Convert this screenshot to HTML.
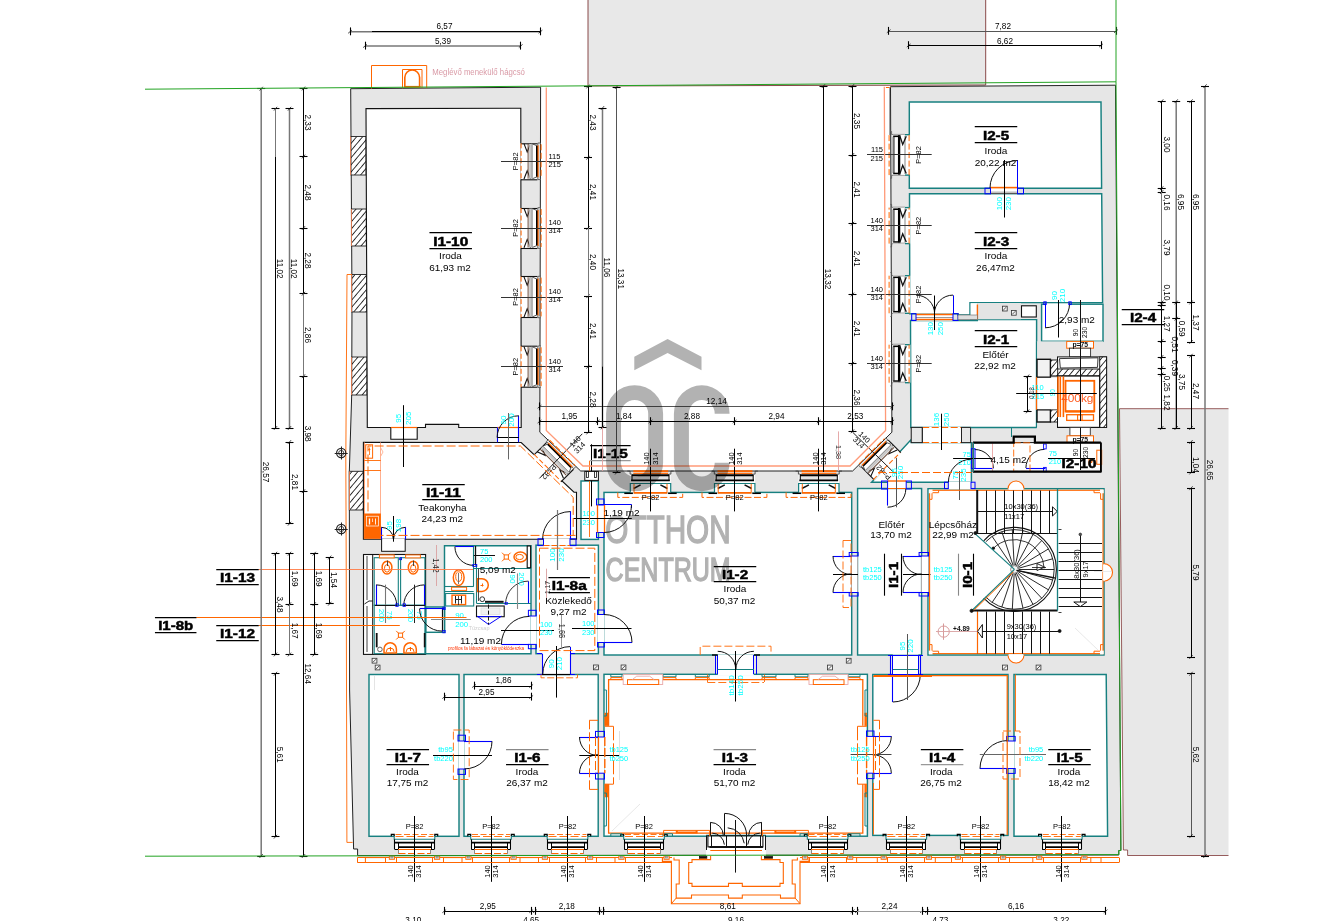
<!DOCTYPE html>
<html lang="hu"><head><meta charset="utf-8"><title>Alaprajz</title>
<style>
html,body{margin:0;padding:0;background:#fff;}
body{width:1337px;height:921px;overflow:hidden;}
svg{display:block;font-family:"Liberation Sans",Arial,sans-serif;}
svg text{white-space:pre;}
</style></head><body>
<svg width="1337" height="921" viewBox="0 0 1337 921">
<defs>
<pattern id="hatch" width="4.6" height="4.6" patternUnits="userSpaceOnUse" patternTransform="rotate(-50)">
<rect width="4.6" height="4.6" fill="#fff"/><line x1="0" y1="2.3" x2="4.6" y2="2.3" stroke="#222" stroke-width="0.9"/>
</pattern>
</defs>
<rect width="1337" height="921" fill="#fff"/>
<polygon points="588,0 985.7,0 985.7,85 588,86" fill="#e8e8e8" stroke="none" stroke-width="0"/>
<polyline points="588,0 588,86 985.7,85 985.7,0" fill="none" stroke="#7d3535" stroke-width="0.9"/>
<polygon points="1119.5,408.7 1228.5,408.7 1228.5,855.5 1127.6,855.5 1127.6,850 1123.4,850" fill="#e8e8e8" stroke="none" stroke-width="0"/>
<polyline points="1228.5,408.7 1119.5,408.7 1123.4,850 1127.6,850 1127.6,855.5 1228.5,855.5" fill="none" stroke="#7d3535" stroke-width="0.8"/>
<polygon points="350.7,88.7 540.6,87.2 539.8,432.2 580.7,471 852.6,471 891.9,432.2 890.5,86.7 1115.5,85.2 1120.9,850.5 1118.8,850.5 1118.8,855 357.6,855.6 357.6,849 353.6,849 349.6,690 349.3,472 351.7,395 352,300" fill="#e6e6e6" stroke="#222" stroke-width="1"/>
<rect x="351" y="136.5" width="15" height="38.5" fill="url(#hatch)" stroke="#222" stroke-width="0.9"/>
<line x1="350.5" y1="136.5" x2="350.5" y2="175" stroke="#ff8855" stroke-width="0.8"/>
<rect x="351.4" y="209" width="14.9" height="37" fill="url(#hatch)" stroke="#222" stroke-width="0.9"/>
<line x1="351.5" y1="209" x2="351.5" y2="246" stroke="#ff8855" stroke-width="0.8"/>
<rect x="351.8" y="274.5" width="15" height="37.5" fill="url(#hatch)" stroke="#222" stroke-width="0.9"/>
<line x1="351.5" y1="274.5" x2="351.5" y2="312" stroke="#ff8855" stroke-width="0.8"/>
<rect x="351.8" y="357" width="15.2" height="38" fill="url(#hatch)" stroke="#222" stroke-width="0.9"/>
<line x1="351.5" y1="357" x2="351.5" y2="395" stroke="#ff8855" stroke-width="0.8"/>
<rect x="349.3" y="471.3" width="14.1" height="38.7" fill="url(#hatch)" stroke="#222" stroke-width="0.9"/>
<line x1="349.5" y1="471.3" x2="349.5" y2="510" stroke="#ff8855" stroke-width="0.8"/>
<polyline points="352,274.5 347,274.5 345.8,460 346.2,560 346.9,842.4 352.6,842.4" fill="none" stroke="#ff6600" stroke-width="0.9"/>
<polygon points="366,108.6 520.8,108.3 521.2,427.5 458.7,427.5 458.7,424.4 425.5,424.4 425.5,427.5 417.2,427.5 417.2,439.3 390.8,439.3 390.8,427.5 367.3,427.5" fill="#fff" stroke="#111" stroke-width="1.1"/>
<polygon points="363.4,442.3 521.2,442.5 574,492.2 576.5,492.2 576.5,539.3 363.4,539.3" fill="#fff" stroke="#111" stroke-width="1.1"/>
<rect x="381.6" y="539.3" width="23.6" height="12" fill="#fff" stroke="#111" stroke-width="1"/>
<line x1="382.2" y1="539.3" x2="404.6" y2="539.3" stroke="#fff" stroke-width="1.4"/>
<rect x="363.5" y="554.5" width="62.1" height="99.9" fill="#fff" stroke="#111" stroke-width="1.1"/>
<polygon points="444.5,545.7 531,545.7 531,653.7 425.6,653.7 425.6,632.3 444.5,632.3" fill="#fff" stroke="#178080" stroke-width="1.45"/>
<rect x="425.9" y="607" width="18.6" height="25.3" fill="#fff" stroke="#178080" stroke-width="1.45"/>
<rect x="536" y="545.2" width="62.4" height="108.5" fill="#fff" stroke="#178080" stroke-width="1.45"/>
<rect x="581" y="481" width="17.4" height="58.4" fill="#fff" stroke="#178080" stroke-width="1.45"/>
<rect x="604" y="492.4" width="247.7" height="162.6" fill="#fff" stroke="#178080" stroke-width="1.45"/>
<rect x="857.6" y="488.5" width="64" height="166.5" fill="#fff" stroke="#178080" stroke-width="1.45"/>
<rect x="928" y="488.7" width="176" height="166.3" fill="#fff" stroke="#178080" stroke-width="1.45"/>
<polygon points="911.2,442.6 971.4,442.6 971.4,482.2 871.6,482.2 911.2,439.6" fill="#fff" stroke="#178080" stroke-width="1.45"/>
<polygon points="909.3,102 1101,102 1101.6,188.2 909.3,188.2" fill="#fff" stroke="#178080" stroke-width="1.45"/>
<polygon points="909.5,193.8 1101.7,193.8 1102.6,302.6 970,302.6 970,315 958,315 958,313.7 909.8,313.7" fill="#fff" stroke="#178080" stroke-width="1.45"/>
<line x1="909.3" y1="191" x2="1101.6" y2="191" stroke="#dedede" stroke-width="4.2"/>
<polygon points="910.5,320.5 977.3,320.5 977.3,319.6 1036.6,319.6 1036.6,427.5 910.8,427.5" fill="#fff" stroke="#178080" stroke-width="1.45"/>
<rect x="970.6" y="303.2" width="6.7" height="16" fill="#fff" stroke="none" stroke-width="0"/>
<line x1="970" y1="319.5" x2="1036.6" y2="319.5" stroke="#178080" stroke-width="1.1"/>
<rect x="977.5" y="303" width="43.5" height="16.3" fill="#e4e4e4" stroke="none" stroke-width="0"/>
<line x1="977.4" y1="304.5" x2="977.4" y2="319.3" stroke="#ff6600" stroke-width="1.4"/>
<rect x="1021.5" y="305.8" width="14.8" height="11.2" fill="#fff" stroke="#111" stroke-width="1.1"/>
<rect x="1041.6" y="304.2" width="61.4" height="37.1" fill="#fff" stroke="#178080" stroke-width="1.45"/>
<rect x="973" y="442.6" width="127.9" height="29" fill="#fff" stroke="#111" stroke-width="1"/>
<rect x="369" y="674.5" width="90" height="161.8" fill="#fff" stroke="#178080" stroke-width="1.45"/>
<rect x="464" y="674.5" width="134.2" height="161.8" fill="#fff" stroke="#178080" stroke-width="1.45"/>
<rect x="604" y="674.3" width="263.4" height="161.9" fill="#fff" stroke="#178080" stroke-width="1.45"/>
<rect x="872.8" y="674.5" width="135.2" height="160.9" fill="#fff" stroke="#178080" stroke-width="1.45"/>
<polygon points="1014,674.5 1106.2,674.5 1107.6,836.2 1014,836.2" fill="#fff" stroke="#178080" stroke-width="1.45"/>
<rect x="394.2" y="834.3" width="40.6" height="15.2" fill="#fff" stroke="none" stroke-width="0"/>
<rect x="398.2" y="849.3" width="32.6" height="4.8" fill="#fff" stroke="none" stroke-width="0"/>
<polyline points="394.2,836.3 394.2,839.3 434.8,839.3 434.8,836.3" fill="none" stroke="#178080" stroke-width="1.1"/>
<line x1="394.9" y1="842.7" x2="434.1" y2="842.7" stroke="#000" stroke-width="1.7"/>
<line x1="398" y1="847.2" x2="431" y2="847.2" stroke="#000" stroke-width="1.7"/>
<line x1="394.5" y1="839.3" x2="394.5" y2="849.5" stroke="#000" stroke-width="1.1"/>
<line x1="398.5" y1="842.7" x2="398.5" y2="849.5" stroke="#000" stroke-width="1"/>
<line x1="394.9" y1="849.5" x2="398" y2="849.5" stroke="#000" stroke-width="1"/>
<line x1="398.5" y1="849.5" x2="398.5" y2="853.9" stroke="#888" stroke-width="1"/>
<polyline points="391.3,836.3 391.3,834.3 394.2,834.3 394.2,836.3" fill="none" stroke="#000" stroke-width="1.2"/>
<line x1="434.5" y1="839.3" x2="434.5" y2="849.5" stroke="#000" stroke-width="1.1"/>
<line x1="431.5" y1="842.7" x2="431.5" y2="849.5" stroke="#000" stroke-width="1"/>
<line x1="434.1" y1="849.5" x2="431" y2="849.5" stroke="#000" stroke-width="1"/>
<line x1="430.5" y1="849.5" x2="430.5" y2="853.9" stroke="#888" stroke-width="1"/>
<polyline points="437.7,836.3 437.7,834.3 434.8,834.3 434.8,836.3" fill="none" stroke="#000" stroke-width="1.2"/>
<line x1="395.5" y1="834.5" x2="433.5" y2="834.5" stroke="#ff6600" stroke-width="0.9" stroke-dasharray="6 2.5"/>
<line x1="395.5" y1="836.5" x2="433.5" y2="836.5" stroke="#ff6600" stroke-width="0.9" stroke-dasharray="8 3"/>
<line x1="398" y1="849.5" x2="431" y2="849.5" stroke="#ff6600" stroke-width="1"/>
<line x1="398.5" y1="853.5" x2="430.5" y2="853.5" stroke="#ff6600" stroke-width="1" stroke-dasharray="7 2.5"/>
<line x1="414.5" y1="816" x2="414.5" y2="881.8" stroke="#000" stroke-width="1"/>
<text transform="translate(414.5 828.7)" font-size="7.5" text-anchor="middle" fill="#000">P=82</text>
<text transform="translate(413.3 871.5) rotate(-90)" font-size="7.5" text-anchor="middle" fill="#000">140</text>
<text transform="translate(421.4 871.5) rotate(-90)" font-size="7.5" text-anchor="middle" fill="#000">314</text>
<rect x="470.7" y="834.3" width="40.6" height="15.2" fill="#fff" stroke="none" stroke-width="0"/>
<rect x="474.7" y="849.3" width="32.6" height="4.8" fill="#fff" stroke="none" stroke-width="0"/>
<polyline points="470.7,836.3 470.7,839.3 511.3,839.3 511.3,836.3" fill="none" stroke="#178080" stroke-width="1.1"/>
<line x1="471.4" y1="842.7" x2="510.6" y2="842.7" stroke="#000" stroke-width="1.7"/>
<line x1="474.5" y1="847.2" x2="507.5" y2="847.2" stroke="#000" stroke-width="1.7"/>
<line x1="471.5" y1="839.3" x2="471.5" y2="849.5" stroke="#000" stroke-width="1.1"/>
<line x1="474.5" y1="842.7" x2="474.5" y2="849.5" stroke="#000" stroke-width="1"/>
<line x1="471.4" y1="849.5" x2="474.5" y2="849.5" stroke="#000" stroke-width="1"/>
<line x1="474.5" y1="849.5" x2="474.5" y2="853.9" stroke="#888" stroke-width="1"/>
<polyline points="467.8,836.3 467.8,834.3 470.7,834.3 470.7,836.3" fill="none" stroke="#000" stroke-width="1.2"/>
<line x1="510.5" y1="839.3" x2="510.5" y2="849.5" stroke="#000" stroke-width="1.1"/>
<line x1="507.5" y1="842.7" x2="507.5" y2="849.5" stroke="#000" stroke-width="1"/>
<line x1="510.6" y1="849.5" x2="507.5" y2="849.5" stroke="#000" stroke-width="1"/>
<line x1="507.5" y1="849.5" x2="507.5" y2="853.9" stroke="#888" stroke-width="1"/>
<polyline points="514.2,836.3 514.2,834.3 511.3,834.3 511.3,836.3" fill="none" stroke="#000" stroke-width="1.2"/>
<line x1="472" y1="834.5" x2="510" y2="834.5" stroke="#ff6600" stroke-width="0.9" stroke-dasharray="6 2.5"/>
<line x1="472" y1="836.5" x2="510" y2="836.5" stroke="#ff6600" stroke-width="0.9" stroke-dasharray="8 3"/>
<line x1="474.5" y1="849.5" x2="507.5" y2="849.5" stroke="#ff6600" stroke-width="1"/>
<line x1="475" y1="853.5" x2="507" y2="853.5" stroke="#ff6600" stroke-width="1" stroke-dasharray="7 2.5"/>
<line x1="491.5" y1="816" x2="491.5" y2="881.8" stroke="#000" stroke-width="1"/>
<text transform="translate(491 828.7)" font-size="7.5" text-anchor="middle" fill="#000">P=82</text>
<text transform="translate(489.8 871.5) rotate(-90)" font-size="7.5" text-anchor="middle" fill="#000">140</text>
<text transform="translate(497.9 871.5) rotate(-90)" font-size="7.5" text-anchor="middle" fill="#000">314</text>
<rect x="547.2" y="834.3" width="40.6" height="15.2" fill="#fff" stroke="none" stroke-width="0"/>
<rect x="551.2" y="849.3" width="32.6" height="4.8" fill="#fff" stroke="none" stroke-width="0"/>
<polyline points="547.2,836.3 547.2,839.3 587.8,839.3 587.8,836.3" fill="none" stroke="#178080" stroke-width="1.1"/>
<line x1="547.9" y1="842.7" x2="587.1" y2="842.7" stroke="#000" stroke-width="1.7"/>
<line x1="551" y1="847.2" x2="584" y2="847.2" stroke="#000" stroke-width="1.7"/>
<line x1="547.5" y1="839.3" x2="547.5" y2="849.5" stroke="#000" stroke-width="1.1"/>
<line x1="551.5" y1="842.7" x2="551.5" y2="849.5" stroke="#000" stroke-width="1"/>
<line x1="547.9" y1="849.5" x2="551" y2="849.5" stroke="#000" stroke-width="1"/>
<line x1="551.5" y1="849.5" x2="551.5" y2="853.9" stroke="#888" stroke-width="1"/>
<polyline points="544.3,836.3 544.3,834.3 547.2,834.3 547.2,836.3" fill="none" stroke="#000" stroke-width="1.2"/>
<line x1="587.5" y1="839.3" x2="587.5" y2="849.5" stroke="#000" stroke-width="1.1"/>
<line x1="584.5" y1="842.7" x2="584.5" y2="849.5" stroke="#000" stroke-width="1"/>
<line x1="587.1" y1="849.5" x2="584" y2="849.5" stroke="#000" stroke-width="1"/>
<line x1="583.5" y1="849.5" x2="583.5" y2="853.9" stroke="#888" stroke-width="1"/>
<polyline points="590.7,836.3 590.7,834.3 587.8,834.3 587.8,836.3" fill="none" stroke="#000" stroke-width="1.2"/>
<line x1="548.5" y1="834.5" x2="586.5" y2="834.5" stroke="#ff6600" stroke-width="0.9" stroke-dasharray="6 2.5"/>
<line x1="548.5" y1="836.5" x2="586.5" y2="836.5" stroke="#ff6600" stroke-width="0.9" stroke-dasharray="8 3"/>
<line x1="551" y1="849.5" x2="584" y2="849.5" stroke="#ff6600" stroke-width="1"/>
<line x1="551.5" y1="853.5" x2="583.5" y2="853.5" stroke="#ff6600" stroke-width="1" stroke-dasharray="7 2.5"/>
<line x1="567.5" y1="816" x2="567.5" y2="881.8" stroke="#000" stroke-width="1"/>
<text transform="translate(567.5 828.7)" font-size="7.5" text-anchor="middle" fill="#000">P=82</text>
<text transform="translate(566.3 871.5) rotate(-90)" font-size="7.5" text-anchor="middle" fill="#000">140</text>
<text transform="translate(574.4 871.5) rotate(-90)" font-size="7.5" text-anchor="middle" fill="#000">314</text>
<rect x="623.7" y="834.3" width="40.6" height="15.2" fill="#fff" stroke="none" stroke-width="0"/>
<rect x="627.7" y="849.3" width="32.6" height="4.8" fill="#fff" stroke="none" stroke-width="0"/>
<polyline points="623.7,836.3 623.7,839.3 664.3,839.3 664.3,836.3" fill="none" stroke="#178080" stroke-width="1.1"/>
<line x1="624.4" y1="842.7" x2="663.6" y2="842.7" stroke="#000" stroke-width="1.7"/>
<line x1="627.5" y1="847.2" x2="660.5" y2="847.2" stroke="#000" stroke-width="1.7"/>
<line x1="624.5" y1="839.3" x2="624.5" y2="849.5" stroke="#000" stroke-width="1.1"/>
<line x1="627.5" y1="842.7" x2="627.5" y2="849.5" stroke="#000" stroke-width="1"/>
<line x1="624.4" y1="849.5" x2="627.5" y2="849.5" stroke="#000" stroke-width="1"/>
<line x1="627.5" y1="849.5" x2="627.5" y2="853.9" stroke="#888" stroke-width="1"/>
<polyline points="620.8,836.3 620.8,834.3 623.7,834.3 623.7,836.3" fill="none" stroke="#000" stroke-width="1.2"/>
<line x1="663.5" y1="839.3" x2="663.5" y2="849.5" stroke="#000" stroke-width="1.1"/>
<line x1="660.5" y1="842.7" x2="660.5" y2="849.5" stroke="#000" stroke-width="1"/>
<line x1="663.6" y1="849.5" x2="660.5" y2="849.5" stroke="#000" stroke-width="1"/>
<line x1="660.5" y1="849.5" x2="660.5" y2="853.9" stroke="#888" stroke-width="1"/>
<polyline points="667.2,836.3 667.2,834.3 664.3,834.3 664.3,836.3" fill="none" stroke="#000" stroke-width="1.2"/>
<line x1="625" y1="834.5" x2="663" y2="834.5" stroke="#ff6600" stroke-width="0.9" stroke-dasharray="6 2.5"/>
<line x1="625" y1="836.5" x2="663" y2="836.5" stroke="#ff6600" stroke-width="0.9" stroke-dasharray="8 3"/>
<line x1="627.5" y1="849.5" x2="660.5" y2="849.5" stroke="#ff6600" stroke-width="1"/>
<line x1="628" y1="853.5" x2="660" y2="853.5" stroke="#ff6600" stroke-width="1" stroke-dasharray="7 2.5"/>
<line x1="644.5" y1="816" x2="644.5" y2="881.8" stroke="#000" stroke-width="1"/>
<text transform="translate(644 828.7)" font-size="7.5" text-anchor="middle" fill="#000">P=82</text>
<text transform="translate(642.8 871.5) rotate(-90)" font-size="7.5" text-anchor="middle" fill="#000">140</text>
<text transform="translate(650.9 871.5) rotate(-90)" font-size="7.5" text-anchor="middle" fill="#000">314</text>
<rect x="807.3" y="834.3" width="40.6" height="15.2" fill="#fff" stroke="none" stroke-width="0"/>
<rect x="811.3" y="849.3" width="32.6" height="4.8" fill="#fff" stroke="none" stroke-width="0"/>
<polyline points="807.3,836.3 807.3,839.3 847.9,839.3 847.9,836.3" fill="none" stroke="#178080" stroke-width="1.1"/>
<line x1="808" y1="842.7" x2="847.2" y2="842.7" stroke="#000" stroke-width="1.7"/>
<line x1="811.1" y1="847.2" x2="844.1" y2="847.2" stroke="#000" stroke-width="1.7"/>
<line x1="808.5" y1="839.3" x2="808.5" y2="849.5" stroke="#000" stroke-width="1.1"/>
<line x1="811.5" y1="842.7" x2="811.5" y2="849.5" stroke="#000" stroke-width="1"/>
<line x1="808" y1="849.5" x2="811.1" y2="849.5" stroke="#000" stroke-width="1"/>
<line x1="811.5" y1="849.5" x2="811.5" y2="853.9" stroke="#888" stroke-width="1"/>
<polyline points="804.4,836.3 804.4,834.3 807.3,834.3 807.3,836.3" fill="none" stroke="#000" stroke-width="1.2"/>
<line x1="847.5" y1="839.3" x2="847.5" y2="849.5" stroke="#000" stroke-width="1.1"/>
<line x1="844.5" y1="842.7" x2="844.5" y2="849.5" stroke="#000" stroke-width="1"/>
<line x1="847.2" y1="849.5" x2="844.1" y2="849.5" stroke="#000" stroke-width="1"/>
<line x1="843.5" y1="849.5" x2="843.5" y2="853.9" stroke="#888" stroke-width="1"/>
<polyline points="850.8,836.3 850.8,834.3 847.9,834.3 847.9,836.3" fill="none" stroke="#000" stroke-width="1.2"/>
<line x1="808.6" y1="834.5" x2="846.6" y2="834.5" stroke="#ff6600" stroke-width="0.9" stroke-dasharray="6 2.5"/>
<line x1="808.6" y1="836.5" x2="846.6" y2="836.5" stroke="#ff6600" stroke-width="0.9" stroke-dasharray="8 3"/>
<line x1="811.1" y1="849.5" x2="844.1" y2="849.5" stroke="#ff6600" stroke-width="1"/>
<line x1="811.6" y1="853.5" x2="843.6" y2="853.5" stroke="#ff6600" stroke-width="1" stroke-dasharray="7 2.5"/>
<line x1="827.5" y1="816" x2="827.5" y2="881.8" stroke="#000" stroke-width="1"/>
<text transform="translate(827.6 828.7)" font-size="7.5" text-anchor="middle" fill="#000">P=82</text>
<text transform="translate(826.4 871.5) rotate(-90)" font-size="7.5" text-anchor="middle" fill="#000">140</text>
<text transform="translate(834.5 871.5) rotate(-90)" font-size="7.5" text-anchor="middle" fill="#000">314</text>
<rect x="886" y="834.3" width="40.6" height="15.2" fill="#fff" stroke="none" stroke-width="0"/>
<rect x="890" y="849.3" width="32.6" height="4.8" fill="#fff" stroke="none" stroke-width="0"/>
<polyline points="886,836.3 886,839.3 926.6,839.3 926.6,836.3" fill="none" stroke="#178080" stroke-width="1.1"/>
<line x1="886.7" y1="842.7" x2="925.9" y2="842.7" stroke="#000" stroke-width="1.7"/>
<line x1="889.8" y1="847.2" x2="922.8" y2="847.2" stroke="#000" stroke-width="1.7"/>
<line x1="886.5" y1="839.3" x2="886.5" y2="849.5" stroke="#000" stroke-width="1.1"/>
<line x1="889.5" y1="842.7" x2="889.5" y2="849.5" stroke="#000" stroke-width="1"/>
<line x1="886.7" y1="849.5" x2="889.8" y2="849.5" stroke="#000" stroke-width="1"/>
<line x1="890.5" y1="849.5" x2="890.5" y2="853.9" stroke="#888" stroke-width="1"/>
<polyline points="883.1,836.3 883.1,834.3 886,834.3 886,836.3" fill="none" stroke="#000" stroke-width="1.2"/>
<line x1="925.5" y1="839.3" x2="925.5" y2="849.5" stroke="#000" stroke-width="1.1"/>
<line x1="922.5" y1="842.7" x2="922.5" y2="849.5" stroke="#000" stroke-width="1"/>
<line x1="925.9" y1="849.5" x2="922.8" y2="849.5" stroke="#000" stroke-width="1"/>
<line x1="922.5" y1="849.5" x2="922.5" y2="853.9" stroke="#888" stroke-width="1"/>
<polyline points="929.5,836.3 929.5,834.3 926.6,834.3 926.6,836.3" fill="none" stroke="#000" stroke-width="1.2"/>
<line x1="887.3" y1="834.5" x2="925.3" y2="834.5" stroke="#ff6600" stroke-width="0.9" stroke-dasharray="6 2.5"/>
<line x1="887.3" y1="836.5" x2="925.3" y2="836.5" stroke="#ff6600" stroke-width="0.9" stroke-dasharray="8 3"/>
<line x1="889.8" y1="849.5" x2="922.8" y2="849.5" stroke="#ff6600" stroke-width="1"/>
<line x1="890.3" y1="853.5" x2="922.3" y2="853.5" stroke="#ff6600" stroke-width="1" stroke-dasharray="7 2.5"/>
<line x1="906.5" y1="816" x2="906.5" y2="881.8" stroke="#000" stroke-width="1"/>
<text transform="translate(906.3 828.7)" font-size="7.5" text-anchor="middle" fill="#000">P=82</text>
<text transform="translate(905.1 871.5) rotate(-90)" font-size="7.5" text-anchor="middle" fill="#000">140</text>
<text transform="translate(913.2 871.5) rotate(-90)" font-size="7.5" text-anchor="middle" fill="#000">314</text>
<rect x="960.2" y="834.3" width="40.6" height="15.2" fill="#fff" stroke="none" stroke-width="0"/>
<rect x="964.2" y="849.3" width="32.6" height="4.8" fill="#fff" stroke="none" stroke-width="0"/>
<polyline points="960.2,836.3 960.2,839.3 1000.8,839.3 1000.8,836.3" fill="none" stroke="#178080" stroke-width="1.1"/>
<line x1="960.9" y1="842.7" x2="1000.1" y2="842.7" stroke="#000" stroke-width="1.7"/>
<line x1="964" y1="847.2" x2="997" y2="847.2" stroke="#000" stroke-width="1.7"/>
<line x1="960.5" y1="839.3" x2="960.5" y2="849.5" stroke="#000" stroke-width="1.1"/>
<line x1="964.5" y1="842.7" x2="964.5" y2="849.5" stroke="#000" stroke-width="1"/>
<line x1="960.9" y1="849.5" x2="964" y2="849.5" stroke="#000" stroke-width="1"/>
<line x1="964.5" y1="849.5" x2="964.5" y2="853.9" stroke="#888" stroke-width="1"/>
<polyline points="957.3,836.3 957.3,834.3 960.2,834.3 960.2,836.3" fill="none" stroke="#000" stroke-width="1.2"/>
<line x1="1000.5" y1="839.3" x2="1000.5" y2="849.5" stroke="#000" stroke-width="1.1"/>
<line x1="997.5" y1="842.7" x2="997.5" y2="849.5" stroke="#000" stroke-width="1"/>
<line x1="1000.1" y1="849.5" x2="997" y2="849.5" stroke="#000" stroke-width="1"/>
<line x1="996.5" y1="849.5" x2="996.5" y2="853.9" stroke="#888" stroke-width="1"/>
<polyline points="1003.7,836.3 1003.7,834.3 1000.8,834.3 1000.8,836.3" fill="none" stroke="#000" stroke-width="1.2"/>
<line x1="961.5" y1="834.5" x2="999.5" y2="834.5" stroke="#ff6600" stroke-width="0.9" stroke-dasharray="6 2.5"/>
<line x1="961.5" y1="836.5" x2="999.5" y2="836.5" stroke="#ff6600" stroke-width="0.9" stroke-dasharray="8 3"/>
<line x1="964" y1="849.5" x2="997" y2="849.5" stroke="#ff6600" stroke-width="1"/>
<line x1="964.5" y1="853.5" x2="996.5" y2="853.5" stroke="#ff6600" stroke-width="1" stroke-dasharray="7 2.5"/>
<line x1="980.5" y1="816" x2="980.5" y2="881.8" stroke="#000" stroke-width="1"/>
<text transform="translate(980.5 828.7)" font-size="7.5" text-anchor="middle" fill="#000">P=82</text>
<text transform="translate(979.3 871.5) rotate(-90)" font-size="7.5" text-anchor="middle" fill="#000">140</text>
<text transform="translate(987.4 871.5) rotate(-90)" font-size="7.5" text-anchor="middle" fill="#000">314</text>
<rect x="1041.5" y="834.3" width="40.6" height="15.2" fill="#fff" stroke="none" stroke-width="0"/>
<rect x="1045.5" y="849.3" width="32.6" height="4.8" fill="#fff" stroke="none" stroke-width="0"/>
<polyline points="1041.5,836.3 1041.5,839.3 1082.1,839.3 1082.1,836.3" fill="none" stroke="#178080" stroke-width="1.1"/>
<line x1="1042.2" y1="842.7" x2="1081.4" y2="842.7" stroke="#000" stroke-width="1.7"/>
<line x1="1045.3" y1="847.2" x2="1078.3" y2="847.2" stroke="#000" stroke-width="1.7"/>
<line x1="1042.5" y1="839.3" x2="1042.5" y2="849.5" stroke="#000" stroke-width="1.1"/>
<line x1="1045.5" y1="842.7" x2="1045.5" y2="849.5" stroke="#000" stroke-width="1"/>
<line x1="1042.2" y1="849.5" x2="1045.3" y2="849.5" stroke="#000" stroke-width="1"/>
<line x1="1045.5" y1="849.5" x2="1045.5" y2="853.9" stroke="#888" stroke-width="1"/>
<polyline points="1038.6,836.3 1038.6,834.3 1041.5,834.3 1041.5,836.3" fill="none" stroke="#000" stroke-width="1.2"/>
<line x1="1081.5" y1="839.3" x2="1081.5" y2="849.5" stroke="#000" stroke-width="1.1"/>
<line x1="1078.5" y1="842.7" x2="1078.5" y2="849.5" stroke="#000" stroke-width="1"/>
<line x1="1081.4" y1="849.5" x2="1078.3" y2="849.5" stroke="#000" stroke-width="1"/>
<line x1="1078.5" y1="849.5" x2="1078.5" y2="853.9" stroke="#888" stroke-width="1"/>
<polyline points="1085,836.3 1085,834.3 1082.1,834.3 1082.1,836.3" fill="none" stroke="#000" stroke-width="1.2"/>
<line x1="1042.8" y1="834.5" x2="1080.8" y2="834.5" stroke="#ff6600" stroke-width="0.9" stroke-dasharray="6 2.5"/>
<line x1="1042.8" y1="836.5" x2="1080.8" y2="836.5" stroke="#ff6600" stroke-width="0.9" stroke-dasharray="8 3"/>
<line x1="1045.3" y1="849.5" x2="1078.3" y2="849.5" stroke="#ff6600" stroke-width="1"/>
<line x1="1045.8" y1="853.5" x2="1077.8" y2="853.5" stroke="#ff6600" stroke-width="1" stroke-dasharray="7 2.5"/>
<line x1="1061.5" y1="816" x2="1061.5" y2="881.8" stroke="#000" stroke-width="1"/>
<text transform="translate(1061.8 828.7)" font-size="7.5" text-anchor="middle" fill="#000">P=82</text>
<text transform="translate(1060.6 871.5) rotate(-90)" font-size="7.5" text-anchor="middle" fill="#000">140</text>
<text transform="translate(1068.7 871.5) rotate(-90)" font-size="7.5" text-anchor="middle" fill="#000">314</text>
<g transform="translate(650.5 471.1) rotate(0)">
<rect x="-20.2" y="3" width="40.4" height="18.6" fill="#fff" stroke="none" stroke-width="0"/>
<line x1="-17.2" y1="0.1" x2="17.7" y2="0.1" stroke="#ff6600" stroke-width="2"/>
<line x1="-17.2" y1="2.5" x2="17.7" y2="2.5" stroke="#ff6600" stroke-width="1"/>
<rect x="-18.8" y="4.2" width="37.4" height="5.1" fill="#e4e4e4" stroke="none" stroke-width="0"/>
<line x1="-18.8" y1="4.2" x2="18.6" y2="4.2" stroke="#000" stroke-width="1.9"/>
<line x1="-19.4" y1="9.3" x2="19.3" y2="9.3" stroke="#000" stroke-width="1.9"/>
<line x1="-18.5" y1="3.4" x2="-18.5" y2="9.8" stroke="#000" stroke-width="1"/>
<line x1="18.5" y1="3.4" x2="18.5" y2="9.8" stroke="#000" stroke-width="1"/>
<polyline points="-23.2,0 -20.4,0 -20.4,3 -18.8,3" fill="none" stroke="#333" stroke-width="0.8"/>
<polyline points="23.2,0 20.4,0 20.4,3 18.6,3" fill="none" stroke="#333" stroke-width="0.8"/>
<polyline points="-20.2,21.1 -20.2,12.4 20.2,12.4 20.2,21.1" fill="none" stroke="#178080" stroke-width="1.2"/>
<line x1="-16.9" y1="17.4" x2="-9.9" y2="13.8" stroke="#111" stroke-width="1.5"/>
<line x1="16.9" y1="17.4" x2="9.9" y2="13.8" stroke="#111" stroke-width="1.5"/>
<line x1="-16.5" y1="12.6" x2="-16.5" y2="21.1" stroke="#ff6600" stroke-width="1"/>
<line x1="16.5" y1="12.6" x2="16.5" y2="21.1" stroke="#ff6600" stroke-width="1"/>
<line x1="-16.8" y1="21.8" x2="16.8" y2="21.8" stroke="#ff6600" stroke-width="1.6"/>
<line x1="-26.2" y1="22.2" x2="-17.6" y2="22.2" stroke="#000" stroke-width="1.5"/>
<line x1="17.6" y1="22.2" x2="26.2" y2="22.2" stroke="#000" stroke-width="1.5"/>
</g>
<polyline points="617.8,492.4 617.8,497.4 682.7,497.4 682.7,492.4" fill="none" stroke="#ff6600" stroke-width="1" stroke-dasharray="7 2.5"/>
<line x1="650.5" y1="448.7" x2="650.5" y2="511.4" stroke="#000" stroke-width="1"/>
<text transform="translate(650.5 499.6)" font-size="7.5" text-anchor="middle" fill="#000">P=82</text>
<text transform="translate(649.3 458.6) rotate(-90)" font-size="7.5" text-anchor="middle" fill="#000">140</text>
<text transform="translate(657.6 458.6) rotate(-90)" font-size="7.5" text-anchor="middle" fill="#000">314</text>
<g transform="translate(734.7 471.1) rotate(0)">
<rect x="-20.2" y="3" width="40.4" height="18.6" fill="#fff" stroke="none" stroke-width="0"/>
<line x1="-17.2" y1="0.1" x2="17.7" y2="0.1" stroke="#ff6600" stroke-width="2"/>
<line x1="-17.2" y1="2.5" x2="17.7" y2="2.5" stroke="#ff6600" stroke-width="1"/>
<rect x="-18.8" y="4.2" width="37.4" height="5.1" fill="#e4e4e4" stroke="none" stroke-width="0"/>
<line x1="-18.8" y1="4.2" x2="18.6" y2="4.2" stroke="#000" stroke-width="1.9"/>
<line x1="-19.4" y1="9.3" x2="19.3" y2="9.3" stroke="#000" stroke-width="1.9"/>
<line x1="-18.5" y1="3.4" x2="-18.5" y2="9.8" stroke="#000" stroke-width="1"/>
<line x1="18.5" y1="3.4" x2="18.5" y2="9.8" stroke="#000" stroke-width="1"/>
<polyline points="-23.2,0 -20.4,0 -20.4,3 -18.8,3" fill="none" stroke="#333" stroke-width="0.8"/>
<polyline points="23.2,0 20.4,0 20.4,3 18.6,3" fill="none" stroke="#333" stroke-width="0.8"/>
<polyline points="-20.2,21.1 -20.2,12.4 20.2,12.4 20.2,21.1" fill="none" stroke="#178080" stroke-width="1.2"/>
<line x1="-16.9" y1="17.4" x2="-9.9" y2="13.8" stroke="#111" stroke-width="1.5"/>
<line x1="16.9" y1="17.4" x2="9.9" y2="13.8" stroke="#111" stroke-width="1.5"/>
<line x1="-16.5" y1="12.6" x2="-16.5" y2="21.1" stroke="#ff6600" stroke-width="1"/>
<line x1="16.5" y1="12.6" x2="16.5" y2="21.1" stroke="#ff6600" stroke-width="1"/>
<line x1="-16.8" y1="21.8" x2="16.8" y2="21.8" stroke="#ff6600" stroke-width="1.6"/>
<line x1="-26.2" y1="22.2" x2="-17.6" y2="22.2" stroke="#000" stroke-width="1.5"/>
<line x1="17.6" y1="22.2" x2="26.2" y2="22.2" stroke="#000" stroke-width="1.5"/>
</g>
<polyline points="702,492.4 702,497.4 766.9,497.4 766.9,492.4" fill="none" stroke="#ff6600" stroke-width="1" stroke-dasharray="7 2.5"/>
<line x1="734.5" y1="448.7" x2="734.5" y2="511.4" stroke="#000" stroke-width="1"/>
<text transform="translate(734.7 499.6)" font-size="7.5" text-anchor="middle" fill="#000">P=82</text>
<text transform="translate(733.5 458.6) rotate(-90)" font-size="7.5" text-anchor="middle" fill="#000">140</text>
<text transform="translate(741.8 458.6) rotate(-90)" font-size="7.5" text-anchor="middle" fill="#000">314</text>
<g transform="translate(818.8 471.1) rotate(0)">
<rect x="-20.2" y="3" width="40.4" height="18.6" fill="#fff" stroke="none" stroke-width="0"/>
<line x1="-17.2" y1="0.1" x2="17.7" y2="0.1" stroke="#ff6600" stroke-width="2"/>
<line x1="-17.2" y1="2.5" x2="17.7" y2="2.5" stroke="#ff6600" stroke-width="1"/>
<rect x="-18.8" y="4.2" width="37.4" height="5.1" fill="#e4e4e4" stroke="none" stroke-width="0"/>
<line x1="-18.8" y1="4.2" x2="18.6" y2="4.2" stroke="#000" stroke-width="1.9"/>
<line x1="-19.4" y1="9.3" x2="19.3" y2="9.3" stroke="#000" stroke-width="1.9"/>
<line x1="-18.5" y1="3.4" x2="-18.5" y2="9.8" stroke="#000" stroke-width="1"/>
<line x1="18.5" y1="3.4" x2="18.5" y2="9.8" stroke="#000" stroke-width="1"/>
<polyline points="-23.2,0 -20.4,0 -20.4,3 -18.8,3" fill="none" stroke="#333" stroke-width="0.8"/>
<polyline points="23.2,0 20.4,0 20.4,3 18.6,3" fill="none" stroke="#333" stroke-width="0.8"/>
<polyline points="-20.2,21.1 -20.2,12.4 20.2,12.4 20.2,21.1" fill="none" stroke="#178080" stroke-width="1.2"/>
<line x1="-16.9" y1="17.4" x2="-9.9" y2="13.8" stroke="#111" stroke-width="1.5"/>
<line x1="16.9" y1="17.4" x2="9.9" y2="13.8" stroke="#111" stroke-width="1.5"/>
<line x1="-16.5" y1="12.6" x2="-16.5" y2="21.1" stroke="#ff6600" stroke-width="1"/>
<line x1="16.5" y1="12.6" x2="16.5" y2="21.1" stroke="#ff6600" stroke-width="1"/>
<line x1="-16.8" y1="21.8" x2="16.8" y2="21.8" stroke="#ff6600" stroke-width="1.6"/>
<line x1="-26.2" y1="22.2" x2="-17.6" y2="22.2" stroke="#000" stroke-width="1.5"/>
<line x1="17.6" y1="22.2" x2="26.2" y2="22.2" stroke="#000" stroke-width="1.5"/>
</g>
<polyline points="786.1,492.4 786.1,497.4 851,497.4 851,492.4" fill="none" stroke="#ff6600" stroke-width="1" stroke-dasharray="7 2.5"/>
<line x1="818.5" y1="448.7" x2="818.5" y2="511.4" stroke="#000" stroke-width="1"/>
<text transform="translate(818.8 499.6)" font-size="7.5" text-anchor="middle" fill="#000">P=82</text>
<text transform="translate(817.6 458.6) rotate(-90)" font-size="7.5" text-anchor="middle" fill="#000">140</text>
<text transform="translate(825.9 458.6) rotate(-90)" font-size="7.5" text-anchor="middle" fill="#000">314</text>
<g transform="translate(540.6 161.3) rotate(90)">
<rect x="-18" y="2.8" width="36" height="17.4" fill="#fff" stroke="none" stroke-width="0"/>
<line x1="-17.5" y1="3.2" x2="-17.5" y2="19.6" stroke="#111" stroke-width="1.1"/>
<line x1="18.5" y1="3.2" x2="18.5" y2="19.6" stroke="#111" stroke-width="1.1"/>
<polyline points="-18.3,-0.3 -18.3,2.8 -15.4,2.8" fill="#e6e6e6" stroke="#444" stroke-width="0.8"/>
<polyline points="18.3,-0.3 18.3,2.8 15.4,2.8" fill="#e6e6e6" stroke="#444" stroke-width="0.8"/>
<polyline points="-17.7,16.6 -9.4,13.4 -17.7,10.1" fill="none" stroke="#111" stroke-width="1.1"/>
<polyline points="17.7,16.6 9.4,13.4 17.7,10.1" fill="none" stroke="#111" stroke-width="1.1"/>
<rect x="-17.4" y="8.1" width="34.8" height="3.3" fill="#c9c9c9" stroke="none" stroke-width="0"/>
<line x1="-17.4" y1="8.5" x2="17.4" y2="8.5" stroke="#8a8a8a" stroke-width="0.9"/>
<line x1="-17.4" y1="12.5" x2="17.4" y2="12.5" stroke="#6a4a3a" stroke-width="1"/>
<line x1="-15.5" y1="3.6" x2="15.5" y2="3.6" stroke="#000" stroke-width="2"/>
<line x1="-15.5" y1="3.6" x2="-17.4" y2="8.1" stroke="#333" stroke-width="0.8"/>
<line x1="15.5" y1="3.6" x2="17.4" y2="8.1" stroke="#333" stroke-width="0.8"/>
<line x1="-16" y1="2.5" x2="16" y2="2.5" stroke="#ff6600" stroke-width="1.2"/>
<line x1="-17" y1="-0.5" x2="17" y2="-0.5" stroke="#ff6600" stroke-width="1" stroke-dasharray="6 2.5"/>
<line x1="-18" y1="19.5" x2="18" y2="19.5" stroke="#ff6600" stroke-width="1" stroke-dasharray="5 2.5"/>
</g>
<line x1="501" y1="161.5" x2="563" y2="161.5" stroke="#333" stroke-width="1"/>
<text transform="translate(548.4 158.5)" font-size="7.5" text-anchor="start" fill="#000">115</text>
<text transform="translate(548.4 166.6)" font-size="7.5" text-anchor="start" fill="#000">215</text>
<text transform="translate(518 161.3) rotate(-90)" font-size="7.5" text-anchor="middle" fill="#000">P=82</text>
<g transform="translate(540.6 228) rotate(90)">
<rect x="-20" y="2.8" width="40" height="17.4" fill="#fff" stroke="none" stroke-width="0"/>
<line x1="-19.5" y1="3.2" x2="-19.5" y2="19.6" stroke="#111" stroke-width="1.1"/>
<line x1="20.5" y1="3.2" x2="20.5" y2="19.6" stroke="#111" stroke-width="1.1"/>
<polyline points="-20.3,-0.3 -20.3,2.8 -17.4,2.8" fill="#e6e6e6" stroke="#444" stroke-width="0.8"/>
<polyline points="20.3,-0.3 20.3,2.8 17.4,2.8" fill="#e6e6e6" stroke="#444" stroke-width="0.8"/>
<polyline points="-19.7,16.6 -11.4,13.4 -19.7,10.1" fill="none" stroke="#111" stroke-width="1.1"/>
<polyline points="19.7,16.6 11.4,13.4 19.7,10.1" fill="none" stroke="#111" stroke-width="1.1"/>
<rect x="-19.4" y="8.1" width="38.8" height="3.3" fill="#c9c9c9" stroke="none" stroke-width="0"/>
<line x1="-19.4" y1="8.5" x2="19.4" y2="8.5" stroke="#8a8a8a" stroke-width="0.9"/>
<line x1="-19.4" y1="12.5" x2="19.4" y2="12.5" stroke="#6a4a3a" stroke-width="1"/>
<line x1="-17.5" y1="3.6" x2="17.5" y2="3.6" stroke="#000" stroke-width="2"/>
<line x1="-17.5" y1="3.6" x2="-19.4" y2="8.1" stroke="#333" stroke-width="0.8"/>
<line x1="17.5" y1="3.6" x2="19.4" y2="8.1" stroke="#333" stroke-width="0.8"/>
<line x1="-18" y1="2.5" x2="18" y2="2.5" stroke="#ff6600" stroke-width="1.2"/>
<line x1="-19" y1="-0.5" x2="19" y2="-0.5" stroke="#ff6600" stroke-width="1" stroke-dasharray="6 2.5"/>
<line x1="-20" y1="19.5" x2="20" y2="19.5" stroke="#ff6600" stroke-width="1" stroke-dasharray="5 2.5"/>
</g>
<line x1="501" y1="228.5" x2="563" y2="228.5" stroke="#333" stroke-width="1"/>
<text transform="translate(548.4 225.2)" font-size="7.5" text-anchor="start" fill="#000">140</text>
<text transform="translate(548.4 233.3)" font-size="7.5" text-anchor="start" fill="#000">314</text>
<text transform="translate(518 228) rotate(-90)" font-size="7.5" text-anchor="middle" fill="#000">P=82</text>
<g transform="translate(540.6 297) rotate(90)">
<rect x="-20.4" y="2.8" width="40.8" height="17.4" fill="#fff" stroke="none" stroke-width="0"/>
<line x1="-20.5" y1="3.2" x2="-20.5" y2="19.6" stroke="#111" stroke-width="1.1"/>
<line x1="20.5" y1="3.2" x2="20.5" y2="19.6" stroke="#111" stroke-width="1.1"/>
<polyline points="-20.7,-0.3 -20.7,2.8 -17.8,2.8" fill="#e6e6e6" stroke="#444" stroke-width="0.8"/>
<polyline points="20.7,-0.3 20.7,2.8 17.8,2.8" fill="#e6e6e6" stroke="#444" stroke-width="0.8"/>
<polyline points="-20.1,16.6 -11.8,13.4 -20.1,10.1" fill="none" stroke="#111" stroke-width="1.1"/>
<polyline points="20.1,16.6 11.8,13.4 20.1,10.1" fill="none" stroke="#111" stroke-width="1.1"/>
<rect x="-19.8" y="8.1" width="39.6" height="3.3" fill="#c9c9c9" stroke="none" stroke-width="0"/>
<line x1="-19.8" y1="8.5" x2="19.8" y2="8.5" stroke="#8a8a8a" stroke-width="0.9"/>
<line x1="-19.8" y1="12.5" x2="19.8" y2="12.5" stroke="#6a4a3a" stroke-width="1"/>
<line x1="-17.9" y1="3.6" x2="17.9" y2="3.6" stroke="#000" stroke-width="2"/>
<line x1="-17.9" y1="3.6" x2="-19.8" y2="8.1" stroke="#333" stroke-width="0.8"/>
<line x1="17.9" y1="3.6" x2="19.8" y2="8.1" stroke="#333" stroke-width="0.8"/>
<line x1="-18.4" y1="2.5" x2="18.4" y2="2.5" stroke="#ff6600" stroke-width="1.2"/>
<line x1="-19.4" y1="-0.5" x2="19.4" y2="-0.5" stroke="#ff6600" stroke-width="1" stroke-dasharray="6 2.5"/>
<line x1="-20.4" y1="19.5" x2="20.4" y2="19.5" stroke="#ff6600" stroke-width="1" stroke-dasharray="5 2.5"/>
</g>
<line x1="501" y1="297.5" x2="563" y2="297.5" stroke="#333" stroke-width="1"/>
<text transform="translate(548.4 294.2)" font-size="7.5" text-anchor="start" fill="#000">140</text>
<text transform="translate(548.4 302.3)" font-size="7.5" text-anchor="start" fill="#000">314</text>
<text transform="translate(518 297) rotate(-90)" font-size="7.5" text-anchor="middle" fill="#000">P=82</text>
<g transform="translate(540.6 366.7) rotate(90)">
<rect x="-20.4" y="2.8" width="40.8" height="17.4" fill="#fff" stroke="none" stroke-width="0"/>
<line x1="-20.5" y1="3.2" x2="-20.5" y2="19.6" stroke="#111" stroke-width="1.1"/>
<line x1="20.5" y1="3.2" x2="20.5" y2="19.6" stroke="#111" stroke-width="1.1"/>
<polyline points="-20.7,-0.3 -20.7,2.8 -17.8,2.8" fill="#e6e6e6" stroke="#444" stroke-width="0.8"/>
<polyline points="20.7,-0.3 20.7,2.8 17.8,2.8" fill="#e6e6e6" stroke="#444" stroke-width="0.8"/>
<polyline points="-20.1,16.6 -11.8,13.4 -20.1,10.1" fill="none" stroke="#111" stroke-width="1.1"/>
<polyline points="20.1,16.6 11.8,13.4 20.1,10.1" fill="none" stroke="#111" stroke-width="1.1"/>
<rect x="-19.8" y="8.1" width="39.6" height="3.3" fill="#c9c9c9" stroke="none" stroke-width="0"/>
<line x1="-19.8" y1="8.5" x2="19.8" y2="8.5" stroke="#8a8a8a" stroke-width="0.9"/>
<line x1="-19.8" y1="12.5" x2="19.8" y2="12.5" stroke="#6a4a3a" stroke-width="1"/>
<line x1="-17.9" y1="3.6" x2="17.9" y2="3.6" stroke="#000" stroke-width="2"/>
<line x1="-17.9" y1="3.6" x2="-19.8" y2="8.1" stroke="#333" stroke-width="0.8"/>
<line x1="17.9" y1="3.6" x2="19.8" y2="8.1" stroke="#333" stroke-width="0.8"/>
<line x1="-18.4" y1="2.5" x2="18.4" y2="2.5" stroke="#ff6600" stroke-width="1.2"/>
<line x1="-19.4" y1="-0.5" x2="19.4" y2="-0.5" stroke="#ff6600" stroke-width="1" stroke-dasharray="6 2.5"/>
<line x1="-20.4" y1="19.5" x2="20.4" y2="19.5" stroke="#ff6600" stroke-width="1" stroke-dasharray="5 2.5"/>
</g>
<line x1="501" y1="366.5" x2="563" y2="366.5" stroke="#333" stroke-width="1"/>
<text transform="translate(548.4 363.9)" font-size="7.5" text-anchor="start" fill="#000">140</text>
<text transform="translate(548.4 372)" font-size="7.5" text-anchor="start" fill="#000">314</text>
<text transform="translate(518 366.7) rotate(-90)" font-size="7.5" text-anchor="middle" fill="#000">P=82</text>
<g transform="translate(890.6 154.9) rotate(-90)">
<rect x="-20.2" y="2" width="40.4" height="17.8" fill="#fff" stroke="none" stroke-width="0"/>
<line x1="-18.2" y1="2.6" x2="18.2" y2="2.6" stroke="#9a9a9a" stroke-width="1.7"/>
<line x1="-18.2" y1="3.5" x2="18.2" y2="3.5" stroke="#222" stroke-width="0.8"/>
<line x1="-19.7" y1="8.5" x2="19.7" y2="8.5" stroke="#000" stroke-width="2.3"/>
<line x1="-18.6" y1="2.6" x2="-18.6" y2="8.5" stroke="#000" stroke-width="1.6"/>
<line x1="18.6" y1="2.6" x2="18.6" y2="8.5" stroke="#000" stroke-width="1.6"/>
<line x1="-19.2" y1="14.4" x2="19.2" y2="14.4" stroke="#aaa" stroke-width="1.4"/>
<polyline points="-19.6,9 -10.5,12.1 -18.6,15.7" fill="none" stroke="#111" stroke-width="1.3"/>
<polyline points="19.6,9 10.5,12.1 18.6,15.7" fill="none" stroke="#111" stroke-width="1.3"/>
<line x1="-20.2" y1="14.4" x2="-20.2" y2="19.2" stroke="#178080" stroke-width="1.4"/>
<line x1="20.2" y1="14.4" x2="20.2" y2="19.2" stroke="#178080" stroke-width="1.4"/>
<line x1="-20.5" y1="2" x2="-20.5" y2="14.4" stroke="#999" stroke-width="0.9"/>
<line x1="20.5" y1="2" x2="20.5" y2="14.4" stroke="#999" stroke-width="0.9"/>
<polyline points="-23.4,-0.2 -23.4,1 -20.4,1 -20.4,2.2" fill="none" stroke="#555" stroke-width="0.8"/>
<polyline points="23.4,-0.2 23.4,1 20.4,1 20.4,2.2" fill="none" stroke="#555" stroke-width="0.8"/>
<line x1="-20.2" y1="-1.5" x2="20.2" y2="-1.5" stroke="#ff6600" stroke-width="1" stroke-dasharray="6 2.5"/>
<line x1="-20.2" y1="18.5" x2="20.2" y2="18.5" stroke="#ff6600" stroke-width="1" stroke-dasharray="6 2.5"/>
</g>
<line x1="867" y1="154.5" x2="931.7" y2="154.5" stroke="#333" stroke-width="1"/>
<text transform="translate(883 152.3)" font-size="7.5" text-anchor="end" fill="#000">115</text>
<text transform="translate(883 160.5)" font-size="7.5" text-anchor="end" fill="#000">215</text>
<text transform="translate(921 154.9) rotate(-90)" font-size="7.5" text-anchor="middle" fill="#000">P=82</text>
<g transform="translate(890.6 225.6) rotate(-90)">
<rect x="-18" y="2" width="36" height="17.8" fill="#fff" stroke="none" stroke-width="0"/>
<line x1="-16" y1="2.6" x2="16" y2="2.6" stroke="#9a9a9a" stroke-width="1.7"/>
<line x1="-16" y1="3.5" x2="16" y2="3.5" stroke="#222" stroke-width="0.8"/>
<line x1="-17.5" y1="8.5" x2="17.5" y2="8.5" stroke="#000" stroke-width="2.3"/>
<line x1="-16.4" y1="2.6" x2="-16.4" y2="8.5" stroke="#000" stroke-width="1.6"/>
<line x1="16.4" y1="2.6" x2="16.4" y2="8.5" stroke="#000" stroke-width="1.6"/>
<line x1="-17" y1="14.4" x2="17" y2="14.4" stroke="#aaa" stroke-width="1.4"/>
<polyline points="-17.4,9 -8.3,12.1 -16.4,15.7" fill="none" stroke="#111" stroke-width="1.3"/>
<polyline points="17.4,9 8.3,12.1 16.4,15.7" fill="none" stroke="#111" stroke-width="1.3"/>
<line x1="-18" y1="14.4" x2="-18" y2="19.2" stroke="#178080" stroke-width="1.4"/>
<line x1="18" y1="14.4" x2="18" y2="19.2" stroke="#178080" stroke-width="1.4"/>
<line x1="-17.5" y1="2" x2="-17.5" y2="14.4" stroke="#999" stroke-width="0.9"/>
<line x1="18.5" y1="2" x2="18.5" y2="14.4" stroke="#999" stroke-width="0.9"/>
<polyline points="-21.2,-0.2 -21.2,1 -18.2,1 -18.2,2.2" fill="none" stroke="#555" stroke-width="0.8"/>
<polyline points="21.2,-0.2 21.2,1 18.2,1 18.2,2.2" fill="none" stroke="#555" stroke-width="0.8"/>
<line x1="-18" y1="-1.5" x2="18" y2="-1.5" stroke="#ff6600" stroke-width="1" stroke-dasharray="6 2.5"/>
<line x1="-18" y1="18.5" x2="18" y2="18.5" stroke="#ff6600" stroke-width="1" stroke-dasharray="6 2.5"/>
</g>
<line x1="867" y1="225.5" x2="931.7" y2="225.5" stroke="#333" stroke-width="1"/>
<text transform="translate(883 223)" font-size="7.5" text-anchor="end" fill="#000">140</text>
<text transform="translate(883 231.2)" font-size="7.5" text-anchor="end" fill="#000">314</text>
<text transform="translate(921 225.6) rotate(-90)" font-size="7.5" text-anchor="middle" fill="#000">P=82</text>
<g transform="translate(890.6 294.5) rotate(-90)">
<rect x="-18.8" y="2" width="37.6" height="17.8" fill="#fff" stroke="none" stroke-width="0"/>
<line x1="-16.8" y1="2.6" x2="16.8" y2="2.6" stroke="#9a9a9a" stroke-width="1.7"/>
<line x1="-16.8" y1="3.5" x2="16.8" y2="3.5" stroke="#222" stroke-width="0.8"/>
<line x1="-18.3" y1="8.5" x2="18.3" y2="8.5" stroke="#000" stroke-width="2.3"/>
<line x1="-17.2" y1="2.6" x2="-17.2" y2="8.5" stroke="#000" stroke-width="1.6"/>
<line x1="17.2" y1="2.6" x2="17.2" y2="8.5" stroke="#000" stroke-width="1.6"/>
<line x1="-17.8" y1="14.4" x2="17.8" y2="14.4" stroke="#aaa" stroke-width="1.4"/>
<polyline points="-18.2,9 -9.1,12.1 -17.2,15.7" fill="none" stroke="#111" stroke-width="1.3"/>
<polyline points="18.2,9 9.1,12.1 17.2,15.7" fill="none" stroke="#111" stroke-width="1.3"/>
<line x1="-18.8" y1="14.4" x2="-18.8" y2="19.2" stroke="#178080" stroke-width="1.4"/>
<line x1="18.8" y1="14.4" x2="18.8" y2="19.2" stroke="#178080" stroke-width="1.4"/>
<line x1="-18.5" y1="2" x2="-18.5" y2="14.4" stroke="#999" stroke-width="0.9"/>
<line x1="18.5" y1="2" x2="18.5" y2="14.4" stroke="#999" stroke-width="0.9"/>
<polyline points="-22,-0.2 -22,1 -19,1 -19,2.2" fill="none" stroke="#555" stroke-width="0.8"/>
<polyline points="22,-0.2 22,1 19,1 19,2.2" fill="none" stroke="#555" stroke-width="0.8"/>
<line x1="-18.8" y1="-1.5" x2="18.8" y2="-1.5" stroke="#ff6600" stroke-width="1" stroke-dasharray="6 2.5"/>
<line x1="-18.8" y1="18.5" x2="18.8" y2="18.5" stroke="#ff6600" stroke-width="1" stroke-dasharray="6 2.5"/>
</g>
<line x1="867" y1="294.5" x2="931.7" y2="294.5" stroke="#333" stroke-width="1"/>
<text transform="translate(883 291.9)" font-size="7.5" text-anchor="end" fill="#000">140</text>
<text transform="translate(883 300.1)" font-size="7.5" text-anchor="end" fill="#000">314</text>
<text transform="translate(921 294.5) rotate(-90)" font-size="7.5" text-anchor="middle" fill="#000">P=82</text>
<g transform="translate(890.6 363.7) rotate(-90)">
<rect x="-19" y="2" width="38" height="17.8" fill="#fff" stroke="none" stroke-width="0"/>
<line x1="-17" y1="2.6" x2="17" y2="2.6" stroke="#9a9a9a" stroke-width="1.7"/>
<line x1="-17" y1="3.5" x2="17" y2="3.5" stroke="#222" stroke-width="0.8"/>
<line x1="-18.5" y1="8.5" x2="18.5" y2="8.5" stroke="#000" stroke-width="2.3"/>
<line x1="-17.4" y1="2.6" x2="-17.4" y2="8.5" stroke="#000" stroke-width="1.6"/>
<line x1="17.4" y1="2.6" x2="17.4" y2="8.5" stroke="#000" stroke-width="1.6"/>
<line x1="-18" y1="14.4" x2="18" y2="14.4" stroke="#aaa" stroke-width="1.4"/>
<polyline points="-18.4,9 -9.3,12.1 -17.4,15.7" fill="none" stroke="#111" stroke-width="1.3"/>
<polyline points="18.4,9 9.3,12.1 17.4,15.7" fill="none" stroke="#111" stroke-width="1.3"/>
<line x1="-19" y1="14.4" x2="-19" y2="19.2" stroke="#178080" stroke-width="1.4"/>
<line x1="19" y1="14.4" x2="19" y2="19.2" stroke="#178080" stroke-width="1.4"/>
<line x1="-18.5" y1="2" x2="-18.5" y2="14.4" stroke="#999" stroke-width="0.9"/>
<line x1="19.5" y1="2" x2="19.5" y2="14.4" stroke="#999" stroke-width="0.9"/>
<polyline points="-22.2,-0.2 -22.2,1 -19.2,1 -19.2,2.2" fill="none" stroke="#555" stroke-width="0.8"/>
<polyline points="22.2,-0.2 22.2,1 19.2,1 19.2,2.2" fill="none" stroke="#555" stroke-width="0.8"/>
<line x1="-19" y1="-1.5" x2="19" y2="-1.5" stroke="#ff6600" stroke-width="1" stroke-dasharray="6 2.5"/>
<line x1="-19" y1="18.5" x2="19" y2="18.5" stroke="#ff6600" stroke-width="1" stroke-dasharray="6 2.5"/>
</g>
<line x1="867" y1="363.5" x2="931.7" y2="363.5" stroke="#333" stroke-width="1"/>
<text transform="translate(883 361.1)" font-size="7.5" text-anchor="end" fill="#000">140</text>
<text transform="translate(883 369.3)" font-size="7.5" text-anchor="end" fill="#000">314</text>
<text transform="translate(921 363.7) rotate(-90)" font-size="7.5" text-anchor="middle" fill="#000">P=82</text>
<g transform="translate(562 453.2) rotate(45)">
<rect x="-19" y="2.8" width="38" height="18.8" fill="#fff" stroke="none" stroke-width="0"/>
<line x1="-18.5" y1="3.2" x2="-18.5" y2="21" stroke="#111" stroke-width="1.1"/>
<line x1="19.5" y1="3.2" x2="19.5" y2="21" stroke="#111" stroke-width="1.1"/>
<polyline points="-19.3,-0.3 -19.3,2.8 -16.4,2.8" fill="#e6e6e6" stroke="#444" stroke-width="0.8"/>
<polyline points="19.3,-0.3 19.3,2.8 16.4,2.8" fill="#e6e6e6" stroke="#444" stroke-width="0.8"/>
<polyline points="-18.7,16.6 -10.4,13.4 -18.7,10.1" fill="none" stroke="#111" stroke-width="1.1"/>
<polyline points="18.7,16.6 10.4,13.4 18.7,10.1" fill="none" stroke="#111" stroke-width="1.1"/>
<rect x="-18.4" y="8.1" width="36.8" height="3.3" fill="#c9c9c9" stroke="none" stroke-width="0"/>
<line x1="-18.4" y1="8.5" x2="18.4" y2="8.5" stroke="#8a8a8a" stroke-width="0.9"/>
<line x1="-18.4" y1="12.5" x2="18.4" y2="12.5" stroke="#6a4a3a" stroke-width="1"/>
<line x1="-16.5" y1="3.6" x2="16.5" y2="3.6" stroke="#000" stroke-width="2"/>
<line x1="-16.5" y1="3.6" x2="-18.4" y2="8.1" stroke="#333" stroke-width="0.8"/>
<line x1="16.5" y1="3.6" x2="18.4" y2="8.1" stroke="#333" stroke-width="0.8"/>
<line x1="-17" y1="2.5" x2="17" y2="2.5" stroke="#ff6600" stroke-width="1.2"/>
<line x1="-18" y1="-0.5" x2="18" y2="-0.5" stroke="#ff6600" stroke-width="1" stroke-dasharray="6 2.5"/>
<line x1="-19" y1="20.5" x2="19" y2="20.5" stroke="#ff6600" stroke-width="1" stroke-dasharray="5 2.5"/>
</g>
<line x1="582.3" y1="433.8" x2="539.4" y2="478.4" stroke="#222" stroke-width="1"/>
<text transform="translate(577 443.5) rotate(-46)" font-size="7.5" text-anchor="middle" fill="#000">140</text>
<text transform="translate(581.5 449.5) rotate(-46)" font-size="7.5" text-anchor="middle" fill="#000">314</text>
<text transform="translate(547 470) rotate(134)" font-size="7.5" text-anchor="middle" fill="#000">P=82</text>
<g transform="translate(872.2 451.6) rotate(-45)">
<rect x="-19" y="2.8" width="38" height="18.8" fill="#fff" stroke="none" stroke-width="0"/>
<line x1="-18.5" y1="3.2" x2="-18.5" y2="21" stroke="#111" stroke-width="1.1"/>
<line x1="19.5" y1="3.2" x2="19.5" y2="21" stroke="#111" stroke-width="1.1"/>
<polyline points="-19.3,-0.3 -19.3,2.8 -16.4,2.8" fill="#e6e6e6" stroke="#444" stroke-width="0.8"/>
<polyline points="19.3,-0.3 19.3,2.8 16.4,2.8" fill="#e6e6e6" stroke="#444" stroke-width="0.8"/>
<polyline points="-18.7,16.6 -10.4,13.4 -18.7,10.1" fill="none" stroke="#111" stroke-width="1.1"/>
<polyline points="18.7,16.6 10.4,13.4 18.7,10.1" fill="none" stroke="#111" stroke-width="1.1"/>
<rect x="-18.4" y="8.1" width="36.8" height="3.3" fill="#c9c9c9" stroke="none" stroke-width="0"/>
<line x1="-18.4" y1="8.5" x2="18.4" y2="8.5" stroke="#8a8a8a" stroke-width="0.9"/>
<line x1="-18.4" y1="12.5" x2="18.4" y2="12.5" stroke="#6a4a3a" stroke-width="1"/>
<line x1="-16.5" y1="3.6" x2="16.5" y2="3.6" stroke="#000" stroke-width="2"/>
<line x1="-16.5" y1="3.6" x2="-18.4" y2="8.1" stroke="#333" stroke-width="0.8"/>
<line x1="16.5" y1="3.6" x2="18.4" y2="8.1" stroke="#333" stroke-width="0.8"/>
<line x1="-17" y1="2.5" x2="17" y2="2.5" stroke="#ff6600" stroke-width="1.2"/>
<line x1="-18" y1="-0.5" x2="18" y2="-0.5" stroke="#ff6600" stroke-width="1" stroke-dasharray="6 2.5"/>
<line x1="-19" y1="20.5" x2="19" y2="20.5" stroke="#ff6600" stroke-width="1" stroke-dasharray="5 2.5"/>
</g>
<line x1="852.6" y1="432.2" x2="893.9" y2="472.6" stroke="#222" stroke-width="1"/>
<text transform="translate(862.5 439) rotate(45)" font-size="7.5" text-anchor="middle" fill="#000">140</text>
<text transform="translate(857 444.5) rotate(45)" font-size="7.5" text-anchor="middle" fill="#000">314</text>
<text transform="translate(885.5 470.5) rotate(-135)" font-size="7.5" text-anchor="middle" fill="#000">P=82</text>
<rect x="990.5" y="187.6" width="27" height="6.6" fill="#fff" stroke="none" stroke-width="0"/>
<line x1="990.5" y1="193.5" x2="1017.5" y2="193.5" stroke="#555" stroke-width="1"/>
<line x1="990.5" y1="192.2" x2="1017.5" y2="192.2" stroke="#bbb" stroke-width="1.4"/>
<line x1="990.5" y1="187.6" x2="1017.5" y2="187.6" stroke="#ff6600" stroke-width="1.6"/>
<rect x="985" y="188.2" width="5.5" height="5.6" fill="none" stroke="#0000ff" stroke-width="1"/>
<rect x="1017.5" y="188.2" width="6" height="5.6" fill="none" stroke="#0000ff" stroke-width="1"/>
<line x1="1017.5" y1="160" x2="1017.5" y2="188" stroke="#0000ff" stroke-width="1"/>
<path d="M1017.5 160.5 A27.5 27.5 0 0 0 990 188" fill="none" stroke="#111" stroke-width="1"/>
<line x1="1004.5" y1="160" x2="1004.5" y2="217.5" stroke="#000" stroke-width="1"/>
<text transform="translate(1002.1 203.7) rotate(-90)" font-size="8" text-anchor="middle" fill="#00ffff">100</text>
<text transform="translate(1010.6 203.7) rotate(-90)" font-size="8" text-anchor="middle" fill="#00ffff">230</text>
<rect x="916" y="313.4" width="37" height="7.4" fill="#fff" stroke="none" stroke-width="0"/>
<line x1="916" y1="314.5" x2="953" y2="314.5" stroke="#ff6600" stroke-width="1.3"/>
<line x1="916" y1="319.5" x2="953" y2="319.5" stroke="#ff6600" stroke-width="1.3"/>
<line x1="916" y1="317.5" x2="953" y2="317.5" stroke="#999" stroke-width="1"/>
<rect x="911.7" y="313.7" width="4.3" height="6.8" fill="none" stroke="#0000ff" stroke-width="1"/>
<rect x="953" y="313.7" width="5" height="6.8" fill="none" stroke="#0000ff" stroke-width="1"/>
<line x1="953.5" y1="295.3" x2="953.5" y2="313.7" stroke="#0000ff" stroke-width="1"/>
<path d="M953 295.1 A18.6 18.6 0 0 0 934.4 313.7" fill="none" stroke="#111" stroke-width="1"/>
<path d="M916 295.1 A18.6 18.6 0 0 1 934.6 313.7" fill="none" stroke="#111" stroke-width="1"/>
<line x1="934.5" y1="295.5" x2="934.5" y2="330" stroke="#000" stroke-width="1"/>
<text transform="translate(933.1 328.7) rotate(-90)" font-size="8" text-anchor="middle" fill="#00ffff">130</text>
<text transform="translate(942.6 328.7) rotate(-90)" font-size="8" text-anchor="middle" fill="#00ffff">250</text>
<rect x="958" y="315" width="19.3" height="4.6" fill="#dedede" stroke="#666" stroke-width="0.6"/>
<line x1="1045" y1="304.2" x2="1070" y2="304.2" stroke="#fff" stroke-width="1.6"/>
<line x1="1045.5" y1="303.2" x2="1045.5" y2="327.5" stroke="#0000ff" stroke-width="1"/>
<path d="M1045 327.8 A24.6 24.6 0 0 0 1069.6 303.2" fill="none" stroke="#111" stroke-width="1"/>
<rect x="1043.8" y="301.8" width="2.4" height="2.8" fill="none" stroke="#0000ff" stroke-width="0.9"/>
<rect x="1068.8" y="301.8" width="2.4" height="2.8" fill="none" stroke="#0000ff" stroke-width="0.9"/>
<line x1="1058.5" y1="300" x2="1058.5" y2="337.5" stroke="#000" stroke-width="1"/>
<text transform="translate(1056.6 295.5) rotate(-90)" font-size="8" text-anchor="middle" fill="#00ffff">90</text>
<text transform="translate(1064.8 295.5) rotate(-90)" font-size="8" text-anchor="middle" fill="#00ffff">210</text>
<rect x="922.2" y="427" width="39.3" height="16" fill="#fff" stroke="none" stroke-width="0"/>
<line x1="922.2" y1="427.5" x2="961.5" y2="427.5" stroke="#ff6600" stroke-width="1" stroke-dasharray="7 2.5"/>
<line x1="922.2" y1="442.5" x2="961.5" y2="442.5" stroke="#ff6600" stroke-width="1" stroke-dasharray="7 2.5"/>
<line x1="922.5" y1="427.4" x2="922.5" y2="442.6" stroke="#222" stroke-width="1"/>
<line x1="961.5" y1="427.4" x2="961.5" y2="442.6" stroke="#222" stroke-width="1"/>
<line x1="911.5" y1="427.4" x2="911.5" y2="442.6" stroke="#222" stroke-width="1"/>
<line x1="970.5" y1="427.4" x2="970.5" y2="442.6" stroke="#178080" stroke-width="1"/>
<line x1="941.5" y1="413.7" x2="941.5" y2="450" stroke="#000" stroke-width="1"/>
<text transform="translate(939.3 419.5) rotate(-90)" font-size="8" text-anchor="middle" fill="#00ffff">136</text>
<text transform="translate(949.3 419.5) rotate(-90)" font-size="8" text-anchor="middle" fill="#00ffff">250</text>
<line x1="973" y1="468.5" x2="993.4" y2="468.5" stroke="#0000ff" stroke-width="1.1"/>
<path d="M974.8 449.5 A18.5 18.5 0 0 1 993.3 468" fill="none" stroke="#111" stroke-width="1"/>
<rect x="971.4" y="448.7" width="3.6" height="19.8" fill="none" stroke="#0000ff" stroke-width="1"/>
<text transform="translate(970.8 457)" font-size="7.5" text-anchor="end" fill="#00ffff">75</text>
<text transform="translate(970.8 465.3)" font-size="7.5" text-anchor="end" fill="#00ffff">210</text>
<line x1="953.3" y1="458.5" x2="993" y2="458.5" stroke="#000" stroke-width="1"/>
<line x1="1026" y1="468.5" x2="1045.5" y2="468.5" stroke="#0000ff" stroke-width="1.1"/>
<path d="M1025.9 468 A18.6 18.6 0 0 1 1044.5 449.4" fill="none" stroke="#111" stroke-width="1"/>
<rect x="1043.6" y="444" width="2.6" height="4.9" fill="none" stroke="#0000ff" stroke-width="0.9"/>
<rect x="1043.6" y="467.4" width="2.6" height="4.3" fill="none" stroke="#0000ff" stroke-width="0.9"/>
<text transform="translate(1048.7 456.3)" font-size="7.5" text-anchor="start" fill="#00ffff">75</text>
<text transform="translate(1048.7 464.4)" font-size="7.5" text-anchor="start" fill="#00ffff">210</text>
<line x1="1048" y1="458.5" x2="1095" y2="458.5" stroke="#000" stroke-width="1"/>
<line x1="992.5" y1="443" x2="992.5" y2="471" stroke="#e9a3a3" stroke-width="0.9"/>
<rect x="1013.7" y="442.8" width="16.3" height="28.6" fill="none" stroke="#ff6600" stroke-width="0.9" stroke-dasharray="7 2.5"/>
<rect x="948.3" y="481.6" width="23.1" height="7.6" fill="#fff" stroke="none" stroke-width="0"/>
<path d="M948.4 482.2 A23 23 0 0 1 971.4 459.2" fill="none" stroke="#111" stroke-width="1"/>
<line x1="953.3" y1="458.5" x2="971.4" y2="458.5" stroke="#000" stroke-width="1"/>
<line x1="959.5" y1="471" x2="959.5" y2="500" stroke="#555" stroke-width="1"/>
<text transform="translate(958.3 475) rotate(-90)" font-size="8" text-anchor="middle" fill="#00ffff">75</text>
<text transform="translate(965.8 475) rotate(-90)" font-size="8" text-anchor="middle" fill="#00ffff">235</text>
<rect x="944.5" y="482.2" width="3.8" height="6.4" fill="none" stroke="#0000ff" stroke-width="1"/>
<rect x="971" y="482.2" width="4" height="6.4" fill="none" stroke="#0000ff" stroke-width="1"/>
<rect x="887.6" y="480.6" width="18.6" height="8.7" fill="#fff" stroke="none" stroke-width="0"/>
<line x1="887.6" y1="481" x2="906.2" y2="481" stroke="#ff6600" stroke-width="1.4"/>
<line x1="887.6" y1="488.5" x2="906.2" y2="488.5" stroke="#ff6600" stroke-width="1"/>
<rect x="881.5" y="481" width="6.1" height="8" fill="none" stroke="#0000ff" stroke-width="1"/>
<rect x="906.2" y="481" width="5.2" height="8" fill="none" stroke="#0000ff" stroke-width="1"/>
<line x1="887.5" y1="489" x2="887.5" y2="505.6" stroke="#0000ff" stroke-width="1.1"/>
<path d="M887.6 507.2 A18.2 18.2 0 0 0 905.8 489" fill="none" stroke="#111" stroke-width="1"/>
<line x1="896.5" y1="457.8" x2="896.5" y2="507.3" stroke="#555" stroke-width="1"/>
<text transform="translate(896.5 472.6) rotate(-90)" font-size="8" text-anchor="middle" fill="#00ffff">95</text>
<text transform="translate(903.2 472.6) rotate(-90)" font-size="8" text-anchor="middle" fill="#00ffff">250</text>
<rect x="850.9" y="556" width="7.5" height="36.5" fill="#fff" stroke="none" stroke-width="0"/>
<line x1="851.5" y1="556" x2="851.5" y2="592.5" stroke="#999" stroke-width="0.8"/>
<line x1="857.5" y1="556" x2="857.5" y2="592.5" stroke="#999" stroke-width="0.8"/>
<line x1="833" y1="556.5" x2="851.7" y2="556.5" stroke="#0000ff" stroke-width="1.1"/>
<line x1="833" y1="592.5" x2="851.7" y2="592.5" stroke="#0000ff" stroke-width="1.1"/>
<path d="M833 556 A18.7 18.7 0 0 0 851.7 574.7" fill="none" stroke="#111" stroke-width="1"/>
<path d="M833 592.5 A18.7 18.7 0 0 1 851.7 573.8" fill="none" stroke="#111" stroke-width="1"/>
<line x1="833" y1="574.5" x2="858" y2="574.5" stroke="#000" stroke-width="1"/>
<rect x="849.2" y="552.5" width="8.9" height="3.5" fill="none" stroke="#0000ff" stroke-width="1"/>
<rect x="849.2" y="592.5" width="8.9" height="3.5" fill="none" stroke="#0000ff" stroke-width="1"/>
<text transform="translate(863 571.7)" font-size="7.5" text-anchor="start" fill="#00ffff">tb125</text>
<text transform="translate(863 580)" font-size="7.5" text-anchor="start" fill="#00ffff">tb250</text>
<rect x="920.8" y="556" width="8" height="36.5" fill="#fff" stroke="none" stroke-width="0"/>
<line x1="921.5" y1="556" x2="921.5" y2="592.5" stroke="#999" stroke-width="0.8"/>
<line x1="928.5" y1="556" x2="928.5" y2="592.5" stroke="#999" stroke-width="0.8"/>
<line x1="903" y1="556.5" x2="921.6" y2="556.5" stroke="#0000ff" stroke-width="1.1"/>
<line x1="903" y1="592.5" x2="921.6" y2="592.5" stroke="#0000ff" stroke-width="1.1"/>
<path d="M903 556 A18.6 18.6 0 0 0 921.6 574.6" fill="none" stroke="#111" stroke-width="1"/>
<path d="M903 592.5 A18.6 18.6 0 0 1 921.6 573.9" fill="none" stroke="#111" stroke-width="1"/>
<line x1="903" y1="574.5" x2="930.5" y2="574.5" stroke="#000" stroke-width="1"/>
<rect x="919.1" y="552.5" width="9.4" height="3.5" fill="none" stroke="#0000ff" stroke-width="1"/>
<rect x="919.1" y="592.5" width="9.4" height="3.5" fill="none" stroke="#0000ff" stroke-width="1"/>
<text transform="translate(933.7 571.7)" font-size="7.5" text-anchor="start" fill="#00ffff">tb125</text>
<text transform="translate(933.7 580)" font-size="7.5" text-anchor="start" fill="#00ffff">tb250</text>
<rect x="843" y="540.5" width="8" height="67" fill="none" stroke="#ff6600" stroke-width="0.9" stroke-dasharray="8 3"/>
<line x1="878" y1="472.5" x2="971.4" y2="472.5" stroke="#ff6600" stroke-width="1" stroke-dasharray="8 3"/>
<rect x="892.8" y="654.4" width="25.6" height="20.6" fill="#fff" stroke="none" stroke-width="0"/>
<line x1="890.5" y1="655" x2="890.5" y2="674.5" stroke="#0000ff" stroke-width="1.1"/>
<line x1="892.5" y1="655" x2="892.5" y2="674.5" stroke="#0000ff" stroke-width="1"/>
<line x1="918.5" y1="655" x2="918.5" y2="674.5" stroke="#0000ff" stroke-width="1"/>
<line x1="920.5" y1="655" x2="920.5" y2="674.5" stroke="#0000ff" stroke-width="1.1"/>
<line x1="888" y1="655.5" x2="923" y2="655.5" stroke="#0000ff" stroke-width="1"/>
<line x1="888" y1="674.5" x2="923" y2="674.5" stroke="#0000ff" stroke-width="1"/>
<line x1="892.8" y1="669.5" x2="918.4" y2="669.5" stroke="#178080" stroke-width="1"/>
<line x1="892.5" y1="674.5" x2="892.5" y2="702" stroke="#0000ff" stroke-width="1.1"/>
<path d="M892.8 702 A27.5 27.5 0 0 0 920.3 674.5" fill="none" stroke="#111" stroke-width="1"/>
<line x1="907.5" y1="634" x2="907.5" y2="700" stroke="#555" stroke-width="1"/>
<text transform="translate(905.1 646) rotate(-90)" font-size="8" text-anchor="middle" fill="#00ffff">95</text>
<text transform="translate(913.2 646) rotate(-90)" font-size="8" text-anchor="middle" fill="#00ffff">220</text>
<line x1="873" y1="676.5" x2="932" y2="676.5" stroke="#ff6600" stroke-width="1"/>
<rect x="717.7" y="654.4" width="36.3" height="20.6" fill="#fff" stroke="none" stroke-width="0"/>
<line x1="715.5" y1="655" x2="715.5" y2="674.3" stroke="#0000ff" stroke-width="1"/>
<line x1="717.5" y1="655" x2="717.5" y2="674.3" stroke="#0000ff" stroke-width="1"/>
<line x1="753.5" y1="655" x2="753.5" y2="674.3" stroke="#0000ff" stroke-width="1"/>
<line x1="756.5" y1="655" x2="756.5" y2="674.3" stroke="#0000ff" stroke-width="1"/>
<line x1="712" y1="655" x2="717.7" y2="655" stroke="#000" stroke-width="1.4"/>
<line x1="754" y1="655" x2="760" y2="655" stroke="#000" stroke-width="1.4"/>
<line x1="717.7" y1="669.5" x2="754" y2="669.5" stroke="#178080" stroke-width="1.1"/>
<path d="M717.7 651.3 A18 18 0 0 1 735.7 669.3" fill="none" stroke="#111" stroke-width="1"/>
<path d="M753.9 651.3 A18 18 0 0 0 735.9 669.3" fill="none" stroke="#111" stroke-width="1"/>
<polyline points="700.2,655 700.2,646.2 771,646.2 771,655" fill="none" stroke="#ff6600" stroke-width="0.9" stroke-dasharray="8 3"/>
<line x1="707.3" y1="682.5" x2="764" y2="682.5" stroke="#ff6600" stroke-width="0.9" stroke-dasharray="8 3"/>
<line x1="707.5" y1="674.5" x2="707.5" y2="682" stroke="#ff6600" stroke-width="0.9"/>
<line x1="764.5" y1="674.5" x2="764.5" y2="682" stroke="#ff6600" stroke-width="0.9"/>
<line x1="735.5" y1="651" x2="735.5" y2="701.5" stroke="#000" stroke-width="1"/>
<text transform="translate(734 685.4) rotate(-90)" font-size="8" text-anchor="middle" fill="#00ffff">tb140</text>
<text transform="translate(742.5 685.4) rotate(-90)" font-size="8" text-anchor="middle" fill="#00ffff">tb250</text>
<rect x="543.5" y="538.8" width="26.5" height="7" fill="#fff" stroke="none" stroke-width="0"/>
<rect x="538" y="538.8" width="5.5" height="6.8" fill="none" stroke="#0000ff" stroke-width="1"/>
<rect x="570" y="538.8" width="6" height="6.8" fill="none" stroke="#0000ff" stroke-width="1"/>
<line x1="543.5" y1="545.5" x2="570" y2="545.5" stroke="#ff6600" stroke-width="1" stroke-dasharray="6 2"/>
<line x1="570.5" y1="511.2" x2="570.5" y2="539" stroke="#0000ff" stroke-width="1.1"/>
<path d="M570.2 511.6 A27.6 27.6 0 0 0 542.6 539.2" fill="none" stroke="#111" stroke-width="1"/>
<line x1="557.5" y1="510" x2="557.5" y2="570" stroke="#777" stroke-width="1.2"/>
<text transform="translate(555.3 555) rotate(-90)" font-size="8" text-anchor="middle" fill="#00ffff">100</text>
<text transform="translate(564.1 555) rotate(-90)" font-size="8" text-anchor="middle" fill="#00ffff">230</text>
<rect x="597.8" y="505" width="6.8" height="27.5" fill="#fff" stroke="none" stroke-width="0"/>
<rect x="596.5" y="499" width="7.5" height="6" fill="none" stroke="#0000ff" stroke-width="1"/>
<rect x="596.5" y="532.5" width="7.5" height="5" fill="none" stroke="#0000ff" stroke-width="1"/>
<line x1="597.5" y1="505" x2="597.5" y2="532.5" stroke="#ff6600" stroke-width="1.3"/>
<line x1="604.5" y1="505" x2="604.5" y2="532.5" stroke="#ff6600" stroke-width="1.3"/>
<line x1="598.8" y1="504.5" x2="631.5" y2="504.5" stroke="#0000ff" stroke-width="1.1"/>
<line x1="631.5" y1="504.4" x2="631.5" y2="508" stroke="#0000ff" stroke-width="1"/>
<path d="M631.5 505 A27.5 27.5 0 0 1 604 532.5" fill="none" stroke="#111" stroke-width="1"/>
<line x1="573.2" y1="518.5" x2="631.8" y2="518.5" stroke="#000" stroke-width="1"/>
<text transform="translate(582.4 516)" font-size="7.5" text-anchor="start" fill="#00ffff">100</text>
<text transform="translate(582.4 524.6)" font-size="7.5" text-anchor="start" fill="#00ffff">230</text>
<line x1="589.5" y1="460.7" x2="589.5" y2="537" stroke="#ff6600" stroke-width="0.9"/>
<line x1="591.5" y1="444.2" x2="591.5" y2="506.4" stroke="#000" stroke-width="1"/>
<rect x="597.8" y="614.5" width="6.8" height="28" fill="#fff" stroke="none" stroke-width="0"/>
<rect x="597.5" y="610" width="6.8" height="4.5" fill="none" stroke="#0000ff" stroke-width="1"/>
<rect x="597.5" y="642.5" width="6.8" height="4.5" fill="none" stroke="#0000ff" stroke-width="1"/>
<line x1="604" y1="642.5" x2="632" y2="642.5" stroke="#0000ff" stroke-width="1.1"/>
<path d="M632 642.5 A28 28 0 0 0 604 614.5" fill="none" stroke="#111" stroke-width="1"/>
<line x1="572" y1="628.5" x2="631.5" y2="628.5" stroke="#000" stroke-width="1"/>
<text transform="translate(582 626)" font-size="7.5" text-anchor="start" fill="#00ffff">100</text>
<text transform="translate(582 634.5)" font-size="7.5" text-anchor="start" fill="#00ffff">230</text>
<rect x="530.4" y="616" width="6.2" height="28.4" fill="#fff" stroke="none" stroke-width="0"/>
<rect x="528.4" y="610.3" width="7.8" height="5.7" fill="none" stroke="#0000ff" stroke-width="1"/>
<rect x="528.4" y="644.4" width="7.8" height="4.3" fill="none" stroke="#0000ff" stroke-width="1"/>
<line x1="501.4" y1="644.5" x2="529" y2="644.5" stroke="#0000ff" stroke-width="1.1"/>
<path d="M501.4 644.4 A28 28 0 0 1 529.4 616.4" fill="none" stroke="#111" stroke-width="1"/>
<line x1="501" y1="630.5" x2="554" y2="630.5" stroke="#000" stroke-width="1"/>
<text transform="translate(540 627)" font-size="7.5" text-anchor="start" fill="#00ffff">100</text>
<text transform="translate(540 635.2)" font-size="7.5" text-anchor="start" fill="#00ffff">230</text>
<rect x="542" y="653" width="28.2" height="22" fill="#fff" stroke="none" stroke-width="0"/>
<line x1="542.5" y1="653.7" x2="542.5" y2="674.5" stroke="#0000ff" stroke-width="1.1"/>
<line x1="570.5" y1="653.7" x2="570.5" y2="674.5" stroke="#0000ff" stroke-width="1.1"/>
<line x1="537" y1="653.5" x2="542" y2="653.5" stroke="#0000ff" stroke-width="1"/>
<line x1="570.2" y1="653.5" x2="575" y2="653.5" stroke="#0000ff" stroke-width="1"/>
<line x1="537" y1="674.5" x2="542" y2="674.5" stroke="#0000ff" stroke-width="1"/>
<line x1="570.2" y1="674.5" x2="575" y2="674.5" stroke="#0000ff" stroke-width="1"/>
<line x1="542" y1="674.5" x2="570.2" y2="674.5" stroke="#000" stroke-width="1.2"/>
<line x1="570.5" y1="647" x2="570.5" y2="654" stroke="#0000ff" stroke-width="1"/>
<path d="M570.2 646.6 A27.4 27.4 0 0 0 542.8 674" fill="none" stroke="#111" stroke-width="1"/>
<line x1="556.5" y1="646" x2="556.5" y2="697.6" stroke="#000" stroke-width="1"/>
<text transform="translate(554.1 663.7) rotate(-90)" font-size="8" text-anchor="middle" fill="#00ffff">90</text>
<text transform="translate(562.4 663.7) rotate(-90)" font-size="8" text-anchor="middle" fill="#00ffff">210</text>
<polyline points="541,674.5 541,677.8 577.5,677.8 577.5,674.5" fill="none" stroke="#ff6600" stroke-width="0.9" stroke-dasharray="7 2.5"/>
<rect x="458.4" y="741" width="6.2" height="28" fill="#fff" stroke="none" stroke-width="0"/>
<rect x="458" y="735.2" width="7.5" height="5.8" fill="none" stroke="#0000ff" stroke-width="1"/>
<rect x="458" y="769" width="7.5" height="5.4" fill="none" stroke="#0000ff" stroke-width="1"/>
<line x1="464" y1="741.5" x2="492" y2="741.5" stroke="#0000ff" stroke-width="1.1"/>
<path d="M492 741.3 A27.6 27.6 0 0 1 464.4 768.9" fill="none" stroke="#111" stroke-width="1"/>
<line x1="433" y1="755.5" x2="492" y2="755.5" stroke="#000" stroke-width="1"/>
<rect x="453.4" y="730" width="15.8" height="49.5" fill="none" stroke="#ff6600" stroke-width="0.9" stroke-dasharray="8 3"/>
<text transform="translate(452.9 752.3)" font-size="7.5" text-anchor="end" fill="#00ffff">tb95</text>
<text transform="translate(452.9 761)" font-size="7.5" text-anchor="end" fill="#00ffff">tb220</text>
<rect x="597.4" y="737" width="7.2" height="36.2" fill="#fff" stroke="none" stroke-width="0"/>
<rect x="595.5" y="731.4" width="9" height="5.6" fill="none" stroke="#0000ff" stroke-width="1"/>
<rect x="595.5" y="773.2" width="9" height="5.8" fill="none" stroke="#0000ff" stroke-width="1"/>
<line x1="579.3" y1="737.5" x2="598" y2="737.5" stroke="#0000ff" stroke-width="1.1"/>
<line x1="579.3" y1="773.5" x2="598" y2="773.5" stroke="#0000ff" stroke-width="1.1"/>
<path d="M579.5 737 A18.5 18.5 0 0 0 598 755.5" fill="none" stroke="#111" stroke-width="1"/>
<path d="M579.5 773.2 A18.5 18.5 0 0 1 598 754.7" fill="none" stroke="#111" stroke-width="1"/>
<line x1="579.3" y1="755.5" x2="619.4" y2="755.5" stroke="#000" stroke-width="1"/>
<polyline points="598,720.3 589.3,720.3" fill="none" stroke="#ff6600" stroke-width="1"/>
<polyline points="598,789.4 589.3,789.4" fill="none" stroke="#ff6600" stroke-width="1"/>
<line x1="589.5" y1="720.3" x2="589.5" y2="789.4" stroke="#ff6600" stroke-width="1" stroke-dasharray="9 3"/>
<line x1="595.5" y1="737" x2="595.5" y2="773.2" stroke="#ff6600" stroke-width="1" stroke-dasharray="9 3"/>
<line x1="598.5" y1="737" x2="598.5" y2="773.2" stroke="#ff6600" stroke-width="1.2"/>
<line x1="604.8" y1="737" x2="604.8" y2="773.2" stroke="#ff6600" stroke-width="1.4" stroke-dasharray="9 2"/>
<polyline points="604.8,726.3 613.4,726.3" fill="none" stroke="#ff6600" stroke-width="1"/>
<polyline points="604.8,784.2 613.4,784.2" fill="none" stroke="#ff6600" stroke-width="1"/>
<line x1="613.5" y1="726.3" x2="613.5" y2="784.2" stroke="#ff6600" stroke-width="1" stroke-dasharray="14 3"/>
<line x1="619.5" y1="731" x2="619.5" y2="780" stroke="#ddd" stroke-width="0.9"/>
<text transform="translate(609.4 752.3)" font-size="7.5" text-anchor="start" fill="#00ffff">tb125</text>
<text transform="translate(609.4 761)" font-size="7.5" text-anchor="start" fill="#00ffff">tb250</text>
<rect x="866.8" y="736.4" width="6.6" height="36.8" fill="#fff" stroke="none" stroke-width="0"/>
<rect x="866.5" y="731" width="7.5" height="5.4" fill="none" stroke="#0000ff" stroke-width="1"/>
<rect x="866.5" y="773.2" width="7.5" height="5.4" fill="none" stroke="#0000ff" stroke-width="1"/>
<line x1="872.7" y1="736.5" x2="891.5" y2="736.5" stroke="#0000ff" stroke-width="1.1"/>
<line x1="872.7" y1="773.5" x2="891.5" y2="773.5" stroke="#0000ff" stroke-width="1.1"/>
<path d="M891.3 736.4 A18.5 18.5 0 0 1 872.8 754.9" fill="none" stroke="#111" stroke-width="1"/>
<path d="M891.3 773.2 A18.5 18.5 0 0 0 872.8 754.7" fill="none" stroke="#111" stroke-width="1"/>
<line x1="850.6" y1="754.5" x2="891.5" y2="754.5" stroke="#444" stroke-width="1"/>
<polyline points="866.8,726.3 857.6,726.3" fill="none" stroke="#ff6600" stroke-width="1"/>
<polyline points="866.8,784.2 857.6,784.2" fill="none" stroke="#ff6600" stroke-width="1"/>
<line x1="857.5" y1="726.3" x2="857.5" y2="784.2" stroke="#ff6600" stroke-width="1" stroke-dasharray="14 3"/>
<line x1="866.6" y1="737" x2="866.6" y2="773.2" stroke="#ff6600" stroke-width="1.4" stroke-dasharray="9 2"/>
<line x1="873.5" y1="737" x2="873.5" y2="773.2" stroke="#ff6600" stroke-width="1.2"/>
<line x1="875.5" y1="737" x2="875.5" y2="773.2" stroke="#ff6600" stroke-width="1" stroke-dasharray="9 3"/>
<polyline points="873.4,720.3 879.6,720.3" fill="none" stroke="#ff6600" stroke-width="1"/>
<polyline points="873.4,789.4 879.6,789.4" fill="none" stroke="#ff6600" stroke-width="1"/>
<line x1="879.5" y1="720.3" x2="879.5" y2="789.4" stroke="#ff6600" stroke-width="1" stroke-dasharray="9 3"/>
<text transform="translate(869.6 752.3)" font-size="7.5" text-anchor="end" fill="#00ffff">tb125</text>
<text transform="translate(869.6 761)" font-size="7.5" text-anchor="end" fill="#00ffff">tb250</text>
<rect x="1007.4" y="741" width="7.2" height="27.5" fill="#fff" stroke="none" stroke-width="0"/>
<rect x="1006.5" y="736.4" width="8.7" height="4.6" fill="none" stroke="#0000ff" stroke-width="1"/>
<rect x="1006.5" y="768.5" width="8.7" height="4.9" fill="none" stroke="#0000ff" stroke-width="1"/>
<line x1="979.8" y1="768.5" x2="1008" y2="768.5" stroke="#0000ff" stroke-width="1.1"/>
<path d="M980 768.5 A28 28 0 0 1 1008 740.5" fill="none" stroke="#111" stroke-width="1"/>
<line x1="979.8" y1="754.5" x2="1046" y2="754.5" stroke="#666" stroke-width="1"/>
<rect x="1003" y="731" width="17" height="48" fill="none" stroke="#ff6600" stroke-width="0.9" stroke-dasharray="8 3"/>
<text transform="translate(1043.3 752.3)" font-size="7.5" text-anchor="end" fill="#00ffff">tb95</text>
<text transform="translate(1043.3 761)" font-size="7.5" text-anchor="end" fill="#00ffff">tb220</text>
<line x1="390.8" y1="427.5" x2="417.2" y2="427.5" stroke="#ff6600" stroke-width="1.2"/>
<line x1="403.5" y1="405.2" x2="403.5" y2="467" stroke="#000" stroke-width="1"/>
<text transform="translate(401.3 418.3) rotate(-90)" font-size="8" text-anchor="middle" fill="#00ffff">95</text>
<text transform="translate(411 418.3) rotate(-90)" font-size="8" text-anchor="middle" fill="#00ffff">205</text>
<line x1="381.5" y1="527.2" x2="381.5" y2="539.3" stroke="#0000ff" stroke-width="1.1"/>
<line x1="405.5" y1="527.2" x2="405.5" y2="539.3" stroke="#0000ff" stroke-width="1.1"/>
<path d="M381.4 527.3 A12 12 0 0 1 393.4 539.3" fill="none" stroke="#111" stroke-width="1"/>
<path d="M405.5 527.3 A12 12 0 0 0 393.5 539.3" fill="none" stroke="#111" stroke-width="1"/>
<line x1="393.5" y1="516" x2="393.5" y2="541.7" stroke="#000" stroke-width="1"/>
<text transform="translate(391.6 525.5) rotate(-90)" font-size="8" text-anchor="middle" fill="#00ffff">95</text>
<text transform="translate(401.4 525.5) rotate(-90)" font-size="8" text-anchor="middle" fill="#00ffff">198</text>
<rect x="497.3" y="427" width="21.5" height="15.9" fill="#fff" stroke="none" stroke-width="0"/>
<line x1="497.3" y1="427.5" x2="518.8" y2="427.5" stroke="#ff6600" stroke-width="1.2"/>
<line x1="497.5" y1="427.3" x2="497.5" y2="442.4" stroke="#0000ff" stroke-width="1.1"/>
<line x1="518.5" y1="415.7" x2="518.5" y2="442.4" stroke="#0000ff" stroke-width="1.1"/>
<line x1="497.3" y1="437.5" x2="518.8" y2="437.5" stroke="#000" stroke-width="1"/>
<line x1="497.3" y1="442.5" x2="518.8" y2="442.5" stroke="#000" stroke-width="1"/>
<path d="M518.8 415.8 A21.7 21.7 0 0 0 497.1 437.5" fill="none" stroke="#111" stroke-width="1"/>
<line x1="508.5" y1="413" x2="508.5" y2="459.4" stroke="#666" stroke-width="1"/>
<text transform="translate(506.1 420) rotate(-90)" font-size="8" text-anchor="middle" fill="#00ffff">90</text>
<text transform="translate(514.3 420) rotate(-90)" font-size="8" text-anchor="middle" fill="#00ffff">200</text>
<polyline points="371.5,88.6 371.5,65.5 426.7,65.5 426.7,88.2" fill="none" stroke="#ff6600" stroke-width="1"/>
<polyline points="402.5,88.3 402.5,69.5 422,69.5 422,88.2" fill="none" stroke="#ff6600" stroke-width="1"/>
<path d="M404.8 87 L404.8 77.6 A7.4 7.6 0 0 1 419.6 77.6 L419.6 87 Z" fill="none" stroke="#ff6600" stroke-width="1.6"/>
<line x1="404" y1="86.5" x2="420.5" y2="86.5" stroke="#ff6600" stroke-width="1.2"/>
<circle cx="341.2" cy="453" r="4.6" fill="none" stroke="#222" stroke-width="1.2"/>
<circle cx="341.2" cy="453" r="2.6" fill="none" stroke="#222" stroke-width="0.8"/>
<line x1="334.7" y1="453.5" x2="347.7" y2="453.5" stroke="#222" stroke-width="1"/>
<line x1="341.5" y1="446.5" x2="341.5" y2="459.5" stroke="#222" stroke-width="1"/>
<circle cx="341.2" cy="529" r="4.6" fill="none" stroke="#222" stroke-width="1.2"/>
<circle cx="341.2" cy="529" r="2.6" fill="none" stroke="#222" stroke-width="0.8"/>
<line x1="334.7" y1="529.5" x2="347.7" y2="529.5" stroke="#222" stroke-width="1"/>
<line x1="341.5" y1="522.5" x2="341.5" y2="535.5" stroke="#222" stroke-width="1"/>
<circle cx="943.7" cy="631.6" r="5.6" fill="none" stroke="#d79a9a" stroke-width="1"/>
<line x1="943.5" y1="623.5" x2="943.5" y2="639.8" stroke="#d79a9a" stroke-width="1"/>
<text transform="translate(953.1 630.6)" font-size="6.6" text-anchor="start" fill="#111" font-weight="bold">+4.89</text>
<rect x="372.1" y="658.3" width="4.8" height="4.8" fill="#f4f4f4" stroke="#333" stroke-width="0.8"/>
<line x1="372.9" y1="662.3" x2="376.1" y2="659.1" stroke="#333" stroke-width="0.8"/>
<rect x="375.2" y="665.1" width="4.8" height="4.8" fill="#f4f4f4" stroke="#333" stroke-width="0.8"/>
<line x1="376" y1="669.1" x2="379.2" y2="665.9" stroke="#333" stroke-width="0.8"/>
<rect x="593.6" y="665" width="4.8" height="4.8" fill="#f4f4f4" stroke="#333" stroke-width="0.8"/>
<line x1="594.4" y1="669" x2="597.6" y2="665.8" stroke="#333" stroke-width="0.8"/>
<rect x="621.1" y="665" width="4.8" height="4.8" fill="#f4f4f4" stroke="#333" stroke-width="0.8"/>
<line x1="621.9" y1="669" x2="625.1" y2="665.8" stroke="#333" stroke-width="0.8"/>
<rect x="827.6" y="665.1" width="4.8" height="4.8" fill="#f4f4f4" stroke="#333" stroke-width="0.8"/>
<line x1="828.4" y1="669.1" x2="831.6" y2="665.9" stroke="#333" stroke-width="0.8"/>
<rect x="846.3" y="658.3" width="4.8" height="4.8" fill="#f4f4f4" stroke="#333" stroke-width="0.8"/>
<line x1="847.1" y1="662.3" x2="850.3" y2="659.1" stroke="#333" stroke-width="0.8"/>
<rect x="1002.6" y="665.1" width="4.8" height="4.8" fill="#f4f4f4" stroke="#333" stroke-width="0.8"/>
<line x1="1003.4" y1="669.1" x2="1006.6" y2="665.9" stroke="#333" stroke-width="0.8"/>
<rect x="1036.1" y="665.1" width="4.8" height="4.8" fill="#f4f4f4" stroke="#333" stroke-width="0.8"/>
<line x1="1036.9" y1="669.1" x2="1040.1" y2="665.9" stroke="#333" stroke-width="0.8"/>
<rect x="1002.4" y="306.2" width="4.8" height="4.8" fill="#f4f4f4" stroke="#333" stroke-width="0.8"/>
<line x1="1003.2" y1="310.2" x2="1006.4" y2="307" stroke="#333" stroke-width="0.8"/>
<rect x="1011.4" y="310.4" width="4.8" height="4.8" fill="#f4f4f4" stroke="#333" stroke-width="0.8"/>
<line x1="1012.2" y1="314.4" x2="1015.4" y2="311.2" stroke="#333" stroke-width="0.8"/>
<line x1="364.5" y1="442.5" x2="364.5" y2="514" stroke="#ff9966" stroke-width="0.9"/>
<line x1="380.5" y1="442.5" x2="380.5" y2="514" stroke="#ffb090" stroke-width="1"/>
<line x1="364.3" y1="460.5" x2="380.8" y2="460.5" stroke="#ff6600" stroke-width="0.9"/>
<line x1="364.3" y1="470.5" x2="380.8" y2="470.5" stroke="#ff6600" stroke-width="0.9"/>
<polyline points="380.8,448 383,452 380.8,456" fill="none" stroke="#ffb090" stroke-width="0.9"/>
<rect x="365.7" y="444.8" width="6.9" height="13.4" fill="none" stroke="#ff6600" stroke-width="1"/>
<line x1="368.2" y1="449.5" x2="370.3" y2="449.5" stroke="#ff6600" stroke-width="1.2"/>
<line x1="369.5" y1="447.5" x2="369.5" y2="455" stroke="#ff6600" stroke-width="0.8"/>
<polyline points="575.5,535.4 380.5,535.4" fill="none" stroke="#ff6600" stroke-width="1" stroke-dasharray="9 3"/>
<polyline points="368,535.4 368,446 520.4,446 573.2,497.4 573.2,535.4" fill="none" stroke="#ff6600" stroke-width="1" stroke-dasharray="9 3"/>
<rect x="364.3" y="514" width="16.1" height="24.3" fill="#ff6600" stroke="#ff6600" stroke-width="1"/>
<rect x="366.4" y="516.2" width="12" height="9.8" fill="#ff6600" stroke="#fff" stroke-width="0.7"/>
<line x1="369.5" y1="518.5" x2="369.5" y2="524.5" stroke="#fff" stroke-width="1.3"/>
<line x1="375.5" y1="518.5" x2="375.5" y2="524.5" stroke="#fff" stroke-width="0.9"/>
<line x1="372.5" y1="518.5" x2="372.5" y2="522" stroke="#fff" stroke-width="0.7"/>
<polyline points="372.7,554.5 372.7,654.4" fill="none" stroke="#111" stroke-width="1"/>
<polyline points="364.5,604 369,601 372.7,601" fill="none" stroke="#111" stroke-width="0.9"/>
<polyline points="367,556 367,600" fill="none" stroke="#111" stroke-width="0.8"/>
<polyline points="367,606 367,652" fill="none" stroke="#111" stroke-width="0.8"/>
<rect x="374.2" y="557.7" width="24.1" height="47.6" fill="none" stroke="#178080" stroke-width="1.1"/>
<rect x="400.6" y="557.7" width="24.3" height="47.6" fill="none" stroke="#178080" stroke-width="1.1"/>
<rect x="374.2" y="605.3" width="50.7" height="48.4" fill="none" stroke="#178080" stroke-width="1.1"/>
<rect x="379.4" y="554.9" width="14.8" height="3" fill="#fff" stroke="#ff6600" stroke-width="1"/>
<ellipse cx="387" cy="567.6" rx="4.9" ry="6.4" fill="none" stroke="#ff6600" stroke-width="1.5"/>
<ellipse cx="387" cy="568.4" rx="2.6" ry="3.8" fill="none" stroke="#ff6600" stroke-width="1"/>
<line x1="387.5" y1="560.5" x2="387.5" y2="566" stroke="#333" stroke-width="0.9"/>
<rect x="405.6" y="554.9" width="14.8" height="3" fill="#fff" stroke="#ff6600" stroke-width="1"/>
<ellipse cx="413.2" cy="567.6" rx="4.9" ry="6.4" fill="none" stroke="#ff6600" stroke-width="1.5"/>
<ellipse cx="413.2" cy="568.4" rx="2.6" ry="3.8" fill="none" stroke="#ff6600" stroke-width="1"/>
<line x1="413.5" y1="560.5" x2="413.5" y2="566" stroke="#333" stroke-width="0.9"/>
<rect x="399.6" y="557.7" width="2" height="2" fill="none" stroke="#0000ff" stroke-width="0.8"/>
<line x1="376.5" y1="584.7" x2="376.5" y2="605.3" stroke="#0000ff" stroke-width="1.1"/>
<path d="M376.3 584.9 A20.4 20.4 0 0 1 396.7 605.3" fill="none" stroke="#111" stroke-width="1"/>
<line x1="385.5" y1="584.7" x2="385.5" y2="623" stroke="#777" stroke-width="1.1"/>
<line x1="424.5" y1="584.7" x2="424.5" y2="605.3" stroke="#0000ff" stroke-width="1.1"/>
<path d="M424.2 584.9 A20.4 20.4 0 0 0 403.8 605.3" fill="none" stroke="#111" stroke-width="1"/>
<line x1="414.5" y1="584.7" x2="414.5" y2="623" stroke="#222" stroke-width="1"/>
<line x1="375" y1="605.5" x2="397" y2="605.5" stroke="#111" stroke-width="1"/>
<line x1="403.5" y1="605.5" x2="425" y2="605.5" stroke="#111" stroke-width="1"/>
<rect x="395.8" y="603.8" width="2.4" height="2.6" fill="none" stroke="#0000ff" stroke-width="0.8"/>
<rect x="403" y="603.8" width="2.4" height="2.6" fill="none" stroke="#0000ff" stroke-width="0.8"/>
<text transform="translate(387 615.3) rotate(90)" font-size="8" text-anchor="middle" fill="#00ffff">75</text>
<text transform="translate(379.2 615.3) rotate(90)" font-size="8" text-anchor="middle" fill="#00ffff">200</text>
<text transform="translate(417 615.3) rotate(90)" font-size="8" text-anchor="middle" fill="#00ffff">75</text>
<text transform="translate(407.6 615.3) rotate(90)" font-size="8" text-anchor="middle" fill="#00ffff">200</text>
<rect x="398.4" y="633.1" width="4.2" height="4.2" fill="none" stroke="#ff6600" stroke-width="1"/>
<line x1="398.4" y1="633.1" x2="396.2" y2="630.9" stroke="#ff6600" stroke-width="1"/>
<line x1="402.6" y1="633.1" x2="404.8" y2="630.9" stroke="#ff6600" stroke-width="1"/>
<line x1="398.4" y1="637.3" x2="396.2" y2="639.5" stroke="#ff6600" stroke-width="1"/>
<line x1="402.6" y1="637.3" x2="404.8" y2="639.5" stroke="#ff6600" stroke-width="1"/>
<path d="M384 653 L384 649 A6.2 6.2 0 0 1 396.4 649 L396.4 653 Z" fill="none" stroke="#ff6600" stroke-width="1.5"/>
<path d="M386.2 652 A4 4 0 0 1 394.2 652" fill="none" stroke="#ff6600" stroke-width="1"/>
<line x1="388.7" y1="648.5" x2="391.7" y2="648.5" stroke="#ff6600" stroke-width="1"/>
<line x1="390.5" y1="647" x2="390.5" y2="651" stroke="#ff6600" stroke-width="1"/>
<path d="M403.9 653 L403.9 649 A6.2 6.2 0 0 1 416.3 649 L416.3 653 Z" fill="none" stroke="#ff6600" stroke-width="1.5"/>
<path d="M406.1 652 A4 4 0 0 1 414.1 652" fill="none" stroke="#ff6600" stroke-width="1"/>
<line x1="408.6" y1="648.5" x2="411.6" y2="648.5" stroke="#ff6600" stroke-width="1"/>
<line x1="410.5" y1="647" x2="410.5" y2="651" stroke="#ff6600" stroke-width="1"/>
<circle cx="379.9" cy="649.4" r="2.3" fill="none" stroke="#555" stroke-width="0.9"/>
<line x1="376.7" y1="633" x2="376.7" y2="647.3" stroke="#111" stroke-width="1.8"/>
<line x1="424.6" y1="633" x2="424.6" y2="647.3" stroke="#111" stroke-width="1.6"/>
<line x1="473.5" y1="545.7" x2="473.5" y2="586.6" stroke="#178080" stroke-width="1.1"/>
<line x1="444.5" y1="586.5" x2="473.7" y2="586.5" stroke="#178080" stroke-width="1.1"/>
<line x1="444.5" y1="591.5" x2="473.7" y2="591.5" stroke="#178080" stroke-width="1"/>
<rect x="445.6" y="593.5" width="28.1" height="12.5" fill="none" stroke="#178080" stroke-width="1.1"/>
<line x1="476.5" y1="565" x2="476.5" y2="603.3" stroke="#178080" stroke-width="1.1"/>
<line x1="476.5" y1="603.5" x2="531" y2="603.5" stroke="#178080" stroke-width="1.1"/>
<line x1="473.7" y1="568.5" x2="531" y2="568.5" stroke="#178080" stroke-width="1"/>
<line x1="455.2" y1="546.5" x2="473.7" y2="546.5" stroke="#0000ff" stroke-width="1.1"/>
<path d="M454.9 546.6 A18.8 18.8 0 0 0 473.7 565.4" fill="none" stroke="#111" stroke-width="1"/>
<line x1="475.5" y1="546" x2="475.5" y2="565.5" stroke="#111" stroke-width="1.3"/>
<line x1="473.7" y1="555.5" x2="495" y2="555.5" stroke="#111" stroke-width="1"/>
<rect x="472.8" y="564.5" width="4" height="1.9" fill="none" stroke="#0000ff" stroke-width="0.8"/>
<text transform="translate(480 553.5)" font-size="7.5" text-anchor="start" fill="#00ffff">75</text>
<text transform="translate(480 561.7)" font-size="7.5" text-anchor="start" fill="#00ffff">200</text>
<rect x="504.2" y="554.9" width="4.2" height="4.2" fill="none" stroke="#ff6600" stroke-width="1"/>
<line x1="504.2" y1="554.9" x2="502" y2="552.7" stroke="#ff6600" stroke-width="1"/>
<line x1="508.4" y1="554.9" x2="510.6" y2="552.7" stroke="#ff6600" stroke-width="1"/>
<line x1="504.2" y1="559.1" x2="502" y2="561.3" stroke="#ff6600" stroke-width="1"/>
<line x1="508.4" y1="559.1" x2="510.6" y2="561.3" stroke="#ff6600" stroke-width="1"/>
<ellipse cx="520.4" cy="557" rx="6.4" ry="4.9" fill="none" stroke="#ff6600" stroke-width="1.5"/>
<ellipse cx="519.6" cy="557" rx="3.8" ry="2.6" fill="none" stroke="#ff6600" stroke-width="1"/>
<rect x="527.2" y="546" width="3.4" height="21.7" fill="#fff" stroke="#111" stroke-width="1.1"/>
<ellipse cx="458.7" cy="577.6" rx="5.4" ry="7.8" fill="none" stroke="#ff6600" stroke-width="1.5"/>
<ellipse cx="458.7" cy="576.6" rx="3" ry="4.8" fill="none" stroke="#ff6600" stroke-width="1"/>
<line x1="458.5" y1="573" x2="458.5" y2="584" stroke="#666" stroke-width="0.9"/>
<rect x="451.6" y="587.2" width="15" height="3.2" fill="#fff" stroke="#ff6600" stroke-width="1"/>
<rect x="452" y="595.2" width="13.6" height="9.4" fill="none" stroke="#ff6600" stroke-width="1.4"/>
<line x1="455.5" y1="596" x2="455.5" y2="603.5" stroke="#222" stroke-width="1"/>
<line x1="461.5" y1="596" x2="461.5" y2="603.5" stroke="#222" stroke-width="1"/>
<line x1="455.5" y1="599.5" x2="461.8" y2="599.5" stroke="#222" stroke-width="1"/>
<line x1="458.5" y1="596" x2="458.5" y2="605" stroke="#222" stroke-width="0.8"/>
<path d="M477.5 578.8 L482 578.8 A6.3 6.3 0 0 1 482 591.4 L477.5 591.4 Z" fill="none" stroke="#ff6600" stroke-width="1.5"/>
<line x1="480.5" y1="585.5" x2="483.5" y2="585.5" stroke="#ff6600" stroke-width="1"/>
<line x1="482.5" y1="583.5" x2="482.5" y2="586.5" stroke="#ff6600" stroke-width="1"/>
<circle cx="482.2" cy="599.2" r="2.4" fill="none" stroke="#333" stroke-width="1"/>
<line x1="485" y1="601.8" x2="503.6" y2="601.8" stroke="#111" stroke-width="2"/>
<line x1="478.5" y1="568.5" x2="478.5" y2="601" stroke="#333" stroke-width="0.9"/>
<line x1="528.5" y1="581.2" x2="528.5" y2="603.3" stroke="#0000ff" stroke-width="1.1"/>
<path d="M528.4 581.1 A22.8 22.8 0 0 0 505.6 603.9" fill="none" stroke="#333" stroke-width="1"/>
<line x1="517.5" y1="573.4" x2="517.5" y2="609" stroke="#888" stroke-width="1.1"/>
<text transform="translate(518.6 579) rotate(90)" font-size="8" text-anchor="middle" fill="#00ffff">200</text>
<text transform="translate(510 579) rotate(90)" font-size="8" text-anchor="middle" fill="#00ffff">90</text>
<rect x="505" y="602.4" width="2.5" height="2" fill="none" stroke="#0000ff" stroke-width="0.7"/>
<rect x="476.5" y="606" width="27.7" height="10.7" fill="#fff" stroke="#111" stroke-width="1.1"/>
<rect x="481" y="608" width="19" height="6.5" fill="#f0f0f0" stroke="#ddd" stroke-width="0.8"/>
<polyline points="477.2,616.2 488.6,624.5 501.4,616.2" fill="none" stroke="#0000ff" stroke-width="1"/>
<line x1="478" y1="616.5" x2="501" y2="616.5" stroke="#0000ff" stroke-width="0.9"/>
<line x1="488.5" y1="604.6" x2="488.5" y2="624.5" stroke="#111" stroke-width="1" stroke-dasharray="4 2"/>
<line x1="419.8" y1="608.5" x2="444.5" y2="608.5" stroke="#0000ff" stroke-width="1.1"/>
<line x1="442.5" y1="608.5" x2="442.5" y2="631.6" stroke="#111" stroke-width="1.2"/>
<path d="M419.6 608.7 A22.4 22.4 0 0 0 442 631.1" fill="none" stroke="#111" stroke-width="1"/>
<rect x="442.8" y="607.2" width="2.4" height="2.4" fill="none" stroke="#0000ff" stroke-width="0.8"/>
<rect x="442.8" y="630.4" width="2.4" height="2.4" fill="none" stroke="#0000ff" stroke-width="0.8"/>
<line x1="431" y1="619.5" x2="470.8" y2="619.5" stroke="#888" stroke-width="1.1"/>
<text transform="translate(455.2 617.9)" font-size="7.8" text-anchor="start" fill="#00ffff">90</text>
<text transform="translate(455.2 626.5)" font-size="7.8" text-anchor="start" fill="#00ffff">200</text>
<line x1="436.5" y1="545" x2="436.5" y2="586" stroke="#d9a0a0" stroke-width="0.9"/>
<text transform="translate(433.2 565.5) rotate(90) scale(0.9 1)" font-size="8.3" text-anchor="middle" fill="#222">1,42</text>
<line x1="576.5" y1="492.2" x2="576.5" y2="539.3" stroke="#111" stroke-width="1"/>
<rect x="539.5" y="548.2" width="55.3" height="102.4" fill="none" stroke="#ff6600" stroke-width="1" stroke-dasharray="9 3"/>
<line x1="546.5" y1="568.7" x2="546.5" y2="600" stroke="#d9a0a0" stroke-width="0.9"/>
<text transform="translate(549.6 587.5) rotate(-90) scale(0.9 1)" font-size="7.5" text-anchor="middle" fill="#222">1,17</text>
<line x1="561.5" y1="615" x2="561.5" y2="647.5" stroke="#999" stroke-width="1"/>
<text transform="translate(558.8 631) rotate(90) scale(0.9 1)" font-size="8.3" text-anchor="middle" fill="#222">1,66</text>
<rect x="584.8" y="471.4" width="13.6" height="9" fill="#fff" stroke="#111" stroke-width="1"/>
<rect x="586.6" y="471.4" width="1.8" height="6.1" fill="none" stroke="#111" stroke-width="0.8"/>
<rect x="594.6" y="471.4" width="1.8" height="6.1" fill="none" stroke="#111" stroke-width="0.8"/>
<line x1="258.7" y1="569.5" x2="473" y2="569.5" stroke="#ff7a45" stroke-width="0.9"/>
<line x1="196.2" y1="617.5" x2="466.5" y2="617.5" stroke="#ff6600" stroke-width="1"/>
<line x1="258.7" y1="625.5" x2="399.8" y2="625.5" stroke="#ff6600" stroke-width="1"/>
<rect x="1036.6" y="341.3" width="66.6" height="101.3" fill="#e6e6e6" stroke="none" stroke-width="0"/>
<line x1="1036.5" y1="341.3" x2="1036.5" y2="427.5" stroke="#178080" stroke-width="1.1"/>
<rect x="1066.7" y="341.4" width="26.8" height="6.8" fill="#fff" stroke="#ff6600" stroke-width="1"/>
<rect x="1069.5" y="348.2" width="21.1" height="8.7" fill="#fff" stroke="#333" stroke-width="0.9"/>
<text transform="translate(1080.3 347.3)" font-size="6.8" text-anchor="middle" fill="#111" font-weight="bold">p=75</text>
<rect x="1057.5" y="356.9" width="49.1" height="70.5" fill="#fff" stroke="#111" stroke-width="1"/>
<rect x="1099.7" y="356.9" width="6.9" height="70.5" fill="url(#hatch)" stroke="#111" stroke-width="0.9"/>
<rect x="1050.4" y="369" width="49.3" height="6.9" fill="url(#hatch)" stroke="#111" stroke-width="0.9"/>
<rect x="1050.4" y="360" width="7.3" height="15.9" fill="url(#hatch)" stroke="#111" stroke-width="0.9"/>
<rect x="1050.4" y="409.8" width="7.1" height="12.2" fill="url(#hatch)" stroke="#111" stroke-width="0.9"/>
<polygon points="1059.5,358.6 1098,357.8 1097.5,367.4 1060.3,368" fill="none" stroke="#222" stroke-width="0.9"/>
<rect x="1037" y="359.3" width="13.4" height="17.9" fill="#f2f2f2" stroke="#111" stroke-width="1.4"/>
<rect x="1037" y="409.8" width="13.4" height="12.2" fill="#f2f2f2" stroke="#111" stroke-width="1.4"/>
<rect x="1037.6" y="377.9" width="19.4" height="31.3" fill="#fff" stroke="none" stroke-width="0"/>
<line x1="1036.5" y1="377.2" x2="1036.5" y2="409.8" stroke="#ff6600" stroke-width="1.2"/>
<rect x="1057.5" y="375.9" width="42.2" height="51.5" fill="none" stroke="#111" stroke-width="1"/>
<line x1="1058" y1="376.4" x2="1058" y2="417.1" stroke="#ff6600" stroke-width="1.6"/>
<line x1="1060.3" y1="376.4" x2="1060.3" y2="417.1" stroke="#ff6600" stroke-width="1.6"/>
<line x1="1063.4" y1="376.4" x2="1063.4" y2="417.1" stroke="#ff6600" stroke-width="1.6"/>
<rect x="1065.5" y="380.8" width="28.8" height="30.6" fill="none" stroke="#ff6600" stroke-width="1.8"/>
<rect x="1066.7" y="414.7" width="26.8" height="5.7" fill="none" stroke="#ff6600" stroke-width="1.3"/>
<rect x="1077.6" y="414.7" width="4.5" height="5.7" fill="none" stroke="#ff6600" stroke-width="1.1"/>
<line x1="1065.5" y1="411.4" x2="1094.3" y2="411.4" stroke="#ff6600" stroke-width="2.2"/>
<text transform="translate(1077.3 401.6) scale(1.08 1)" font-size="11" text-anchor="middle" fill="#ff5a1f">400kg</text>
<line x1="1080.5" y1="300" x2="1080.5" y2="421" stroke="#111" stroke-width="1"/>
<rect x="1069.9" y="427.4" width="20.4" height="8.4" fill="#fff" stroke="#333" stroke-width="0.9"/>
<rect x="1067" y="435.8" width="26.5" height="6.6" fill="#fff" stroke="#ff6600" stroke-width="1"/>
<text transform="translate(1080.3 441.6)" font-size="6.8" text-anchor="middle" fill="#111" font-weight="bold">p=75</text>
<line x1="1080.5" y1="427.4" x2="1080.5" y2="470" stroke="#111" stroke-width="1"/>
<text transform="translate(1078 332.5) rotate(-90) scale(0.9 1)" font-size="7.5" text-anchor="middle" fill="#000">90</text>
<text transform="translate(1087.4 332.5) rotate(-90) scale(0.9 1)" font-size="7.5" text-anchor="middle" fill="#000">230</text>
<text transform="translate(1077.8 452.5) rotate(-90) scale(0.9 1)" font-size="7.5" text-anchor="middle" fill="#000">90</text>
<text transform="translate(1087.6 452.5) rotate(-90) scale(0.9 1)" font-size="7.5" text-anchor="middle" fill="#000">230</text>
<rect x="1096.8" y="450.2" width="4.9" height="14.1" fill="none" stroke="#ff6600" stroke-width="1"/>
<text transform="translate(1088 463)" font-size="8" text-anchor="start" fill="#ff6600" font-weight="bold">p</text>
<text transform="translate(1031.6 390.2)" font-size="7.5" text-anchor="start" fill="#00ffff">110</text>
<text transform="translate(1031.6 399.2)" font-size="7.5" text-anchor="start" fill="#00ffff">215</text>
<text transform="translate(1054.8 392.7) rotate(-90)" font-size="6.5" text-anchor="middle" fill="#00ffff">90</text>
<line x1="1027.5" y1="376.4" x2="1027.5" y2="411.4" stroke="#000" stroke-width="1"/>
<line x1="1023.6" y1="376.5" x2="1031.6" y2="376.5" stroke="#000" stroke-width="1.1"/>
<line x1="1026" y1="378.3" x2="1029.2" y2="374.5" stroke="#000" stroke-width="0.7"/>
<line x1="1023.6" y1="411.5" x2="1031.6" y2="411.5" stroke="#000" stroke-width="1.1"/>
<line x1="1026" y1="413.3" x2="1029.2" y2="409.5" stroke="#000" stroke-width="0.7"/>
<line x1="1016.2" y1="393.5" x2="1096.8" y2="393.5" stroke="#000" stroke-width="1"/>
<text transform="translate(1034.4 393) rotate(-90) scale(0.9 1)" font-size="6.5" text-anchor="middle" fill="#333">0,18</text>
<rect x="961.5" y="427.4" width="9.1" height="15.2" fill="#e6e6e6" stroke="#222" stroke-width="1"/>
<rect x="911.2" y="427.4" width="11" height="15.2" fill="#e6e6e6" stroke="#222" stroke-width="1"/>
<polyline points="973,442.6 1013.7,442.6 1013.7,436.7 1034.9,436.7 1034.9,442.6 1100.9,442.6" fill="none" stroke="#000" stroke-width="2.2"/>
<line x1="973" y1="471.7" x2="1101.5" y2="471.7" stroke="#000" stroke-width="2.2"/>
<line x1="1100.9" y1="442.6" x2="1100.9" y2="471.7" stroke="#000" stroke-width="1.8"/>
<line x1="973.5" y1="442.6" x2="973.5" y2="471.7" stroke="#178080" stroke-width="1"/>
<line x1="970.6" y1="427.5" x2="1036.6" y2="427.5" stroke="#178080" stroke-width="1.2"/>
<line x1="1011.5" y1="427.5" x2="1011.5" y2="437" stroke="#178080" stroke-width="1"/>
<rect x="929.6" y="490.3" width="173.4" height="163.3" fill="none" stroke="#ff6600" stroke-width="1.1"/>
<polyline points="938.6,490.3 938.6,492.7 932,492.7 932,499.3 929.6,499.3" fill="none" stroke="#ff6600" stroke-width="1"/>
<rect x="929.6" y="490.3" width="2.2" height="2.2" fill="#fff" stroke="#fff" stroke-width="1.5"/>
<polyline points="1094,490.3 1094,492.7 1100.6,492.7 1100.6,499.3 1103,499.3" fill="none" stroke="#ff6600" stroke-width="1"/>
<rect x="1100.8" y="490.3" width="2.2" height="2.2" fill="#fff" stroke="#fff" stroke-width="1.5"/>
<polyline points="938.6,653.6 938.6,651.2 932,651.2 932,644.6 929.6,644.6" fill="none" stroke="#ff6600" stroke-width="1"/>
<rect x="929.6" y="651.4" width="2.2" height="2.2" fill="#fff" stroke="#fff" stroke-width="1.5"/>
<polyline points="1094,653.6 1094,651.2 1100.6,651.2 1100.6,644.6 1103,644.6" fill="none" stroke="#ff6600" stroke-width="1"/>
<rect x="1100.8" y="651.4" width="2.2" height="2.2" fill="#fff" stroke="#fff" stroke-width="1.5"/>
<path d="M1008 489 A8 8 0 0 1 1024 489" fill="#fff" stroke="#ff6600" stroke-width="1.1"/>
<line x1="1008.6" y1="489" x2="1023.4" y2="489" stroke="#fff" stroke-width="1.8"/>
<path d="M1008 655 A8 8 0 0 0 1024 655" fill="#fff" stroke="#ff6600" stroke-width="1.1"/>
<line x1="1008.6" y1="655" x2="1023.4" y2="655" stroke="#fff" stroke-width="1.8"/>
<path d="M1103.7 563.6 A8.8 8.8 0 0 1 1103.7 581.2" fill="#fff" stroke="#ff6600" stroke-width="1.1"/>
<line x1="1104" y1="564.4" x2="1104" y2="580.4" stroke="#fff" stroke-width="1.8"/>
<line x1="1094" y1="571.5" x2="1112" y2="571.5" stroke="#e6e6e6" stroke-width="0.8"/>
<line x1="977.5" y1="490.5" x2="977.5" y2="533" stroke="#111" stroke-width="1"/>
<line x1="986.5" y1="490.5" x2="986.5" y2="533" stroke="#111" stroke-width="1"/>
<line x1="995.5" y1="490.5" x2="995.5" y2="533" stroke="#111" stroke-width="1"/>
<line x1="1004.5" y1="490.5" x2="1004.5" y2="533" stroke="#111" stroke-width="1"/>
<line x1="1013.5" y1="490.5" x2="1013.5" y2="533" stroke="#111" stroke-width="1"/>
<line x1="1022.5" y1="490.5" x2="1022.5" y2="533" stroke="#111" stroke-width="1"/>
<line x1="1031.5" y1="490.5" x2="1031.5" y2="533" stroke="#111" stroke-width="1"/>
<line x1="1040.5" y1="490.5" x2="1040.5" y2="533" stroke="#111" stroke-width="1"/>
<line x1="1049.5" y1="490.5" x2="1049.5" y2="533" stroke="#111" stroke-width="1"/>
<line x1="977.2" y1="490" x2="977.2" y2="533.2" stroke="#111" stroke-width="2"/>
<line x1="975.2" y1="533.5" x2="1057.6" y2="533.5" stroke="#111" stroke-width="1.2"/>
<line x1="978" y1="511.5" x2="1056.7" y2="511.5" stroke="#111" stroke-width="1"/>
<polyline points="1052.5,506.8 1057.2,511.4 1052.5,516 1052.5,506.8" fill="#fff" stroke="#111" stroke-width="1"/>
<text transform="translate(1004.3 509.1)" font-size="7.5" text-anchor="start" fill="#000">10x30(36)</text>
<text transform="translate(1004.3 518.8)" font-size="7.5" text-anchor="start" fill="#000">11x17</text>
<line x1="1058.6" y1="543.5" x2="1102" y2="543.5" stroke="#111" stroke-width="1"/>
<line x1="1058.6" y1="552.5" x2="1102" y2="552.5" stroke="#111" stroke-width="1"/>
<line x1="1058.6" y1="561.5" x2="1102" y2="561.5" stroke="#111" stroke-width="1"/>
<line x1="1058.6" y1="570.5" x2="1102" y2="570.5" stroke="#111" stroke-width="1"/>
<line x1="1058.6" y1="579.5" x2="1102" y2="579.5" stroke="#111" stroke-width="1"/>
<line x1="1058.6" y1="588.5" x2="1102" y2="588.5" stroke="#111" stroke-width="1"/>
<line x1="1058.6" y1="597.5" x2="1102" y2="597.5" stroke="#111" stroke-width="1"/>
<line x1="1058.6" y1="606.5" x2="1102" y2="606.5" stroke="#111" stroke-width="1"/>
<line x1="1080.5" y1="534.2" x2="1080.5" y2="605.5" stroke="#111" stroke-width="1"/>
<circle cx="1080.3" cy="534.4" r="1.3" fill="#555" stroke="#333" stroke-width="0.8"/>
<polyline points="1073.8,602 1080.3,606.6 1086.8,602 1073.8,602" fill="#fff" stroke="#111" stroke-width="1"/>
<text transform="translate(1079.2 564) rotate(-90)" font-size="7.5" text-anchor="middle" fill="#111">8x30(36)</text>
<text transform="translate(1088 569.4) rotate(-90)" font-size="7.5" text-anchor="middle" fill="#111">9x17</text>
<line x1="977.5" y1="611.5" x2="977.5" y2="653.7" stroke="#111" stroke-width="1"/>
<line x1="986.5" y1="611.5" x2="986.5" y2="653.7" stroke="#111" stroke-width="1"/>
<line x1="995.5" y1="611.5" x2="995.5" y2="653.7" stroke="#111" stroke-width="1"/>
<line x1="1004.5" y1="611.5" x2="1004.5" y2="653.7" stroke="#111" stroke-width="1"/>
<line x1="1013.5" y1="611.5" x2="1013.5" y2="653.7" stroke="#111" stroke-width="1"/>
<line x1="1022.5" y1="611.5" x2="1022.5" y2="653.7" stroke="#111" stroke-width="1"/>
<line x1="1031.5" y1="611.5" x2="1031.5" y2="653.7" stroke="#111" stroke-width="1"/>
<line x1="1040.5" y1="611.5" x2="1040.5" y2="653.7" stroke="#111" stroke-width="1"/>
<line x1="1049.5" y1="611.5" x2="1049.5" y2="653.7" stroke="#111" stroke-width="1"/>
<line x1="977.5" y1="611.5" x2="977.5" y2="653.7" stroke="#ff6600" stroke-width="1.2"/>
<line x1="971.2" y1="610.6" x2="1057.6" y2="610.6" stroke="#111" stroke-width="2"/>
<line x1="978.2" y1="631.5" x2="1059.6" y2="631.5" stroke="#111" stroke-width="1"/>
<circle cx="1059.6" cy="631" r="1.5" fill="#111" stroke="#111" stroke-width="0.8"/>
<line x1="936" y1="631.5" x2="978" y2="631.5" stroke="#d9a0a0" stroke-width="0.9"/>
<polyline points="982.4,624.5 977.6,631.3 982.4,638 982.4,624.5" fill="#fff" stroke="#111" stroke-width="1"/>
<text transform="translate(1006.7 629)" font-size="7.5" text-anchor="start" fill="#000">9x30(36)</text>
<text transform="translate(1006.7 638.7)" font-size="7.5" text-anchor="start" fill="#000">10x17</text>
<line x1="1057.5" y1="489" x2="1057.5" y2="610.5" stroke="#178080" stroke-width="1.3"/>
<path d="M983.68 540.76 A42 42 0 1 1 983.68 598.04" fill="none" stroke="#111" stroke-width="1.1"/>
<path d="M985.77 541.75 A39.8 39.8 0 1 1 985.77 597.05" fill="none" stroke="#111" stroke-width="0.9"/>
<line x1="1012.16" y1="566.08" x2="992.14" y2="536.4" stroke="#111" stroke-width="0.9"/>
<line x1="1013.13" y1="565.61" x2="1001.77" y2="531.66" stroke="#111" stroke-width="0.9"/>
<line x1="1014.19" y1="565.41" x2="1012.32" y2="529.65" stroke="#111" stroke-width="0.9"/>
<line x1="1015.27" y1="565.49" x2="1023.01" y2="530.54" stroke="#111" stroke-width="0.9"/>
<line x1="1016.28" y1="565.87" x2="1033.08" y2="534.26" stroke="#111" stroke-width="0.9"/>
<line x1="1017.15" y1="566.5" x2="1041.8" y2="540.53" stroke="#111" stroke-width="0.9"/>
<line x1="1017.83" y1="567.34" x2="1048.52" y2="548.9" stroke="#111" stroke-width="0.9"/>
<line x1="1018.25" y1="568.33" x2="1052.75" y2="558.76" stroke="#111" stroke-width="0.9"/>
<line x1="1018.4" y1="569.5" x2="1054.2" y2="569.5" stroke="#111" stroke-width="0.9"/>
<line x1="1018.25" y1="570.47" x2="1052.75" y2="580.04" stroke="#111" stroke-width="0.9"/>
<line x1="1017.83" y1="571.46" x2="1048.52" y2="589.9" stroke="#111" stroke-width="0.9"/>
<line x1="1017.15" y1="572.3" x2="1041.8" y2="598.27" stroke="#111" stroke-width="0.9"/>
<line x1="1016.28" y1="572.93" x2="1033.08" y2="604.54" stroke="#111" stroke-width="0.9"/>
<line x1="1015.27" y1="573.31" x2="1023.01" y2="608.26" stroke="#111" stroke-width="0.9"/>
<line x1="1014.19" y1="573.39" x2="1012.32" y2="609.15" stroke="#111" stroke-width="0.9"/>
<line x1="1013.13" y1="573.19" x2="1001.77" y2="607.14" stroke="#111" stroke-width="0.9"/>
<line x1="1012.16" y1="572.72" x2="992.14" y2="602.4" stroke="#111" stroke-width="0.9"/>
<path d="M993.33 548.33 A29.8 29.8 0 0 1 1044.18 568.36" fill="none" stroke="#222" stroke-width="0.9"/>
<circle cx="993.3" cy="548.3" r="1.3" fill="#111" stroke="#111" stroke-width="0.8"/>
<polyline points="1037,563.5 1044.6,567.2 1037,570.5 1037,563.5" fill="#fff" stroke="#111" stroke-width="0.9"/>
<line x1="1032" y1="567.5" x2="1046" y2="567.5" stroke="#111" stroke-width="0.8"/>
<circle cx="1014.4" cy="569.4" r="3.8" fill="#f4f4f4" stroke="#888" stroke-width="1"/>
<line x1="1014.4" y1="569.4" x2="975" y2="533.6" stroke="#178080" stroke-width="1.2"/>
<line x1="1014.4" y1="569.4" x2="972" y2="610.5" stroke="#178080" stroke-width="1.2"/>
<line x1="1013.4" y1="571.8" x2="973.6" y2="610.5" stroke="#ff6600" stroke-width="1"/>
<line x1="1016.4" y1="570.4" x2="1054.8" y2="578" stroke="#111" stroke-width="1.3"/>
<circle cx="975.4" cy="533" r="1.5" fill="#111" stroke="#111" stroke-width="0.8"/>
<circle cx="971.6" cy="610.8" r="1.6" fill="#111" stroke="#111" stroke-width="0.8"/>
<line x1="1058.5" y1="529.5" x2="1061.5" y2="529.5" stroke="#111" stroke-width="0.8"/>
<line x1="1058.5" y1="612.5" x2="1061.5" y2="612.5" stroke="#111" stroke-width="0.8"/>
<polyline points="608.6,725.8 608.6,679.7 862.8,679.7 862.8,725.8" fill="none" stroke="#ff6600" stroke-width="1.3"/>
<polyline points="608.6,784.2 608.6,833.2 862.8,833.2 862.8,784.2" fill="none" stroke="#ff6600" stroke-width="1.3"/>
<rect x="604.8" y="713" width="3.8" height="12.8" fill="#ff6600" stroke="#ff6600" stroke-width="0.5"/>
<rect x="604.8" y="784.2" width="3.8" height="12.8" fill="#ff6600" stroke="#ff6600" stroke-width="0.5"/>
<rect x="864.8" y="713" width="2" height="12.8" fill="#ff6600" stroke="#ff6600" stroke-width="0.5"/>
<rect x="864.8" y="784.2" width="2" height="12.8" fill="#ff6600" stroke="#ff6600" stroke-width="0.5"/>
<polyline points="610.8,674.4 610.8,676.8 622,676.8 622,674.4" fill="none" stroke="#178080" stroke-width="1"/>
<polyline points="610.8,679.7 610.8,677.6 622,677.6 622,679.7" fill="none" stroke="#ff6600" stroke-width="1"/>
<polyline points="663,674.4 663,676.8 676,676.8 676,674.4" fill="none" stroke="#178080" stroke-width="1"/>
<polyline points="663,679.7 663,677.6 676,677.6 676,679.7" fill="none" stroke="#ff6600" stroke-width="1"/>
<polyline points="695.3,674.4 695.3,676.8 709.2,676.8 709.2,674.4" fill="none" stroke="#178080" stroke-width="1"/>
<polyline points="695.3,679.7 695.3,677.6 709.2,677.6 709.2,679.7" fill="none" stroke="#ff6600" stroke-width="1"/>
<polyline points="762,674.4 762,676.8 776,676.8 776,674.4" fill="none" stroke="#178080" stroke-width="1"/>
<polyline points="762,679.7 762,677.6 776,677.6 776,679.7" fill="none" stroke="#ff6600" stroke-width="1"/>
<polyline points="795,674.4 795,676.8 808,676.8 808,674.4" fill="none" stroke="#178080" stroke-width="1"/>
<polyline points="795,679.7 795,677.6 808,677.6 808,679.7" fill="none" stroke="#ff6600" stroke-width="1"/>
<polyline points="848,674.4 848,676.8 860,676.8 860,674.4" fill="none" stroke="#178080" stroke-width="1"/>
<polyline points="848,679.7 848,677.6 860,677.6 860,679.7" fill="none" stroke="#ff6600" stroke-width="1"/>
<polyline points="610.8,836.2 610.8,833.8 622,833.8 622,836.2" fill="none" stroke="#178080" stroke-width="1"/>
<polyline points="663,836.2 663,833.8 672.5,833.8 672.5,836.2" fill="none" stroke="#178080" stroke-width="1"/>
<polyline points="800,836.2 800,833.8 808,833.8 808,836.2" fill="none" stroke="#178080" stroke-width="1"/>
<polyline points="848,836.2 848,833.8 860,833.8 860,836.2" fill="none" stroke="#178080" stroke-width="1"/>
<polyline points="604,690 606.4,690 606.4,716 604,716" fill="none" stroke="#178080" stroke-width="1"/>
<polyline points="867.4,690 865,690 865,716 867.4,716" fill="none" stroke="#178080" stroke-width="1"/>
<polyline points="604,793 606.4,793 606.4,826 604,826" fill="none" stroke="#178080" stroke-width="1"/>
<polyline points="867.4,793 865,793 865,826 867.4,826" fill="none" stroke="#178080" stroke-width="1"/>
<rect x="623.2" y="674.4" width="39.5" height="10.1" fill="#fff" stroke="#e9a8a8" stroke-width="0.9"/>
<rect x="627.5" y="679.7" width="31.2" height="4.8" fill="#fff" stroke="#ff6600" stroke-width="1"/>
<polyline points="632.2,679.7 636.7,676.2 649.7,676.2 654.2,679.7" fill="none" stroke="#e9a8a8" stroke-width="0.9"/>
<rect x="809" y="674.4" width="39" height="10.1" fill="#fff" stroke="#e9a8a8" stroke-width="0.9"/>
<rect x="813.3" y="679.7" width="30.7" height="4.8" fill="#fff" stroke="#ff6600" stroke-width="1"/>
<polyline points="818,679.7 822.5,676.2 835,676.2 839.5,679.7" fill="none" stroke="#e9a8a8" stroke-width="0.9"/>
<polyline points="1007.2,835 1007.2,675.6 873.8,675.6" fill="none" stroke="#ff6600" stroke-width="1.2"/>
<line x1="873.5" y1="783" x2="873.5" y2="834.5" stroke="#ff6600" stroke-width="0.9"/>
<line x1="1015.5" y1="674.5" x2="1015.5" y2="731" stroke="#ff6600" stroke-width="0.9"/>
<line x1="612" y1="831" x2="640" y2="804" stroke="#e2e2e2" stroke-width="0.8"/>
<line x1="1098" y1="650" x2="1075" y2="628" stroke="#e2e2e2" stroke-width="0.8"/>
<line x1="374.5" y1="676" x2="374.5" y2="690" stroke="#ddd" stroke-width="0.8"/>
<line x1="357.4" y1="857.5" x2="672" y2="857.5" stroke="#ff6600" stroke-width="1"/>
<line x1="357.4" y1="862.5" x2="672" y2="862.5" stroke="#ff6600" stroke-width="1.1"/>
<line x1="800" y1="857.5" x2="1119" y2="857.5" stroke="#ff6600" stroke-width="1"/>
<line x1="800" y1="862.5" x2="1119" y2="862.5" stroke="#ff6600" stroke-width="1.1"/>
<line x1="357.5" y1="857.6" x2="357.5" y2="862.5" stroke="#ff6600" stroke-width="1"/>
<line x1="1119.5" y1="857.6" x2="1119.5" y2="862.5" stroke="#ff6600" stroke-width="1"/>
<line x1="396.5" y1="857.6" x2="396.5" y2="862.5" stroke="#ff6600" stroke-width="1"/>
<rect x="389.3" y="855.9" width="5.2" height="3.4" fill="#ddd" stroke="#ff6600" stroke-width="0.9"/>
<rect x="390.9" y="856.3" width="2" height="1.6" fill="#bbb" stroke="#888" stroke-width="0.6"/>
<line x1="432.5" y1="857.6" x2="432.5" y2="862.5" stroke="#ff6600" stroke-width="1"/>
<rect x="434.5" y="855.9" width="5.2" height="3.4" fill="#ddd" stroke="#ff6600" stroke-width="0.9"/>
<rect x="436.1" y="856.3" width="2" height="1.6" fill="#bbb" stroke="#888" stroke-width="0.6"/>
<line x1="472.5" y1="857.6" x2="472.5" y2="862.5" stroke="#ff6600" stroke-width="1"/>
<rect x="465.8" y="855.9" width="5.2" height="3.4" fill="#ddd" stroke="#ff6600" stroke-width="0.9"/>
<rect x="467.4" y="856.3" width="2" height="1.6" fill="#bbb" stroke="#888" stroke-width="0.6"/>
<line x1="509.5" y1="857.6" x2="509.5" y2="862.5" stroke="#ff6600" stroke-width="1"/>
<rect x="511" y="855.9" width="5.2" height="3.4" fill="#ddd" stroke="#ff6600" stroke-width="0.9"/>
<rect x="512.6" y="856.3" width="2" height="1.6" fill="#bbb" stroke="#888" stroke-width="0.6"/>
<line x1="549.5" y1="857.6" x2="549.5" y2="862.5" stroke="#ff6600" stroke-width="1"/>
<rect x="542.3" y="855.9" width="5.2" height="3.4" fill="#ddd" stroke="#ff6600" stroke-width="0.9"/>
<rect x="543.9" y="856.3" width="2" height="1.6" fill="#bbb" stroke="#888" stroke-width="0.6"/>
<line x1="585.5" y1="857.6" x2="585.5" y2="862.5" stroke="#ff6600" stroke-width="1"/>
<rect x="587.5" y="855.9" width="5.2" height="3.4" fill="#ddd" stroke="#ff6600" stroke-width="0.9"/>
<rect x="589.1" y="856.3" width="2" height="1.6" fill="#bbb" stroke="#888" stroke-width="0.6"/>
<line x1="625.5" y1="857.6" x2="625.5" y2="862.5" stroke="#ff6600" stroke-width="1"/>
<rect x="618.8" y="855.9" width="5.2" height="3.4" fill="#ddd" stroke="#ff6600" stroke-width="0.9"/>
<rect x="620.4" y="856.3" width="2" height="1.6" fill="#bbb" stroke="#888" stroke-width="0.6"/>
<line x1="662.5" y1="857.6" x2="662.5" y2="862.5" stroke="#ff6600" stroke-width="1"/>
<rect x="664" y="855.9" width="5.2" height="3.4" fill="#ddd" stroke="#ff6600" stroke-width="0.9"/>
<rect x="665.6" y="856.3" width="2" height="1.6" fill="#bbb" stroke="#888" stroke-width="0.6"/>
<line x1="809.5" y1="857.6" x2="809.5" y2="862.5" stroke="#ff6600" stroke-width="1"/>
<rect x="802.4" y="855.9" width="5.2" height="3.4" fill="#ddd" stroke="#ff6600" stroke-width="0.9"/>
<rect x="804" y="856.3" width="2" height="1.6" fill="#bbb" stroke="#888" stroke-width="0.6"/>
<line x1="846.5" y1="857.6" x2="846.5" y2="862.5" stroke="#ff6600" stroke-width="1"/>
<rect x="847.6" y="855.9" width="5.2" height="3.4" fill="#ddd" stroke="#ff6600" stroke-width="0.9"/>
<rect x="849.2" y="856.3" width="2" height="1.6" fill="#bbb" stroke="#888" stroke-width="0.6"/>
<line x1="887.5" y1="857.6" x2="887.5" y2="862.5" stroke="#ff6600" stroke-width="1"/>
<rect x="881.1" y="855.9" width="5.2" height="3.4" fill="#ddd" stroke="#ff6600" stroke-width="0.9"/>
<rect x="882.7" y="856.3" width="2" height="1.6" fill="#bbb" stroke="#888" stroke-width="0.6"/>
<line x1="924.5" y1="857.6" x2="924.5" y2="862.5" stroke="#ff6600" stroke-width="1"/>
<rect x="926.3" y="855.9" width="5.2" height="3.4" fill="#ddd" stroke="#ff6600" stroke-width="0.9"/>
<rect x="927.9" y="856.3" width="2" height="1.6" fill="#bbb" stroke="#888" stroke-width="0.6"/>
<line x1="962.5" y1="857.6" x2="962.5" y2="862.5" stroke="#ff6600" stroke-width="1"/>
<rect x="955.3" y="855.9" width="5.2" height="3.4" fill="#ddd" stroke="#ff6600" stroke-width="0.9"/>
<rect x="956.9" y="856.3" width="2" height="1.6" fill="#bbb" stroke="#888" stroke-width="0.6"/>
<line x1="998.5" y1="857.6" x2="998.5" y2="862.5" stroke="#ff6600" stroke-width="1"/>
<rect x="1000.5" y="855.9" width="5.2" height="3.4" fill="#ddd" stroke="#ff6600" stroke-width="0.9"/>
<rect x="1002.1" y="856.3" width="2" height="1.6" fill="#bbb" stroke="#888" stroke-width="0.6"/>
<line x1="1043.5" y1="857.6" x2="1043.5" y2="862.5" stroke="#ff6600" stroke-width="1"/>
<rect x="1036.6" y="855.9" width="5.2" height="3.4" fill="#ddd" stroke="#ff6600" stroke-width="0.9"/>
<rect x="1038.2" y="856.3" width="2" height="1.6" fill="#bbb" stroke="#888" stroke-width="0.6"/>
<line x1="1080.5" y1="857.6" x2="1080.5" y2="862.5" stroke="#ff6600" stroke-width="1"/>
<rect x="1081.8" y="855.9" width="5.2" height="3.4" fill="#ddd" stroke="#ff6600" stroke-width="0.9"/>
<rect x="1083.4" y="856.3" width="2" height="1.6" fill="#bbb" stroke="#888" stroke-width="0.6"/>
<rect x="365.4" y="857.6" width="20.1" height="4.9" fill="none" stroke="#ff6600" stroke-width="1"/>
<rect x="443.5" y="857.6" width="18.5" height="4.9" fill="none" stroke="#ff6600" stroke-width="1"/>
<rect x="520" y="857.6" width="18.5" height="4.9" fill="none" stroke="#ff6600" stroke-width="1"/>
<rect x="596.5" y="857.6" width="18.5" height="4.9" fill="none" stroke="#ff6600" stroke-width="1"/>
<rect x="856.6" y="857.6" width="20.7" height="4.9" fill="none" stroke="#ff6600" stroke-width="1"/>
<rect x="935.3" y="857.6" width="16.2" height="4.9" fill="none" stroke="#ff6600" stroke-width="1"/>
<rect x="1009.5" y="857.6" width="23.3" height="4.9" fill="none" stroke="#ff6600" stroke-width="1"/>
<rect x="1090.8" y="857.6" width="10.2" height="4.9" fill="none" stroke="#ff6600" stroke-width="1"/>
<rect x="706.1" y="834.8" width="59.8" height="21.2" fill="#fff" stroke="none" stroke-width="0"/>
<line x1="706.1" y1="835.5" x2="765.9" y2="835.5" stroke="#178080" stroke-width="1.3"/>
<rect x="707.9" y="835.8" width="55" height="11.1" fill="none" stroke="#111" stroke-width="1.1"/>
<line x1="709.5" y1="847" x2="762.9" y2="847" stroke="#111" stroke-width="2"/>
<line x1="711.5" y1="835.8" x2="711.5" y2="846.9" stroke="#111" stroke-width="1"/>
<line x1="726.5" y1="835.8" x2="726.5" y2="846.9" stroke="#111" stroke-width="1"/>
<line x1="746.5" y1="835.8" x2="746.5" y2="846.9" stroke="#111" stroke-width="1"/>
<line x1="760.5" y1="835.8" x2="760.5" y2="846.9" stroke="#111" stroke-width="1"/>
<line x1="706.5" y1="835.5" x2="706.5" y2="850" stroke="#111" stroke-width="1"/>
<line x1="765.5" y1="835.5" x2="765.5" y2="850" stroke="#111" stroke-width="1"/>
<line x1="710.3" y1="850.5" x2="762" y2="850.5" stroke="#ff6600" stroke-width="1"/>
<line x1="710.5" y1="822.4" x2="710.5" y2="835.5" stroke="#111" stroke-width="1"/>
<path d="M710.3 822.4 A13 13 0 0 1 723.3 835.4" fill="none" stroke="#111" stroke-width="1"/>
<path d="M712.24 833.11 A12.6 12.6 0 0 1 724.35 844.6" fill="none" stroke="#111" stroke-width="1"/>
<line x1="724.5" y1="813.4" x2="724.5" y2="835.5" stroke="#111" stroke-width="1"/>
<path d="M724.6 813.4 A22 22 0 0 1 746.6 835.4" fill="none" stroke="#111" stroke-width="1"/>
<path d="M727.66 827.84 A18 18 0 0 1 744.22 843.29" fill="none" stroke="#111" stroke-width="1"/>
<line x1="761.5" y1="822.4" x2="761.5" y2="835.5" stroke="#111" stroke-width="1"/>
<path d="M761.7 822.4 A13 13 0 0 0 748.7 835.4" fill="none" stroke="#111" stroke-width="1"/>
<path d="M759.86 833.11 A12.6 12.6 0 0 0 747.75 844.6" fill="none" stroke="#111" stroke-width="1"/>
<line x1="735.5" y1="820" x2="735.5" y2="872.6" stroke="#111" stroke-width="1"/>
<polyline points="663.6,836 663.6,830.4 709.7,830.4 709.7,836" fill="none" stroke="#ff6600" stroke-width="1"/>
<polyline points="676.8,830.4 676.8,832.6 696.6,832.6 696.6,830.4" fill="none" stroke="#ff6600" stroke-width="2"/>
<polyline points="808.4,836 808.4,830.4 762.3,830.4 762.3,836" fill="none" stroke="#ff6600" stroke-width="1"/>
<polyline points="795.2,830.4 795.2,832.6 775.4,832.6 775.4,830.4" fill="none" stroke="#ff6600" stroke-width="2"/>
<polyline points="662.4,857.6 662.4,861.4 671.4,861.4 671.4,903.7 800,903.7 800,861.4 809,861.4 809,857.6" fill="none" stroke="#ff6600" stroke-width="1.1"/>
<polyline points="674,857.6 674,860 679.2,860 679.2,884 676.2,884 676.2,898.1 691.5,898.1 691.5,895 728.5,895 728.5,898.1 742.3,898.1 742.3,895 780.5,895 780.5,898.1 795.2,898.1 795.2,884 792.2,884 792.2,860 797.4,860 797.4,857.6" fill="none" stroke="#ff6600" stroke-width="1.1"/>
<polyline points="710.6,856 710.6,859.6 692,859.6 692,862.5 688.7,862.5 688.7,883.4 692,883.4 692,886.4 728.5,886.4 728.5,883.4 742.3,883.4 742.3,886.4 780,886.4 780,883.4 783.3,883.4 783.3,862.5 780,862.5 780,859.6 761.4,859.6 761.4,856" fill="none" stroke="#ff6600" stroke-width="1.1"/>
<line x1="671.4" y1="903.7" x2="676.2" y2="898.1" stroke="#ff6600" stroke-width="1"/>
<line x1="800" y1="903.7" x2="795.2" y2="898.1" stroke="#ff6600" stroke-width="1"/>
<rect x="699.5" y="856.6" width="7.3" height="1.7" fill="#111" stroke="#111" stroke-width="0.8"/>
<rect x="764.5" y="856.6" width="8" height="1.7" fill="#111" stroke="#111" stroke-width="0.8"/>
<line x1="700" y1="859.3" x2="706.8" y2="859.3" stroke="#ff6600" stroke-width="1.4"/>
<line x1="764.5" y1="859.3" x2="772.5" y2="859.3" stroke="#ff6600" stroke-width="1.4"/>
<line x1="429.45" y1="232.5" x2="471.95" y2="232.5" stroke="#000" stroke-width="1.25"/>
<line x1="429.45" y1="248.5" x2="471.95" y2="248.5" stroke="#000" stroke-width="1.25"/>
<text transform="translate(450.7 245.6)" font-size="13" text-anchor="middle" fill="#000" font-weight="bold" stroke="#000" stroke-width="0.5" textLength="35" lengthAdjust="spacingAndGlyphs">I1-10</text>
<text transform="translate(450.5 258.7) scale(1.11 1)" font-size="9" text-anchor="middle" fill="#000">Iroda</text>
<text transform="translate(450 270.5) scale(1.11 1)" font-size="9" text-anchor="middle" fill="#000">61,93 m2</text>
<line x1="422.25" y1="484.5" x2="464.75" y2="484.5" stroke="#000" stroke-width="1.25"/>
<line x1="422.25" y1="499.5" x2="464.75" y2="499.5" stroke="#000" stroke-width="1.25"/>
<text transform="translate(443.5 497.2)" font-size="13" text-anchor="middle" fill="#000" font-weight="bold" stroke="#000" stroke-width="0.5" textLength="35" lengthAdjust="spacingAndGlyphs">I1-11</text>
<text transform="translate(442.5 510.9) scale(1.11 1)" font-size="9" text-anchor="middle" fill="#000">Teakonyha</text>
<text transform="translate(442.3 521.6) scale(1.11 1)" font-size="9" text-anchor="middle" fill="#000">24,23 m2</text>
<line x1="548.45" y1="577.5" x2="589.95" y2="577.5" stroke="#000" stroke-width="1.25"/>
<line x1="548.45" y1="592.5" x2="589.95" y2="592.5" stroke="#000" stroke-width="1.25"/>
<text transform="translate(569.2 590)" font-size="13" text-anchor="middle" fill="#000" font-weight="bold" stroke="#000" stroke-width="0.5" textLength="35" lengthAdjust="spacingAndGlyphs">I1-8a</text>
<text transform="translate(568.5 603.7) scale(1.11 1)" font-size="9" text-anchor="middle" fill="#000">Közlekedő</text>
<text transform="translate(568.5 614.5) scale(1.11 1)" font-size="9" text-anchor="middle" fill="#000">9,27 m2</text>
<line x1="713.75" y1="566.5" x2="756.25" y2="566.5" stroke="#000" stroke-width="1.25"/>
<line x1="713.75" y1="581.5" x2="756.25" y2="581.5" stroke="#000" stroke-width="1.25"/>
<text transform="translate(735 578.9)" font-size="13" text-anchor="middle" fill="#000" font-weight="bold" stroke="#000" stroke-width="0.5" textLength="26.2" lengthAdjust="spacingAndGlyphs">I1-2</text>
<text transform="translate(735 591.7) scale(1.11 1)" font-size="9" text-anchor="middle" fill="#000">Iroda</text>
<text transform="translate(734.5 603.7) scale(1.11 1)" font-size="9" text-anchor="middle" fill="#000">50,37 m2</text>
<line x1="386.55" y1="749.5" x2="429.05" y2="749.5" stroke="#000" stroke-width="1.25"/>
<line x1="386.55" y1="764.5" x2="429.05" y2="764.5" stroke="#000" stroke-width="1.25"/>
<text transform="translate(407.8 762)" font-size="13" text-anchor="middle" fill="#000" font-weight="bold" stroke="#000" stroke-width="0.5" textLength="26.2" lengthAdjust="spacingAndGlyphs">I1-7</text>
<text transform="translate(407.5 774.5) scale(1.11 1)" font-size="9" text-anchor="middle" fill="#000">Iroda</text>
<text transform="translate(407.5 785.8) scale(1.11 1)" font-size="9" text-anchor="middle" fill="#000">17,75 m2</text>
<line x1="506.05" y1="749.5" x2="548.55" y2="749.5" stroke="#888" stroke-width="1.25"/>
<line x1="506.05" y1="764.5" x2="548.55" y2="764.5" stroke="#000" stroke-width="1.25"/>
<text transform="translate(527.3 762)" font-size="13" text-anchor="middle" fill="#000" font-weight="bold" stroke="#000" stroke-width="0.5" textLength="26.2" lengthAdjust="spacingAndGlyphs">I1-6</text>
<text transform="translate(527 774.5) scale(1.11 1)" font-size="9" text-anchor="middle" fill="#000">Iroda</text>
<text transform="translate(527 785.8) scale(1.11 1)" font-size="9" text-anchor="middle" fill="#000">26,37 m2</text>
<line x1="713.55" y1="749.5" x2="756.05" y2="749.5" stroke="#888" stroke-width="1.25"/>
<line x1="713.55" y1="764.5" x2="756.05" y2="764.5" stroke="#000" stroke-width="1.25"/>
<text transform="translate(734.8 762)" font-size="13" text-anchor="middle" fill="#000" font-weight="bold" stroke="#000" stroke-width="0.5" textLength="26.2" lengthAdjust="spacingAndGlyphs">I1-3</text>
<text transform="translate(734.5 774.5) scale(1.11 1)" font-size="9" text-anchor="middle" fill="#000">Iroda</text>
<text transform="translate(734.5 785.8) scale(1.11 1)" font-size="9" text-anchor="middle" fill="#000">51,70 m2</text>
<line x1="920.85" y1="749.5" x2="963.35" y2="749.5" stroke="#000" stroke-width="1.25"/>
<line x1="920.85" y1="764.5" x2="963.35" y2="764.5" stroke="#999" stroke-width="1.25"/>
<text transform="translate(942.1 762)" font-size="13" text-anchor="middle" fill="#000" font-weight="bold" stroke="#000" stroke-width="0.5" textLength="26.2" lengthAdjust="spacingAndGlyphs">I1-4</text>
<text transform="translate(941.3 774.6) scale(1.11 1)" font-size="9" text-anchor="middle" fill="#000">Iroda</text>
<text transform="translate(941 785.8) scale(1.11 1)" font-size="9" text-anchor="middle" fill="#000">26,75 m2</text>
<line x1="1048.25" y1="749.5" x2="1090.75" y2="749.5" stroke="#000" stroke-width="1.25"/>
<line x1="1048.25" y1="764.5" x2="1090.75" y2="764.5" stroke="#000" stroke-width="1.25"/>
<text transform="translate(1069.5 762)" font-size="13" text-anchor="middle" fill="#000" font-weight="bold" stroke="#000" stroke-width="0.5" textLength="26.2" lengthAdjust="spacingAndGlyphs">I1-5</text>
<text transform="translate(1069 774.5) scale(1.11 1)" font-size="9" text-anchor="middle" fill="#000">Iroda</text>
<text transform="translate(1069 785.8) scale(1.11 1)" font-size="9" text-anchor="middle" fill="#000">18,42 m2</text>
<line x1="974.75" y1="126.5" x2="1017.25" y2="126.5" stroke="#000" stroke-width="1.25"/>
<line x1="974.75" y1="142.5" x2="1017.25" y2="142.5" stroke="#000" stroke-width="1.25"/>
<text transform="translate(996 139.6)" font-size="13" text-anchor="middle" fill="#000" font-weight="bold" stroke="#000" stroke-width="0.5" textLength="26.2" lengthAdjust="spacingAndGlyphs">I2-5</text>
<text transform="translate(996 153.7) scale(1.11 1)" font-size="9" text-anchor="middle" fill="#000">Iroda</text>
<text transform="translate(995.5 166) scale(1.11 1)" font-size="9" text-anchor="middle" fill="#000">20,22 m2</text>
<line x1="974.75" y1="232.5" x2="1017.25" y2="232.5" stroke="#000" stroke-width="1.25"/>
<line x1="974.75" y1="248.5" x2="1017.25" y2="248.5" stroke="#000" stroke-width="1.25"/>
<text transform="translate(996 245.6)" font-size="13" text-anchor="middle" fill="#000" font-weight="bold" stroke="#000" stroke-width="0.5" textLength="26.2" lengthAdjust="spacingAndGlyphs">I2-3</text>
<text transform="translate(996 258.7) scale(1.11 1)" font-size="9" text-anchor="middle" fill="#000">Iroda</text>
<text transform="translate(995.5 270.5) scale(1.11 1)" font-size="9" text-anchor="middle" fill="#000">26,47m2</text>
<line x1="974.75" y1="330.5" x2="1017.25" y2="330.5" stroke="#000" stroke-width="1.25"/>
<line x1="974.75" y1="346.5" x2="1017.25" y2="346.5" stroke="#000" stroke-width="1.25"/>
<text transform="translate(996 343.7)" font-size="13" text-anchor="middle" fill="#000" font-weight="bold" stroke="#000" stroke-width="0.5" textLength="26.2" lengthAdjust="spacingAndGlyphs">I2-1</text>
<text transform="translate(995.5 357.5) scale(1.11 1)" font-size="9" text-anchor="middle" fill="#000">Előtér</text>
<text transform="translate(995 368.8) scale(1.11 1)" font-size="9" text-anchor="middle" fill="#000">22,92 m2</text>
<line x1="1121.75" y1="309.5" x2="1164.25" y2="309.5" stroke="#000" stroke-width="1.25"/>
<line x1="1121.75" y1="324.5" x2="1164.25" y2="324.5" stroke="#000" stroke-width="1.25"/>
<text transform="translate(1143 322)" font-size="13" text-anchor="middle" fill="#000" font-weight="bold" stroke="#000" stroke-width="0.5" textLength="26.2" lengthAdjust="spacingAndGlyphs">I2-4</text>
<line x1="590.15" y1="445.5" x2="630.65" y2="445.5" stroke="#000" stroke-width="1.25"/>
<line x1="590.15" y1="460.5" x2="630.65" y2="460.5" stroke="#999" stroke-width="1.25"/>
<text transform="translate(610.4 458.4)" font-size="13" text-anchor="middle" fill="#000" font-weight="bold" stroke="#000" stroke-width="0.5" textLength="35" lengthAdjust="spacingAndGlyphs">I1-15</text>
<line x1="216.25" y1="569.5" x2="258.75" y2="569.5" stroke="#000" stroke-width="1.25"/>
<line x1="216.25" y1="584.5" x2="258.75" y2="584.5" stroke="#000" stroke-width="1.25"/>
<text transform="translate(237.5 581.8)" font-size="13" text-anchor="middle" fill="#000" font-weight="bold" stroke="#000" stroke-width="0.5" textLength="35" lengthAdjust="spacingAndGlyphs">I1-13</text>
<line x1="216.25" y1="625.5" x2="258.75" y2="625.5" stroke="#000" stroke-width="1.25"/>
<line x1="216.25" y1="640.5" x2="258.75" y2="640.5" stroke="#000" stroke-width="1.25"/>
<text transform="translate(237.5 637.9)" font-size="13" text-anchor="middle" fill="#000" font-weight="bold" stroke="#000" stroke-width="0.5" textLength="35" lengthAdjust="spacingAndGlyphs">I1-12</text>
<line x1="154.95" y1="617.5" x2="196.45" y2="617.5" stroke="#000" stroke-width="1.25"/>
<line x1="154.95" y1="632.5" x2="196.45" y2="632.5" stroke="#000" stroke-width="1.25"/>
<text transform="translate(175.7 630)" font-size="13" text-anchor="middle" fill="#000" font-weight="bold" stroke="#000" stroke-width="0.5" textLength="35" lengthAdjust="spacingAndGlyphs">I1-8b</text>
<text transform="translate(1079 467.6)" font-size="13" text-anchor="middle" fill="#000" font-weight="bold" stroke="#000" stroke-width="0.5" textLength="35" lengthAdjust="spacingAndGlyphs">I2-10</text>
<text transform="translate(898 575) rotate(-90)" font-size="13" text-anchor="middle" fill="#000" font-weight="bold" stroke="#000" stroke-width="0.5" textLength="26.2" lengthAdjust="spacingAndGlyphs">I1-1</text>
<line x1="884.5" y1="553.7" x2="884.5" y2="595.7" stroke="#000" stroke-width="1.1"/>
<line x1="901.5" y1="553.7" x2="901.5" y2="595.7" stroke="#000" stroke-width="1.1"/>
<text transform="translate(971.6 575) rotate(-90)" font-size="13" text-anchor="middle" fill="#000" font-weight="bold" stroke="#000" stroke-width="0.5" textLength="26.2" lengthAdjust="spacingAndGlyphs">I0-1</text>
<line x1="958.5" y1="553.7" x2="958.5" y2="595.7" stroke="#888" stroke-width="1.1"/>
<line x1="973.5" y1="553.7" x2="973.5" y2="595.7" stroke="#000" stroke-width="1.1"/>
<text transform="translate(891.5 527.5) scale(1.11 1)" font-size="9" text-anchor="middle" fill="#000">Előtér</text>
<text transform="translate(891 538.3) scale(1.11 1)" font-size="9" text-anchor="middle" fill="#000">13,70 m2</text>
<text transform="translate(952.8 527.5) scale(1.11 1)" font-size="9" text-anchor="middle" fill="#000">Lépcsőház</text>
<text transform="translate(953 538.3) scale(1.11 1)" font-size="9" text-anchor="middle" fill="#000">22,99 m2</text>
<text transform="translate(621.5 515.6) scale(1.11 1)" font-size="9" text-anchor="middle" fill="#000">1,19 m2</text>
<text transform="translate(497.8 572.5) scale(1.11 1)" font-size="9" text-anchor="middle" fill="#000">5,09 m2</text>
<text transform="translate(480.5 644.4) scale(1.11 1)" font-size="9" text-anchor="middle" fill="#000">11,19 m2</text>
<text transform="translate(1076.8 322.6) scale(1.11 1)" font-size="9" text-anchor="middle" fill="#000">2,93 m2</text>
<text transform="translate(1008.5 462.8) scale(1.11 1)" font-size="9" text-anchor="middle" fill="#000">4,15 m2</text>
<text transform="translate(448 650.4)" font-size="4.6" text-anchor="start" fill="#ff3300">profilos fa lábazat és könyöklődeszka</text>
<text transform="translate(468.7 629.6)" font-size="5.5" text-anchor="start" fill="#cfcfcf">Tűzcsap</text>
<text transform="translate(432.3 75.3)" font-size="8.6" text-anchor="start" fill="#d99aa6" textLength="92.6" lengthAdjust="spacingAndGlyphs">Meglévő menekülő hágcsó</text>
<polyline points="546.3,87.5 546.3,430.5 583,466 850.1,466 885.6,430.5 884.3,86.8" fill="none" stroke="#ff9a78" stroke-width="1.3"/>
<line x1="885.9" y1="87.5" x2="890.5" y2="87.5" stroke="#ff6600" stroke-width="1"/>
<line x1="889.5" y1="87" x2="889.5" y2="135" stroke="#999" stroke-width="0.9"/>
<line x1="350" y1="31.7" x2="540.5" y2="31.7" stroke="#777" stroke-width="1.4"/>
<line x1="350.5" y1="27.4" x2="350.5" y2="35.3" stroke="#000" stroke-width="1.1"/>
<line x1="348.1" y1="33.3" x2="351.9" y2="30.1" stroke="#000" stroke-width="0.7"/>
<line x1="540.5" y1="27.4" x2="540.5" y2="35.3" stroke="#000" stroke-width="1.1"/>
<line x1="538.6" y1="33.3" x2="542.4" y2="30.1" stroke="#000" stroke-width="0.7"/>
<line x1="372" y1="31.5" x2="540.5" y2="31.5" stroke="#000" stroke-width="1"/>
<text transform="translate(444.5 29.4) scale(0.87 1)" font-size="9.4" text-anchor="middle" fill="#000">6,57</text>
<line x1="365" y1="46" x2="520.7" y2="46" stroke="#777" stroke-width="1.4"/>
<line x1="365.5" y1="41.7" x2="365.5" y2="49.6" stroke="#000" stroke-width="1.1"/>
<line x1="363.1" y1="47.6" x2="366.9" y2="44.4" stroke="#000" stroke-width="0.7"/>
<line x1="520.5" y1="41.7" x2="520.5" y2="49.6" stroke="#000" stroke-width="1.1"/>
<line x1="518.8" y1="47.6" x2="522.6" y2="44.4" stroke="#000" stroke-width="0.7"/>
<text transform="translate(443 43.6) scale(0.87 1)" font-size="9.4" text-anchor="middle" fill="#000">5,39</text>
<line x1="888.7" y1="31.5" x2="1116" y2="31.5" stroke="#555" stroke-width="1"/>
<line x1="888.5" y1="26.9" x2="888.5" y2="34.8" stroke="#000" stroke-width="1.1"/>
<line x1="886.8" y1="32.8" x2="890.6" y2="29.6" stroke="#000" stroke-width="0.7"/>
<line x1="1116.5" y1="26.9" x2="1116.5" y2="34.8" stroke="#000" stroke-width="1.1"/>
<line x1="1114.1" y1="32.8" x2="1117.9" y2="29.6" stroke="#000" stroke-width="0.7"/>
<text transform="translate(1003 29.4) scale(0.87 1)" font-size="9.4" text-anchor="middle" fill="#000">7,82</text>
<line x1="908.7" y1="45.5" x2="1101" y2="45.5" stroke="#000" stroke-width="1"/>
<line x1="908.5" y1="41.2" x2="908.5" y2="49.1" stroke="#000" stroke-width="1.1"/>
<line x1="906.8" y1="47.1" x2="910.6" y2="43.9" stroke="#000" stroke-width="0.7"/>
<line x1="1101.5" y1="41.2" x2="1101.5" y2="49.1" stroke="#000" stroke-width="1.1"/>
<line x1="1099.1" y1="47.1" x2="1102.9" y2="43.9" stroke="#000" stroke-width="0.7"/>
<text transform="translate(1005 43.6) scale(0.87 1)" font-size="9.4" text-anchor="middle" fill="#000">6,62</text>
<line x1="539.5" y1="406.5" x2="892.2" y2="406.5" stroke="#555" stroke-width="1"/>
<line x1="539.5" y1="402.4" x2="539.5" y2="410.3" stroke="#000" stroke-width="1.1"/>
<line x1="537.6" y1="408.3" x2="541.4" y2="405.1" stroke="#000" stroke-width="0.7"/>
<line x1="892.5" y1="402.4" x2="892.5" y2="410.3" stroke="#000" stroke-width="1.1"/>
<line x1="890.3" y1="408.3" x2="894.1" y2="405.1" stroke="#000" stroke-width="0.7"/>
<text transform="translate(716.5 404) scale(0.87 1)" font-size="9.4" text-anchor="middle" fill="#000">12,14</text>
<line x1="539.5" y1="421.5" x2="892.2" y2="421.5" stroke="#000" stroke-width="1"/>
<line x1="539.5" y1="417.2" x2="539.5" y2="425.1" stroke="#000" stroke-width="1.1"/>
<line x1="537.6" y1="423.1" x2="541.4" y2="419.9" stroke="#000" stroke-width="0.7"/>
<line x1="597.5" y1="417.2" x2="597.5" y2="425.1" stroke="#000" stroke-width="1.1"/>
<line x1="595.8" y1="423.1" x2="599.6" y2="419.9" stroke="#000" stroke-width="0.7"/>
<line x1="650.5" y1="417.2" x2="650.5" y2="425.1" stroke="#000" stroke-width="1.1"/>
<line x1="648.6" y1="423.1" x2="652.4" y2="419.9" stroke="#000" stroke-width="0.7"/>
<line x1="734.5" y1="417.2" x2="734.5" y2="425.1" stroke="#000" stroke-width="1.1"/>
<line x1="732.7" y1="423.1" x2="736.5" y2="419.9" stroke="#000" stroke-width="0.7"/>
<line x1="818.5" y1="417.2" x2="818.5" y2="425.1" stroke="#000" stroke-width="1.1"/>
<line x1="816.9" y1="423.1" x2="820.7" y2="419.9" stroke="#000" stroke-width="0.7"/>
<line x1="892.5" y1="417.2" x2="892.5" y2="425.1" stroke="#000" stroke-width="1.1"/>
<line x1="890.3" y1="423.1" x2="894.1" y2="419.9" stroke="#000" stroke-width="0.7"/>
<text transform="translate(569.4 419.3) scale(0.87 1)" font-size="9.4" text-anchor="middle" fill="#000">1,95</text>
<text transform="translate(624 419.3) scale(0.87 1)" font-size="9.4" text-anchor="middle" fill="#000">1,84</text>
<text transform="translate(692 419.3) scale(0.87 1)" font-size="9.4" text-anchor="middle" fill="#000">2,88</text>
<text transform="translate(776.5 419.3) scale(0.87 1)" font-size="9.4" text-anchor="middle" fill="#000">2,94</text>
<text transform="translate(855.3 419.3) scale(0.87 1)" font-size="9.4" text-anchor="middle" fill="#000">2,53</text>
<line x1="444.2" y1="911.5" x2="1105.6" y2="911.5" stroke="#000" stroke-width="1"/>
<line x1="444.5" y1="906.9" x2="444.5" y2="914.8" stroke="#000" stroke-width="1.1"/>
<line x1="442.3" y1="912.8" x2="446.1" y2="909.6" stroke="#000" stroke-width="0.7"/>
<line x1="531.5" y1="906.9" x2="531.5" y2="914.8" stroke="#000" stroke-width="1.1"/>
<line x1="529.3" y1="912.8" x2="533.1" y2="909.6" stroke="#000" stroke-width="0.7"/>
<line x1="535.5" y1="906.9" x2="535.5" y2="914.8" stroke="#000" stroke-width="1.1"/>
<line x1="533.1" y1="912.8" x2="536.9" y2="909.6" stroke="#000" stroke-width="0.7"/>
<line x1="599.5" y1="906.9" x2="599.5" y2="914.8" stroke="#000" stroke-width="1.1"/>
<line x1="597.5" y1="912.8" x2="601.3" y2="909.6" stroke="#000" stroke-width="0.7"/>
<line x1="603.5" y1="906.9" x2="603.5" y2="914.8" stroke="#000" stroke-width="1.1"/>
<line x1="601.1" y1="912.8" x2="604.9" y2="909.6" stroke="#000" stroke-width="0.7"/>
<line x1="852.5" y1="906.9" x2="852.5" y2="914.8" stroke="#000" stroke-width="1.1"/>
<line x1="850.7" y1="912.8" x2="854.5" y2="909.6" stroke="#000" stroke-width="0.7"/>
<line x1="857.5" y1="906.9" x2="857.5" y2="914.8" stroke="#000" stroke-width="1.1"/>
<line x1="855.1" y1="912.8" x2="858.9" y2="909.6" stroke="#000" stroke-width="0.7"/>
<line x1="922.5" y1="906.9" x2="922.5" y2="914.8" stroke="#000" stroke-width="1.1"/>
<line x1="920.1" y1="912.8" x2="923.9" y2="909.6" stroke="#000" stroke-width="0.7"/>
<line x1="927.5" y1="906.9" x2="927.5" y2="914.8" stroke="#000" stroke-width="1.1"/>
<line x1="925.1" y1="912.8" x2="928.9" y2="909.6" stroke="#000" stroke-width="0.7"/>
<line x1="1105.5" y1="906.9" x2="1105.5" y2="914.8" stroke="#000" stroke-width="1.1"/>
<line x1="1103.7" y1="912.8" x2="1107.5" y2="909.6" stroke="#000" stroke-width="0.7"/>
<line x1="857" y1="911.5" x2="922" y2="911.5" stroke="#999" stroke-width="1"/>
<text transform="translate(487.8 908.9) scale(0.87 1)" font-size="9.4" text-anchor="middle" fill="#000">2,95</text>
<text transform="translate(566.8 908.9) scale(0.87 1)" font-size="9.4" text-anchor="middle" fill="#000">2,18</text>
<text transform="translate(727.8 908.9) scale(0.87 1)" font-size="9.4" text-anchor="middle" fill="#000">8,61</text>
<text transform="translate(889.5 908.9) scale(0.87 1)" font-size="9.4" text-anchor="middle" fill="#000">2,24</text>
<text transform="translate(1016 908.9) scale(0.87 1)" font-size="9.4" text-anchor="middle" fill="#000">6,16</text>
<text transform="translate(413.3 923.2) scale(0.87 1)" font-size="9.4" text-anchor="middle" fill="#000">3,10</text>
<text transform="translate(531.2 923.2) scale(0.87 1)" font-size="9.4" text-anchor="middle" fill="#000">4,65</text>
<text transform="translate(736 923.2) scale(0.87 1)" font-size="9.4" text-anchor="middle" fill="#000">9,16</text>
<text transform="translate(940.4 923.2) scale(0.87 1)" font-size="9.4" text-anchor="middle" fill="#000">4,73</text>
<text transform="translate(1061.3 923.2) scale(0.87 1)" font-size="9.4" text-anchor="middle" fill="#000">3,22</text>
<line x1="474" y1="686.5" x2="531.2" y2="686.5" stroke="#000" stroke-width="1"/>
<line x1="474.5" y1="681.7" x2="474.5" y2="689.6" stroke="#000" stroke-width="1.1"/>
<line x1="472.1" y1="687.6" x2="475.9" y2="684.4" stroke="#000" stroke-width="0.7"/>
<line x1="531.5" y1="681.7" x2="531.5" y2="689.6" stroke="#000" stroke-width="1.1"/>
<line x1="529.3" y1="687.6" x2="533.1" y2="684.4" stroke="#000" stroke-width="0.7"/>
<text transform="translate(503.5 683.3) scale(0.87 1)" font-size="9.4" text-anchor="middle" fill="#000">1,86</text>
<line x1="444.2" y1="697.5" x2="531.2" y2="697.5" stroke="#000" stroke-width="1"/>
<line x1="444.5" y1="692.7" x2="444.5" y2="700.6" stroke="#000" stroke-width="1.1"/>
<line x1="442.3" y1="698.6" x2="446.1" y2="695.4" stroke="#000" stroke-width="0.7"/>
<line x1="531.5" y1="692.7" x2="531.5" y2="700.6" stroke="#000" stroke-width="1.1"/>
<line x1="529.3" y1="698.6" x2="533.1" y2="695.4" stroke="#000" stroke-width="0.7"/>
<text transform="translate(486.5 695) scale(0.87 1)" font-size="9.4" text-anchor="middle" fill="#000">2,95</text>
<line x1="261.2" y1="88.7" x2="261.2" y2="856" stroke="#777" stroke-width="1.5"/>
<line x1="257.2" y1="88.5" x2="265.2" y2="88.5" stroke="#000" stroke-width="1.1"/>
<line x1="259.6" y1="90.6" x2="262.8" y2="86.8" stroke="#000" stroke-width="0.7"/>
<line x1="257.2" y1="856.5" x2="265.2" y2="856.5" stroke="#000" stroke-width="1.1"/>
<line x1="259.6" y1="857.9" x2="262.8" y2="854.1" stroke="#000" stroke-width="0.7"/>
<text transform="translate(263.1 472) rotate(90) scale(0.87 1)" font-size="9.4" text-anchor="middle" fill="#000">26,57</text>
<line x1="275.5" y1="108.7" x2="275.5" y2="428" stroke="#000" stroke-width="1"/>
<line x1="271.5" y1="108.5" x2="279.5" y2="108.5" stroke="#000" stroke-width="1.1"/>
<line x1="273.9" y1="110.6" x2="277.1" y2="106.8" stroke="#000" stroke-width="0.7"/>
<line x1="271.5" y1="428.5" x2="279.5" y2="428.5" stroke="#000" stroke-width="1.1"/>
<line x1="273.9" y1="429.9" x2="277.1" y2="426.1" stroke="#000" stroke-width="0.7"/>
<line x1="275.5" y1="108.7" x2="275.5" y2="157" stroke="#777" stroke-width="1"/>
<text transform="translate(277.1 268.7) rotate(90) scale(0.87 1)" font-size="9.4" text-anchor="middle" fill="#000">11,02</text>
<line x1="289.5" y1="108.7" x2="289.5" y2="428" stroke="#777" stroke-width="1.5"/>
<line x1="285.5" y1="108.5" x2="293.5" y2="108.5" stroke="#000" stroke-width="1.1"/>
<line x1="287.9" y1="110.6" x2="291.1" y2="106.8" stroke="#000" stroke-width="0.7"/>
<line x1="285.5" y1="428.5" x2="293.5" y2="428.5" stroke="#000" stroke-width="1.1"/>
<line x1="287.9" y1="429.9" x2="291.1" y2="426.1" stroke="#000" stroke-width="0.7"/>
<text transform="translate(291.1 268.7) rotate(90) scale(0.87 1)" font-size="9.4" text-anchor="middle" fill="#000">11,02</text>
<line x1="303.5" y1="88.5" x2="303.5" y2="856" stroke="#000" stroke-width="1"/>
<line x1="299.5" y1="88.5" x2="307.5" y2="88.5" stroke="#000" stroke-width="1.1"/>
<line x1="301.9" y1="90.4" x2="305.1" y2="86.6" stroke="#000" stroke-width="0.7"/>
<line x1="299.5" y1="156.5" x2="307.5" y2="156.5" stroke="#000" stroke-width="1.1"/>
<line x1="301.9" y1="158.4" x2="305.1" y2="154.6" stroke="#000" stroke-width="0.7"/>
<line x1="299.5" y1="228.5" x2="307.5" y2="228.5" stroke="#000" stroke-width="1.1"/>
<line x1="301.9" y1="229.9" x2="305.1" y2="226.1" stroke="#000" stroke-width="0.7"/>
<line x1="299.5" y1="293.5" x2="307.5" y2="293.5" stroke="#000" stroke-width="1.1"/>
<line x1="301.9" y1="295.6" x2="305.1" y2="291.8" stroke="#000" stroke-width="0.7"/>
<line x1="299.5" y1="376.5" x2="307.5" y2="376.5" stroke="#000" stroke-width="1.1"/>
<line x1="301.9" y1="378.1" x2="305.1" y2="374.3" stroke="#000" stroke-width="0.7"/>
<line x1="299.5" y1="491.5" x2="307.5" y2="491.5" stroke="#000" stroke-width="1.1"/>
<line x1="301.9" y1="493.1" x2="305.1" y2="489.3" stroke="#000" stroke-width="0.7"/>
<line x1="299.5" y1="856.5" x2="307.5" y2="856.5" stroke="#000" stroke-width="1.1"/>
<line x1="301.9" y1="857.9" x2="305.1" y2="854.1" stroke="#000" stroke-width="0.7"/>
<line x1="303.5" y1="293.7" x2="303.5" y2="376.2" stroke="#777" stroke-width="1"/>
<text transform="translate(305.1 122.5) rotate(90) scale(0.87 1)" font-size="9.4" text-anchor="middle" fill="#000">2,33</text>
<text transform="translate(305.1 192.5) rotate(90) scale(0.87 1)" font-size="9.4" text-anchor="middle" fill="#000">2,48</text>
<text transform="translate(305.1 260.5) rotate(90) scale(0.87 1)" font-size="9.4" text-anchor="middle" fill="#000">2,28</text>
<text transform="translate(305.1 335) rotate(90) scale(0.87 1)" font-size="9.4" text-anchor="middle" fill="#000">2,86</text>
<text transform="translate(305.1 433.7) rotate(90) scale(0.87 1)" font-size="9.4" text-anchor="middle" fill="#000">3,98</text>
<text transform="translate(305.1 673.7) rotate(90) scale(0.87 1)" font-size="9.4" text-anchor="middle" fill="#000">12,64</text>
<line x1="289.5" y1="442" x2="289.5" y2="523.7" stroke="#000" stroke-width="1"/>
<line x1="285.5" y1="442.5" x2="293.5" y2="442.5" stroke="#000" stroke-width="1.1"/>
<line x1="287.9" y1="443.9" x2="291.1" y2="440.1" stroke="#000" stroke-width="0.7"/>
<line x1="285.5" y1="523.5" x2="293.5" y2="523.5" stroke="#000" stroke-width="1.1"/>
<line x1="287.9" y1="525.6" x2="291.1" y2="521.8" stroke="#000" stroke-width="0.7"/>
<text transform="translate(292.1 482) rotate(90) scale(0.87 1)" font-size="9.4" text-anchor="middle" fill="#000">2,81</text>
<line x1="275.5" y1="553.7" x2="275.5" y2="654.5" stroke="#000" stroke-width="1"/>
<line x1="271.5" y1="553.5" x2="279.5" y2="553.5" stroke="#000" stroke-width="1.1"/>
<line x1="273.9" y1="555.6" x2="277.1" y2="551.8" stroke="#000" stroke-width="0.7"/>
<line x1="271.5" y1="654.5" x2="279.5" y2="654.5" stroke="#000" stroke-width="1.1"/>
<line x1="273.9" y1="656.4" x2="277.1" y2="652.6" stroke="#000" stroke-width="0.7"/>
<text transform="translate(277.3 604.5) rotate(90) scale(0.87 1)" font-size="9.4" text-anchor="middle" fill="#000">3,48</text>
<line x1="289.5" y1="553.7" x2="289.5" y2="654.5" stroke="#000" stroke-width="1"/>
<line x1="285.5" y1="553.5" x2="293.5" y2="553.5" stroke="#000" stroke-width="1.1"/>
<line x1="287.9" y1="555.6" x2="291.1" y2="551.8" stroke="#000" stroke-width="0.7"/>
<line x1="285.5" y1="604.5" x2="293.5" y2="604.5" stroke="#000" stroke-width="1.1"/>
<line x1="287.9" y1="606.1" x2="291.1" y2="602.3" stroke="#000" stroke-width="0.7"/>
<line x1="285.5" y1="654.5" x2="293.5" y2="654.5" stroke="#000" stroke-width="1.1"/>
<line x1="287.9" y1="656.4" x2="291.1" y2="652.6" stroke="#000" stroke-width="0.7"/>
<line x1="289.5" y1="604.2" x2="289.5" y2="654.5" stroke="#777" stroke-width="1"/>
<text transform="translate(292.1 578.7) rotate(90) scale(0.87 1)" font-size="9.4" text-anchor="middle" fill="#000">1,69</text>
<text transform="translate(292.1 630.7) rotate(90) scale(0.87 1)" font-size="9.4" text-anchor="middle" fill="#000">1,67</text>
<line x1="314.5" y1="553.7" x2="314.5" y2="654.5" stroke="#000" stroke-width="1"/>
<line x1="310.2" y1="553.5" x2="318.2" y2="553.5" stroke="#000" stroke-width="1.1"/>
<line x1="312.6" y1="555.6" x2="315.8" y2="551.8" stroke="#000" stroke-width="0.7"/>
<line x1="310.2" y1="604.5" x2="318.2" y2="604.5" stroke="#000" stroke-width="1.1"/>
<line x1="312.6" y1="606.1" x2="315.8" y2="602.3" stroke="#000" stroke-width="0.7"/>
<line x1="310.2" y1="654.5" x2="318.2" y2="654.5" stroke="#000" stroke-width="1.1"/>
<line x1="312.6" y1="656.4" x2="315.8" y2="652.6" stroke="#000" stroke-width="0.7"/>
<text transform="translate(315.8 578.7) rotate(90) scale(0.87 1)" font-size="9.4" text-anchor="middle" fill="#000">1,69</text>
<text transform="translate(315.8 630.7) rotate(90) scale(0.87 1)" font-size="9.4" text-anchor="middle" fill="#000">1,69</text>
<line x1="329.5" y1="557.5" x2="329.5" y2="603.7" stroke="#000" stroke-width="1"/>
<line x1="325.7" y1="557.5" x2="333.7" y2="557.5" stroke="#000" stroke-width="1.1"/>
<line x1="328.1" y1="559.4" x2="331.3" y2="555.6" stroke="#000" stroke-width="0.7"/>
<line x1="325.7" y1="603.5" x2="333.7" y2="603.5" stroke="#000" stroke-width="1.1"/>
<line x1="328.1" y1="605.6" x2="331.3" y2="601.8" stroke="#000" stroke-width="0.7"/>
<text transform="translate(331.4 580) rotate(90) scale(0.87 1)" font-size="9.4" text-anchor="middle" fill="#000">1,54</text>
<line x1="275.5" y1="673.7" x2="275.5" y2="836.7" stroke="#000" stroke-width="1"/>
<line x1="271.5" y1="673.5" x2="279.5" y2="673.5" stroke="#000" stroke-width="1.1"/>
<line x1="273.9" y1="675.6" x2="277.1" y2="671.8" stroke="#000" stroke-width="0.7"/>
<line x1="271.5" y1="836.5" x2="279.5" y2="836.5" stroke="#000" stroke-width="1.1"/>
<line x1="273.9" y1="838.6" x2="277.1" y2="834.8" stroke="#000" stroke-width="0.7"/>
<text transform="translate(277.3 754.7) rotate(90) scale(0.87 1)" font-size="9.4" text-anchor="middle" fill="#000">5,61</text>
<line x1="588.5" y1="86.5" x2="588.5" y2="432.5" stroke="#000" stroke-width="1"/>
<line x1="584" y1="86.5" x2="592" y2="86.5" stroke="#000" stroke-width="1.1"/>
<line x1="586.4" y1="88.4" x2="589.6" y2="84.6" stroke="#000" stroke-width="0.7"/>
<line x1="584" y1="157.5" x2="592" y2="157.5" stroke="#000" stroke-width="1.1"/>
<line x1="586.4" y1="159.6" x2="589.6" y2="155.8" stroke="#000" stroke-width="0.7"/>
<line x1="584" y1="228.5" x2="592" y2="228.5" stroke="#000" stroke-width="1.1"/>
<line x1="586.4" y1="229.9" x2="589.6" y2="226.1" stroke="#000" stroke-width="0.7"/>
<line x1="584" y1="296.5" x2="592" y2="296.5" stroke="#000" stroke-width="1.1"/>
<line x1="586.4" y1="298.1" x2="589.6" y2="294.3" stroke="#000" stroke-width="0.7"/>
<line x1="584" y1="366.5" x2="592" y2="366.5" stroke="#000" stroke-width="1.1"/>
<line x1="586.4" y1="368.6" x2="589.6" y2="364.8" stroke="#000" stroke-width="0.7"/>
<line x1="584" y1="432.5" x2="592" y2="432.5" stroke="#000" stroke-width="1.1"/>
<line x1="586.4" y1="434.4" x2="589.6" y2="430.6" stroke="#000" stroke-width="0.7"/>
<line x1="588.5" y1="228" x2="588.5" y2="296.2" stroke="#777" stroke-width="1"/>
<text transform="translate(589.8 122.5) rotate(90) scale(0.87 1)" font-size="9.4" text-anchor="middle" fill="#000">2,43</text>
<text transform="translate(589.8 192) rotate(90) scale(0.87 1)" font-size="9.4" text-anchor="middle" fill="#000">2,41</text>
<text transform="translate(589.8 262) rotate(90) scale(0.87 1)" font-size="9.4" text-anchor="middle" fill="#000">2,40</text>
<text transform="translate(589.8 331) rotate(90) scale(0.87 1)" font-size="9.4" text-anchor="middle" fill="#000">2,41</text>
<text transform="translate(589.8 399.5) rotate(90) scale(0.87 1)" font-size="9.4" text-anchor="middle" fill="#000">2,28</text>
<line x1="602.5" y1="108" x2="602.5" y2="427.4" stroke="#777" stroke-width="1.5"/>
<line x1="598.5" y1="108.5" x2="606.5" y2="108.5" stroke="#000" stroke-width="1.1"/>
<line x1="600.9" y1="109.9" x2="604.1" y2="106.1" stroke="#000" stroke-width="0.7"/>
<line x1="598.5" y1="427.5" x2="606.5" y2="427.5" stroke="#000" stroke-width="1.1"/>
<line x1="600.9" y1="429.3" x2="604.1" y2="425.5" stroke="#000" stroke-width="0.7"/>
<line x1="602.5" y1="366.7" x2="602.5" y2="427.4" stroke="#000" stroke-width="1"/>
<text transform="translate(604 267.5) rotate(90) scale(0.87 1)" font-size="9.4" text-anchor="middle" fill="#000">11,06</text>
<line x1="602.5" y1="427.4" x2="602.5" y2="471" stroke="#e3a0a0" stroke-width="0.9"/>
<line x1="616.5" y1="87" x2="616.5" y2="472.6" stroke="#555" stroke-width="1"/>
<line x1="612.6" y1="87.5" x2="620.6" y2="87.5" stroke="#000" stroke-width="1.1"/>
<line x1="615" y1="88.9" x2="618.2" y2="85.1" stroke="#000" stroke-width="0.7"/>
<line x1="612.6" y1="472.5" x2="620.6" y2="472.5" stroke="#000" stroke-width="1.1"/>
<line x1="615" y1="474.5" x2="618.2" y2="470.7" stroke="#000" stroke-width="0.7"/>
<text transform="translate(618.4 278.7) rotate(90) scale(0.87 1)" font-size="9.4" text-anchor="middle" fill="#000">13,31</text>
<line x1="823.5" y1="86" x2="823.5" y2="472" stroke="#000" stroke-width="1"/>
<line x1="819.5" y1="86.5" x2="827.5" y2="86.5" stroke="#000" stroke-width="1.1"/>
<line x1="821.9" y1="87.9" x2="825.1" y2="84.1" stroke="#000" stroke-width="0.7"/>
<text transform="translate(825.4 279) rotate(90) scale(0.87 1)" font-size="9.4" text-anchor="middle" fill="#000">13,32</text>
<line x1="852.5" y1="86" x2="852.5" y2="431.3" stroke="#000" stroke-width="1"/>
<line x1="848.5" y1="86.5" x2="856.5" y2="86.5" stroke="#000" stroke-width="1.1"/>
<line x1="850.9" y1="87.9" x2="854.1" y2="84.1" stroke="#000" stroke-width="0.7"/>
<line x1="848.5" y1="155.5" x2="856.5" y2="155.5" stroke="#000" stroke-width="1.1"/>
<line x1="850.9" y1="156.9" x2="854.1" y2="153.1" stroke="#000" stroke-width="0.7"/>
<line x1="848.5" y1="223.5" x2="856.5" y2="223.5" stroke="#000" stroke-width="1.1"/>
<line x1="850.9" y1="225.6" x2="854.1" y2="221.8" stroke="#000" stroke-width="0.7"/>
<line x1="848.5" y1="294.5" x2="856.5" y2="294.5" stroke="#000" stroke-width="1.1"/>
<line x1="850.9" y1="296.4" x2="854.1" y2="292.6" stroke="#000" stroke-width="0.7"/>
<line x1="848.5" y1="363.5" x2="856.5" y2="363.5" stroke="#000" stroke-width="1.1"/>
<line x1="850.9" y1="365.6" x2="854.1" y2="361.8" stroke="#000" stroke-width="0.7"/>
<line x1="848.5" y1="431.5" x2="856.5" y2="431.5" stroke="#000" stroke-width="1.1"/>
<line x1="850.9" y1="433.2" x2="854.1" y2="429.4" stroke="#000" stroke-width="0.7"/>
<text transform="translate(854 121) rotate(90) scale(0.87 1)" font-size="9.4" text-anchor="middle" fill="#000">2,35</text>
<text transform="translate(854 189.5) rotate(90) scale(0.87 1)" font-size="9.4" text-anchor="middle" fill="#000">2,41</text>
<text transform="translate(854 258.7) rotate(90) scale(0.87 1)" font-size="9.4" text-anchor="middle" fill="#000">2,41</text>
<text transform="translate(854 328.7) rotate(90) scale(0.87 1)" font-size="9.4" text-anchor="middle" fill="#000">2,41</text>
<text transform="translate(854 397.5) rotate(90) scale(0.87 1)" font-size="9.4" text-anchor="middle" fill="#000">2,36</text>
<line x1="838.5" y1="431.4" x2="838.5" y2="471" stroke="#e3a0a0" stroke-width="0.9"/>
<text transform="translate(835.8 452) rotate(90) scale(0.9 1)" font-size="8" text-anchor="middle" fill="#333">1,38</text>
<line x1="1161.5" y1="101.2" x2="1161.5" y2="428" stroke="#000" stroke-width="1"/>
<line x1="1157.7" y1="101.5" x2="1165.7" y2="101.5" stroke="#000" stroke-width="1.1"/>
<line x1="1160.1" y1="103.1" x2="1163.3" y2="99.3" stroke="#000" stroke-width="0.7"/>
<line x1="1157.7" y1="188.5" x2="1165.7" y2="188.5" stroke="#000" stroke-width="1.1"/>
<line x1="1160.1" y1="190.1" x2="1163.3" y2="186.3" stroke="#000" stroke-width="0.7"/>
<line x1="1157.7" y1="192.5" x2="1165.7" y2="192.5" stroke="#000" stroke-width="1.1"/>
<line x1="1160.1" y1="193.9" x2="1163.3" y2="190.1" stroke="#000" stroke-width="0.7"/>
<line x1="1157.7" y1="302.5" x2="1165.7" y2="302.5" stroke="#000" stroke-width="1.1"/>
<line x1="1160.1" y1="304.4" x2="1163.3" y2="300.6" stroke="#000" stroke-width="0.7"/>
<line x1="1157.7" y1="305.5" x2="1165.7" y2="305.5" stroke="#000" stroke-width="1.1"/>
<line x1="1160.1" y1="306.9" x2="1163.3" y2="303.1" stroke="#000" stroke-width="0.7"/>
<line x1="1157.7" y1="341.5" x2="1165.7" y2="341.5" stroke="#000" stroke-width="1.1"/>
<line x1="1160.1" y1="342.9" x2="1163.3" y2="339.1" stroke="#000" stroke-width="0.7"/>
<line x1="1157.7" y1="357.5" x2="1165.7" y2="357.5" stroke="#000" stroke-width="1.1"/>
<line x1="1160.1" y1="358.9" x2="1163.3" y2="355.1" stroke="#000" stroke-width="0.7"/>
<line x1="1157.7" y1="368.5" x2="1165.7" y2="368.5" stroke="#000" stroke-width="1.1"/>
<line x1="1160.1" y1="369.9" x2="1163.3" y2="366.1" stroke="#000" stroke-width="0.7"/>
<line x1="1157.7" y1="374.5" x2="1165.7" y2="374.5" stroke="#000" stroke-width="1.1"/>
<line x1="1160.1" y1="376.4" x2="1163.3" y2="372.6" stroke="#000" stroke-width="0.7"/>
<line x1="1157.7" y1="428.5" x2="1165.7" y2="428.5" stroke="#000" stroke-width="1.1"/>
<line x1="1160.1" y1="429.9" x2="1163.3" y2="426.1" stroke="#000" stroke-width="0.7"/>
<line x1="1161.5" y1="192" x2="1161.5" y2="302" stroke="#777" stroke-width="1"/>
<line x1="1176.2" y1="101.2" x2="1176.2" y2="428" stroke="#777" stroke-width="1.5"/>
<line x1="1172.2" y1="101.5" x2="1180.2" y2="101.5" stroke="#000" stroke-width="1.1"/>
<line x1="1174.6" y1="103.1" x2="1177.8" y2="99.3" stroke="#000" stroke-width="0.7"/>
<line x1="1172.2" y1="302.5" x2="1180.2" y2="302.5" stroke="#000" stroke-width="1.1"/>
<line x1="1174.6" y1="304.4" x2="1177.8" y2="300.6" stroke="#000" stroke-width="0.7"/>
<line x1="1172.2" y1="318.5" x2="1180.2" y2="318.5" stroke="#000" stroke-width="1.1"/>
<line x1="1174.6" y1="320.6" x2="1177.8" y2="316.8" stroke="#000" stroke-width="0.7"/>
<line x1="1172.2" y1="428.5" x2="1180.2" y2="428.5" stroke="#000" stroke-width="1.1"/>
<line x1="1174.6" y1="429.9" x2="1177.8" y2="426.1" stroke="#000" stroke-width="0.7"/>
<line x1="1176.5" y1="302.5" x2="1176.5" y2="428" stroke="#000" stroke-width="1"/>
<line x1="1191.5" y1="101.2" x2="1191.5" y2="342" stroke="#000" stroke-width="1"/>
<line x1="1187" y1="101.5" x2="1195" y2="101.5" stroke="#000" stroke-width="1.1"/>
<line x1="1189.4" y1="103.1" x2="1192.6" y2="99.3" stroke="#000" stroke-width="0.7"/>
<line x1="1187" y1="302.5" x2="1195" y2="302.5" stroke="#000" stroke-width="1.1"/>
<line x1="1189.4" y1="304.4" x2="1192.6" y2="300.6" stroke="#000" stroke-width="0.7"/>
<line x1="1187" y1="342.5" x2="1195" y2="342.5" stroke="#000" stroke-width="1.1"/>
<line x1="1189.4" y1="343.9" x2="1192.6" y2="340.1" stroke="#000" stroke-width="0.7"/>
<line x1="1191.5" y1="355.7" x2="1191.5" y2="428" stroke="#000" stroke-width="1"/>
<line x1="1187" y1="355.5" x2="1195" y2="355.5" stroke="#000" stroke-width="1.1"/>
<line x1="1189.4" y1="357.6" x2="1192.6" y2="353.8" stroke="#000" stroke-width="0.7"/>
<line x1="1187" y1="428.5" x2="1195" y2="428.5" stroke="#000" stroke-width="1.1"/>
<line x1="1189.4" y1="429.9" x2="1192.6" y2="426.1" stroke="#000" stroke-width="0.7"/>
<line x1="1191.5" y1="442" x2="1191.5" y2="472.5" stroke="#000" stroke-width="1"/>
<line x1="1187" y1="442.5" x2="1195" y2="442.5" stroke="#000" stroke-width="1.1"/>
<line x1="1189.4" y1="443.9" x2="1192.6" y2="440.1" stroke="#000" stroke-width="0.7"/>
<line x1="1187" y1="472.5" x2="1195" y2="472.5" stroke="#000" stroke-width="1.1"/>
<line x1="1189.4" y1="474.4" x2="1192.6" y2="470.6" stroke="#000" stroke-width="0.7"/>
<line x1="1191.5" y1="488.2" x2="1191.5" y2="657" stroke="#000" stroke-width="1"/>
<line x1="1187" y1="488.5" x2="1195" y2="488.5" stroke="#000" stroke-width="1.1"/>
<line x1="1189.4" y1="490.1" x2="1192.6" y2="486.3" stroke="#000" stroke-width="0.7"/>
<line x1="1187" y1="657.5" x2="1195" y2="657.5" stroke="#000" stroke-width="1.1"/>
<line x1="1189.4" y1="658.9" x2="1192.6" y2="655.1" stroke="#000" stroke-width="0.7"/>
<line x1="1191.5" y1="673.7" x2="1191.5" y2="836.2" stroke="#555" stroke-width="1"/>
<line x1="1187" y1="673.5" x2="1195" y2="673.5" stroke="#000" stroke-width="1.1"/>
<line x1="1189.4" y1="675.6" x2="1192.6" y2="671.8" stroke="#000" stroke-width="0.7"/>
<line x1="1187" y1="836.5" x2="1195" y2="836.5" stroke="#000" stroke-width="1.1"/>
<line x1="1189.4" y1="838.1" x2="1192.6" y2="834.3" stroke="#000" stroke-width="0.7"/>
<line x1="1205" y1="86.2" x2="1205" y2="856" stroke="#777" stroke-width="1.5"/>
<line x1="1201" y1="86.5" x2="1209" y2="86.5" stroke="#000" stroke-width="1.1"/>
<line x1="1203.4" y1="88.1" x2="1206.6" y2="84.3" stroke="#000" stroke-width="0.7"/>
<line x1="1201" y1="856.5" x2="1209" y2="856.5" stroke="#000" stroke-width="1.1"/>
<line x1="1203.4" y1="857.9" x2="1206.6" y2="854.1" stroke="#000" stroke-width="0.7"/>
<text transform="translate(1163.8 144.5) rotate(90) scale(0.87 1)" font-size="9.4" text-anchor="middle" fill="#000">3,00</text>
<text transform="translate(1163.8 202.5) rotate(90) scale(0.87 1)" font-size="9.4" text-anchor="middle" fill="#000">0,16</text>
<text transform="translate(1163.8 247.5) rotate(90) scale(0.87 1)" font-size="9.4" text-anchor="middle" fill="#000">3,79</text>
<text transform="translate(1163.8 292.5) rotate(90) scale(0.87 1)" font-size="9.4" text-anchor="middle" fill="#000">0,10</text>
<text transform="translate(1163.8 323.7) rotate(90) scale(0.87 1)" font-size="9.4" text-anchor="middle" fill="#000">1,27</text>
<text transform="translate(1163.8 383.7) rotate(90) scale(0.87 1)" font-size="9.4" text-anchor="middle" fill="#000">0,25</text>
<text transform="translate(1163.8 402.5) rotate(90) scale(0.87 1)" font-size="9.4" text-anchor="middle" fill="#000">1,82</text>
<text transform="translate(1178.3 202) rotate(90) scale(0.87 1)" font-size="9.4" text-anchor="middle" fill="#000">6,95</text>
<text transform="translate(1192.8 202) rotate(90) scale(0.87 1)" font-size="9.4" text-anchor="middle" fill="#000">6,95</text>
<text transform="translate(1178.5 328.7) rotate(90) scale(0.87 1)" font-size="9.4" text-anchor="middle" fill="#000">0,59</text>
<text transform="translate(1172.3 344.5) rotate(90) scale(0.87 1)" font-size="9.4" text-anchor="middle" fill="#000">0,51</text>
<text transform="translate(1172.3 368) rotate(90) scale(0.87 1)" font-size="9.4" text-anchor="middle" fill="#000">0,39</text>
<text transform="translate(1178.5 382) rotate(90) scale(0.87 1)" font-size="9.4" text-anchor="middle" fill="#000">3,75</text>
<text transform="translate(1192.8 322.5) rotate(90) scale(0.87 1)" font-size="9.4" text-anchor="middle" fill="#000">1,37</text>
<text transform="translate(1192.8 391) rotate(90) scale(0.87 1)" font-size="9.4" text-anchor="middle" fill="#000">2,47</text>
<text transform="translate(1192.8 465) rotate(90) scale(0.87 1)" font-size="9.4" text-anchor="middle" fill="#000">1,04</text>
<text transform="translate(1192.8 572.5) rotate(90) scale(0.87 1)" font-size="9.4" text-anchor="middle" fill="#000">5,79</text>
<text transform="translate(1192.8 754.7) rotate(90) scale(0.87 1)" font-size="9.4" text-anchor="middle" fill="#000">5,62</text>
<text transform="translate(1206.8 470) rotate(90) scale(0.87 1)" font-size="9.4" text-anchor="middle" fill="#000">26,65</text>
<polyline points="145,89.2 1116,81.8" fill="none" stroke="#22a322" stroke-width="1"/>
<polyline points="1116,0 1116,81.8 1120.9,850.5 1118.8,850.5 1118.8,854.6 145,856.2" fill="none" stroke="#22a322" stroke-width="1"/>
<g fill="#b2b2b2" stroke="#b2b2b2" stroke-width="0" style="mix-blend-mode:multiply">
<polygon points="634.3,356.8 667.6,339 701.5,356.8 701.5,370.3 667.6,353.1 634.3,370.3"/>
<path fill-rule="evenodd" d="M606.1 413.7 A28.5 28.5 0 0 1 663.1 413.7 L663.1 462.8 A28.5 28.5 0 0 1 606.1 462.8 Z M621 413.7 L621 462.8 A13.6 13.6 0 0 0 648.2 462.8 L648.2 413.7 A13.6 13.6 0 0 0 621 413.7 Z"/>
<path d="M729.6 413.7 A27.85 28.5 0 0 0 673.9 413.7 L673.9 462.8 A27.85 28.5 0 0 0 729.6 462.8 L714.7 462.8 A12.9 13.6 0 0 1 688.9 462.8 L688.9 413.7 A12.9 13.6 0 0 1 714.7 413.7 Z"/>
<text x="605.2" y="543" font-size="39.5" stroke-width="1.4" textLength="125.5" lengthAdjust="spacingAndGlyphs">OTTHON</text>
<text x="605.6" y="580.6" font-size="32.5" stroke-width="1.4" textLength="125" lengthAdjust="spacingAndGlyphs">CENTRUM</text>
</g>
</svg>
</body></html>
